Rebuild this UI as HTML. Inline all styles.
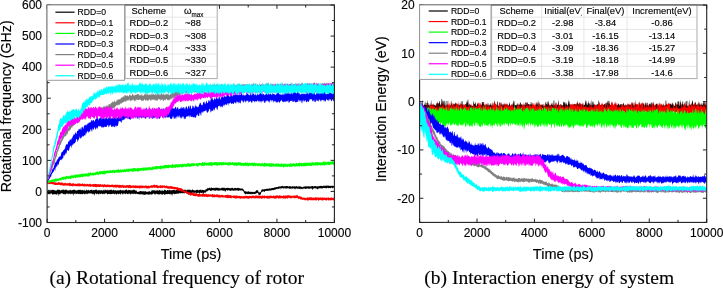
<!DOCTYPE html>
<html><head><meta charset="utf-8"><style>
html,body{margin:0;padding:0;background:#fff;width:723px;height:288px;overflow:hidden}
svg{display:block;will-change:transform}
text{stroke:#000;stroke-width:0.22px;stroke-opacity:0.6}

</style></head><body>
<svg width="723" height="288" viewBox="0 0 723 288" font-family='"Liberation Sans", sans-serif' fill="#000">
<rect width="723" height="288" fill="#fff"/>
<clipPath id="cl"><rect x="47.1" y="5" width="287.3" height="217.5"/></clipPath>
<clipPath id="cr"><rect x="419.6" y="5" width="287.1" height="217.4"/></clipPath>
<g clip-path="url(#cl)">
<path d="M47.1 190.29 47.6 190.7 48.1 190.52 48.6 189.68 49.1 189.8 49.6 190.67 50.1 189.35 50.6 190.59 51.1 190.55 51.6 190.05 52.1 189.8 52.6 189.76 53.1 189.73 53.6 190.02 54.1 190.11 54.6 190.18 55.1 190.85 55.6 190.54 56.1 190.29 56.6 190.84 57.1 189.67 57.6 189.58 58.1 190.27 58.6 189.41 59.1 189.39 59.6 190.12 60.1 190.05 60.6 190.73 61.1 190.3 61.6 190.12 62.1 190.1 62.6 189.72 63.1 189.36 63.6 189.63 64.1 190.39 64.6 189.64 65.1 189.9 65.6 189.35 66.1 190.6 66.6 189.57 67.1 189.75 67.6 190.68 68.1 190.11 68.6 190.63 69.1 190.31 69.6 190.47 70.1 189.48 70.6 190.16 71.1 190.11 71.6 190.66 72.1 189.89 72.6 190.25 73.1 189.43 73.6 189.93 74.1 189.83 74.6 189.57 75.1 190.58 75.6 189.92 76.1 190.83 76.6 190.24 77.1 190.26 77.6 190.31 78.1 190.37 78.6 189.57 79.1 190.01 79.6 189.7 80.1 189.95 80.6 189.49 81.1 190.81 81.6 189.67 82.1 190.36 82.6 189.8 83.1 190.67 83.6 190.35 84.1 189.54 84.6 190.62 85.1 190.78 85.6 190.71 86.1 190.21 86.6 189.56 87.1 189.63 87.6 190.75 88.1 190.18 88.6 189.61 89.1 190.68 89.6 190.32 90.1 190.21 90.6 189.91 91.1 189.96 91.6 189.7 92.1 189.4 92.6 190.67 93.1 190.05 93.6 190.17 94.1 189.83 94.6 190.48 95.1 189.38 95.6 189.91 96.1 189.39 96.6 189.53 97.1 190.81 97.6 190.34 98.1 189.99 98.6 190.14 99.1 190.67 99.6 189.86 100.1 190.24 100.6 190.38 101.1 189.88 101.6 190.13 102.1 190.5 102.6 190.72 103.1 189.57 103.6 190.76 104.1 189.35 104.6 190.48 105.1 190.57 105.6 189.55 106.1 189.98 106.6 190.58 107.1 189.36 107.6 190.3 108.1 190.55 108.6 190.12 109.1 190.44 109.6 189.68 110.1 189.64 110.6 189.89 111.1 189.61 111.6 189.87 112.1 190.78 112.6 190.21 113.1 189.86 113.6 189.75 114.1 190.79 114.6 190.02 115.1 190.83 115.6 190.12 116.1 190.13 116.6 190.7 117.1 190.47 117.6 190.22 118.1 189.99 118.6 190.67 119.1 189.97 119.6 190.74 120.1 189.44 120.6 189.99 121.1 190.13 121.6 190.79 122.1 189.72 122.6 190.57 123.1 190.37 123.6 190.43 124.1 190.3 124.6 190.82 125.1 189.85 125.6 189.95 126.1 189.65 126.6 189.42 127.1 189.66 127.6 190.73 128.1 190.62 128.6 189.51 129.1 190.26 129.6 190.07 130.1 190.24 130.6 190.34 131.1 189.81 131.6 190.8 132.1 190.05 132.6 190.29 133.1 190.31 133.6 189.62 134.1 189.43 134.6 189.97 135.1 190.5 135.6 190.58 136.1 190.58 136.6 190.43 137.1 192 137.6 191.86 138.1 191.95 138.6 191.53 139.1 192 139.6 190.96 140.1 190.94 140.6 190.92 141.1 191.2 141.6 191.2 142.1 191.13 142.6 191.58 143.1 190.95 143.6 191.61 144.1 191.1 144.6 191.71 145.1 190.93 145.6 191.27 146.1 192.03 146.6 191.55 147.1 191.87 147.6 191.69 148.1 191.63 148.6 191.13 149.1 191.59 149.6 190.95 150.1 191.83 150.6 191.84 151.1 191.53 151.6 190.24 152.1 190.43 152.6 190.19 153.1 189.71 153.6 190.49 154.1 190.75 154.6 190.02 155.1 190.85 155.6 190.75 156.1 189.74 156.6 190.71 157.1 190.88 157.6 189.84 158.1 190.41 158.6 190.51 159.1 190.47 159.6 189.69 160.1 190.55 160.6 190.5 161.1 190.79 161.6 190.76 162.1 190.04 162.6 190.64 163.1 190.86 163.6 190.9 164.1 189.79 164.6 189.58 165.1 190.53 165.6 189.87 166.1 190.4 166.6 190.98 167.1 190.12 167.6 189.92 168.1 190.23 168.6 190.54 169.1 189.69 169.6 190.12 170.1 189.74 170.6 190.55 171.1 190.8 171.6 190.11 172.1 190.11 172.6 190.36 173.1 189.87 173.6 189.92 174.1 190.04 174.6 190.24 175.1 189.66 175.6 190.63 176.1 190.33 176.6 189.88 177.1 189.51 177.6 190.48 178.1 189.52 178.6 189.48 179.1 189.44 179.6 189.34 180.1 190.48 180.6 189.53 181.1 189.55 181.6 190.25 182.1 189.92 182.6 189.32 183.1 189.67 183.6 190.3 184.1 189.6 184.6 190.07 185.1 189.23 185.6 190.1 186.1 190.17 186.6 190.24 187.1 190.04 187.6 189.64 188.1 189.23 188.6 189.85 189.1 190.17 189.6 189.42 190.1 189.53 190.6 189.89 191.1 190.18 191.6 190.38 192.1 189.37 192.6 189.45 193.1 190.26 193.6 190.06 194.1 190.17 194.6 190.53 195.1 190.46 195.6 190.34 196.1 190.26 196.6 189.78 197.1 190.09 197.6 189.52 198.1 190.25 198.6 190.25 199.1 190.21 199.6 189.87 200.1 189.8 200.6 189.85 201.1 189.38 201.6 190.39 202.1 190.02 202.6 189.84 203.1 190.04 203.6 190.25 204.1 189.85 204.6 190.39 205.1 190.43 205.6 189.45 206.1 188.82 206.6 189.17 207.1 189.07 207.6 187.81 208.1 188.12 208.6 188.24 209.1 188.34 209.6 187.52 210.1 187.49 210.6 188.42 211.1 187.53 211.6 187.59 212.1 188.01 212.6 187.88 213.1 188.19 213.6 187.62 214.1 188.37 214.6 187.66 215.1 188.23 215.6 187.52 216.1 187.93 216.6 187.49 217.1 187.78 217.6 187.78 218.1 188.2 218.6 187.93 219.1 187.54 219.6 188.48 220.1 188.38 220.6 188.41 221.1 187.74 221.6 187.89 222.1 187.73 222.6 187.63 223.1 187.55 223.6 188.02 224.1 187.65 224.6 187.7 225.1 188.38 225.6 188.01 226.1 187.72 226.6 188.21 227.1 187.81 227.6 188.07 228.1 187.84 228.6 188.07 229.1 188.18 229.6 188.1 230.1 187.96 230.6 188.35 231.1 188.43 231.6 187.76 232.1 187.73 232.6 187.71 233.1 188.55 233.6 188.52 234.1 187.83 234.6 188.55 235.1 187.82 235.6 188.12 236.1 188.12 236.6 188.54 237.1 187.71 237.6 187.99 238.1 188.27 238.6 187.77 239.1 187.95 239.6 188.18 240.1 188.59 240.6 188.49 241.1 188.57 241.6 188.52 242.1 188.48 242.6 188.63 243.1 188.68 243.6 189.77 244.1 190.38 244.6 191.08 245.1 191.67 245.6 191.12 246.1 191.86 246.6 191.57 247.1 191.34 247.6 191.94 248.1 191.21 248.6 191.57 249.1 191.18 249.6 192.04 250.1 191.69 250.6 191.92 251.1 191.44 251.6 191.96 252.1 191.88 252.6 191.85 253.1 192.16 253.6 191.68 254.1 191.68 254.6 191.97 255.1 192.02 255.6 191.04 256.1 190.86 256.6 190 257.1 190.21 257.6 190.3 258.1 190.57 258.6 192.52 259.1 191.83 259.6 192.74 260.1 192.27 260.6 191.94 261.1 190.89 261.6 189.61 262.1 189.74 262.6 189.05 263.1 189.43 263.6 189.36 264.1 189.64 264.6 188.73 265.1 189.05 265.6 189.14 266.1 189 266.6 188.49 267.1 188.89 267.6 188.49 268.1 188.39 268.6 188.94 269.1 188.26 269.6 188.42 270.1 188.6 270.6 188.46 271.1 188.22 271.6 188.34 272.1 187.93 272.6 187.96 273.1 188.03 273.6 187.8 274.1 187.67 274.6 187.36 275.1 187.38 275.6 187.14 276.1 187.34 276.6 186.91 277.1 186.89 277.6 187.04 278.1 186.71 278.6 186.46 279.1 186.78 279.6 186.29 280.1 186.59 280.6 186.43 281.1 186.06 281.6 186.3 282.1 185.71 282.6 186.03 283.1 186.45 283.6 186.21 284.1 186.2 284.6 186.3 285.1 186.32 285.6 186.25 286.1 186.11 286.6 185.91 287.1 186.01 287.6 186.02 288.1 186.15 288.6 186.66 289.1 186.1 289.6 186.19 290.1 186.13 290.6 186.32 291.1 186.65 291.6 186.61 292.1 186.17 292.6 186.08 293.1 186.63 293.6 186.29 294.1 186.47 294.6 185.94 295.1 186.65 295.6 186.17 296.1 186.33 296.6 186.08 297.1 186.28 297.6 186.65 298.1 186.66 298.6 186.35 299.1 186.62 299.6 186.36 300.1 186.33 300.6 186.68 301.1 186.58 301.6 186.88 302.1 187.35 302.6 187.23 303.1 186.42 303.6 186.84 304.1 186.78 304.6 186.44 305.1 186.09 305.6 186.62 306.1 186.22 306.6 186.56 307.1 186.31 307.6 186.53 308.1 186.18 308.6 186.36 309.1 186.39 309.6 186.47 310.1 186.08 310.6 186.73 311.1 186.13 311.6 186.13 312.1 186.07 312.6 185.89 313.1 186.19 313.6 186.49 314.1 186.42 314.6 185.95 315.1 185.89 315.6 186.04 316.1 186.42 316.6 186.16 317.1 186.53 317.6 186.28 318.1 186.24 318.6 186.35 319.1 186.32 319.6 185.95 320.1 185.86 320.6 186.01 321.1 186.04 321.6 185.72 322.1 185.97 322.6 186.13 323.1 185.68 323.6 185.67 324.1 185.68 324.6 185.77 325.1 186.35 325.6 185.51 326.1 185.64 326.6 185.61 327.1 185.87 327.6 185.45 328.1 185.83 328.6 185.56 329.1 185.64 329.6 186.08 330.1 185.54 330.6 185.9 331.1 185.7 331.6 185.7 332.1 186.04 332.6 185.45 333.1 186.11 333.6 186.07 334.1 185.86 L334.1 187.86 333.6 187.53 333.1 188.02 332.6 188.28 332.1 187.93 331.6 187.61 331.1 187.8 330.6 188.14 330.1 188.24 329.6 188.04 329.1 188.08 328.6 188.33 328.1 187.94 327.6 187.81 327.1 187.66 326.6 188.48 326.1 188.23 325.6 188.21 325.1 187.99 324.6 187.95 324.1 187.9 323.6 188.37 323.1 187.81 322.6 188.54 322.1 188.48 321.6 188.58 321.1 188.32 320.6 188.59 320.1 187.92 319.6 188.53 319.1 188.27 318.6 188.74 318.1 188.41 317.6 189.64 317.1 188.67 316.6 188.58 316.1 188.42 315.6 188.22 315.1 188.42 314.6 188.11 314.1 188.39 313.6 188.67 313.1 188.13 312.6 190.19 312.1 188.83 311.6 188.31 311.1 188.76 310.6 188.34 310.1 188.67 309.6 188.88 309.1 188.23 308.6 188.98 308.1 188.48 307.6 188.17 307.1 188.68 306.6 188.48 306.1 189.03 305.6 188.94 305.1 188.76 304.6 188.51 304.1 188.58 303.6 188.56 303.1 189.06 302.6 188.79 302.1 189.36 301.6 188.86 301.1 189.13 300.6 189.28 300.1 188.23 299.6 188.99 299.1 188.97 298.6 188.5 298.1 188.74 297.6 188.4 297.1 188.92 296.6 188.36 296.1 188.51 295.6 188.5 295.1 189.84 294.6 188.53 294.1 188.7 293.6 188.62 293.1 188.21 292.6 188.73 292.1 188.4 291.6 188.4 291.1 188.65 290.6 188.88 290.1 188.23 289.6 188.64 289.1 188.66 288.6 188.48 288.1 188.07 287.6 188.41 287.1 188.3 286.6 188.71 286.1 188.32 285.6 188.49 285.1 188.4 284.6 188.04 284.1 188.4 283.6 188.61 283.1 188.61 282.6 187.98 282.1 188.16 281.6 188.39 281.1 188.28 280.6 188.02 280.1 189.71 279.6 188.29 279.1 188.27 278.6 189.21 278.1 188.73 277.6 188.6 277.1 189.55 276.6 188.9 276.1 188.97 275.6 189.58 275.1 189.87 274.6 189.64 274.1 189.65 273.6 190.19 273.1 189.78 272.6 190.25 272.1 189.94 271.6 190.62 271.1 190.34 270.6 190.39 270.1 190.39 269.6 190.81 269.1 190.49 268.6 190.77 268.1 190.84 267.6 191.07 267.1 190.8 266.6 190.83 266.1 191.03 265.6 190.88 265.1 191.08 264.6 191.88 264.1 191.85 263.6 191.3 263.1 191.38 262.6 191.62 262.1 191.92 261.6 191.7 261.1 193.1 260.6 194.55 260.1 195.06 259.6 195.05 259.1 194.41 258.6 195.15 258.1 193.08 257.6 192.74 257.1 192.94 256.6 193.14 256.1 193.54 255.6 193.76 255.1 193.71 254.6 194.3 254.1 193.93 253.6 193.73 253.1 193.98 252.6 193.99 252.1 194.13 251.6 194.37 251.1 193.62 250.6 194.44 250.1 194.11 249.6 193.83 249.1 194.19 248.6 193.75 248.1 194.23 247.6 193.72 247.1 194.24 246.6 193.85 246.1 193.85 245.6 194.28 245.1 194.21 244.6 193.49 244.1 193.12 243.6 191.74 243.1 190.91 242.6 190.58 242.1 190.72 241.6 190.2 241.1 190.42 240.6 190.21 240.1 190.78 239.6 190.55 239.1 190.18 238.6 190.63 238.1 191.03 237.6 190.54 237.1 190.26 236.6 190.73 236.1 190.06 235.6 190.82 235.1 190.22 234.6 190.57 234.1 190.72 233.6 190.62 233.1 190.82 232.6 190.41 232.1 190.16 231.6 190.14 231.1 190.94 230.6 190.94 230.1 190.44 229.6 190.5 229.1 190.51 228.6 190.06 228.1 190.58 227.6 190.98 227.1 190.05 226.6 190.1 226.1 190.5 225.6 190.93 225.1 192.13 224.6 190.32 224.1 190.89 223.6 190.87 223.1 190.5 222.6 190.71 222.1 190.2 221.6 190.44 221.1 190.01 220.6 190.51 220.1 190.31 219.6 190.4 219.1 190.87 218.6 190.24 218.1 190.98 217.6 190.86 217.1 190.03 216.6 190.17 216.1 190.45 215.6 190.79 215.1 190.82 214.6 190.7 214.1 190.12 213.6 190.06 213.1 190.9 212.6 190 212.1 190.52 211.6 190.64 211.1 190.83 210.6 190.97 210.1 190.59 209.6 190.25 209.1 190.09 208.6 190.62 208.1 190.55 207.6 191.02 207.1 191.57 206.6 191.21 206.1 191.89 205.6 192.31 205.1 193.4 204.6 192.59 204.1 192.53 203.6 193.18 203.1 194.93 202.6 192.45 202.1 192.69 201.6 193.24 201.1 192.82 200.6 192.54 200.1 193.22 199.6 193.55 199.1 193.64 198.6 192.75 198.1 192.46 197.6 193.34 197.1 192.71 196.6 193.01 196.1 193.64 195.6 192.5 195.1 192.56 194.6 192.9 194.1 192.73 193.6 192.57 193.1 194.24 192.6 192.53 192.1 192.49 191.6 192.92 191.1 192.93 190.6 193.42 190.1 193.3 189.6 193.2 189.1 192.56 188.6 193.78 188.1 193.84 187.6 193.33 187.1 192.91 186.6 193.87 186.1 192.8 185.6 192.87 185.1 192.81 184.6 193.87 184.1 192.65 183.6 193.52 183.1 192.76 182.6 193.37 182.1 193.4 181.6 193.09 181.1 193.01 180.6 193.53 180.1 193.34 179.6 192.87 179.1 193.8 178.6 193.37 178.1 194.1 177.6 194.08 177.1 193.26 176.6 193.44 176.1 194.17 175.6 193.76 175.1 193.9 174.6 194.5 174.1 193.8 173.6 193.76 173.1 193.7 172.6 193.69 172.1 196.13 171.6 194.36 171.1 194.2 170.6 194.49 170.1 193.43 169.6 194.44 169.1 194 168.6 193.93 168.1 194.02 167.6 194.06 167.1 194.49 166.6 193.91 166.1 193.96 165.6 194.77 165.1 193.91 164.6 194.78 164.1 194.77 163.6 194.03 163.1 193.74 162.6 194.85 162.1 194.7 161.6 194.53 161.1 193.96 160.6 194.58 160.1 193.58 159.6 194.86 159.1 194.37 158.6 194.46 158.1 194.2 157.6 194.04 157.1 194.2 156.6 193.44 156.1 194.27 155.6 194.74 155.1 193.39 154.6 194.77 154.1 193.84 153.6 193.48 153.1 193.5 152.6 194.75 152.1 193.69 151.6 194.56 151.1 194.98 150.6 193.95 150.1 194.46 149.6 194.75 149.1 194.08 148.6 195.02 148.1 194.62 147.6 194.43 147.1 194.07 146.6 194.2 146.1 194.78 145.6 194.27 145.1 195 144.6 194.96 144.1 194.39 143.6 194.81 143.1 194.39 142.6 194.21 142.1 194.81 141.6 194.3 141.1 193.94 140.6 194.24 140.1 194.6 139.6 194.33 139.1 194.46 138.6 194.06 138.1 194.16 137.6 193.96 137.1 194.24 136.6 193.78 136.1 193.46 135.6 193.91 135.1 194.15 134.6 193.83 134.1 193.39 133.6 194.46 133.1 193.16 132.6 194.33 132.1 193.61 131.6 194.37 131.1 193.32 130.6 194.28 130.1 194.63 129.6 193.68 129.1 193.35 128.6 193.81 128.1 194.27 127.6 193.94 127.1 193.88 126.6 193.4 126.1 193.25 125.6 194.54 125.1 193.85 124.6 193.43 124.1 193.65 123.6 193.21 123.1 194.52 122.6 194.43 122.1 193.4 121.6 193.52 121.1 193.29 120.6 194.54 120.1 194.38 119.6 193.3 119.1 193.99 118.6 194.18 118.1 193.96 117.6 193.71 117.1 193.55 116.6 194.96 116.1 194.26 115.6 193.97 115.1 193.35 114.6 194.38 114.1 194.08 113.6 193.39 113.1 193.89 112.6 194.03 112.1 193.44 111.6 193.98 111.1 194.36 110.6 194.04 110.1 194.28 109.6 194.01 109.1 193.63 108.6 194.12 108.1 194.02 107.6 194.59 107.1 194 106.6 193.26 106.1 193.37 105.6 193.74 105.1 193.2 104.6 193.63 104.1 194.61 103.6 193.83 103.1 193.85 102.6 194.38 102.1 193.54 101.6 193.25 101.1 194.3 100.6 193.7 100.1 193.93 99.6 193.15 99.1 194.46 98.6 194.46 98.1 194.04 97.6 193.24 97.1 194.36 96.6 193.86 96.1 194.48 95.6 193.33 95.1 193.25 94.6 196.1 94.1 194.01 93.6 193.55 93.1 194.54 92.6 194.26 92.1 193.47 91.6 193.85 91.1 193.24 90.6 193.4 90.1 193.55 89.6 193.47 89.1 193.26 88.6 193.6 88.1 193.58 87.6 193.82 87.1 194.45 86.6 193.85 86.1 193.56 85.6 194.25 85.1 193.45 84.6 194.22 84.1 194.6 83.6 193.18 83.1 193.73 82.6 194.2 82.1 194.24 81.6 193.71 81.1 194.27 80.6 194.11 80.1 194.29 79.6 193.59 79.1 194.45 78.6 193.83 78.1 194.1 77.6 193.62 77.1 194.06 76.6 194.3 76.1 193.56 75.6 193.27 75.1 194.43 74.6 193.98 74.1 193.19 73.6 195.91 73.1 193.32 72.6 194.38 72.1 193.34 71.6 194.21 71.1 193.55 70.6 194.57 70.1 193.55 69.6 193.46 69.1 194.18 68.6 194.36 68.1 193.36 67.6 193.51 67.1 194.34 66.6 193.14 66.1 193.75 65.6 194.44 65.1 194.17 64.6 194.51 64.1 193.56 63.6 194.55 63.1 193.82 62.6 193.6 62.1 193.42 61.6 193.34 61.1 193.26 60.6 193.65 60.1 194.29 59.6 194.43 59.1 193.78 58.6 194.19 58.1 196.13 57.6 193.17 57.1 193.92 56.6 195.29 56.1 194.06 55.6 194.59 55.1 194.01 54.6 194.17 54.1 194.15 53.6 194.07 53.1 194.64 52.6 194.53 52.1 194.4 51.6 193.19 51.1 193.62 50.6 193.31 50.1 194.49 49.6 194.59 49.1 193.47 48.6 194.31 48.1 194.05 47.6 194.15 47.1 193.22Z" fill="#000000"/>
<path d="M47.1 181.09 47.6 181.91 48.1 181.93 48.6 181.95 49.1 181.9 49.6 181.66 50.1 181.48 50.6 181.87 51.1 181.42 51.6 181.92 52.1 181.43 52.6 181.42 53.1 182.16 53.6 181.84 54.1 182.23 54.6 182.36 55.1 182.46 55.6 182.29 56.1 182.56 56.6 182.42 57.1 182.74 57.6 182.75 58.1 181.94 58.6 182.21 59.1 182.38 59.6 182.29 60.1 182.25 60.6 183.01 61.1 182.19 61.6 182.39 62.1 183.03 62.6 182.53 63.1 182.61 63.6 183.38 64.1 183.22 64.6 182.94 65.1 182.66 65.6 182.84 66.1 183.61 66.6 183.43 67.1 182.7 67.6 183.38 68.1 183.06 68.6 183.44 69.1 183.01 69.6 182.86 70.1 182.77 70.6 183.07 71.1 183.68 71.6 183.73 72.1 183.53 72.6 183.62 73.1 183.06 73.6 183.25 74.1 183.83 74.6 183.94 75.1 183.4 75.6 183.76 76.1 183.95 76.6 184.03 77.1 183.32 77.6 183.71 78.1 183.46 78.6 183.55 79.1 183.57 79.6 183.4 80.1 183.15 80.6 183.94 81.1 183.89 81.6 184.06 82.1 183.36 82.6 183.47 83.1 183.86 83.6 184.24 84.1 183.77 84.6 183.51 85.1 183.94 85.6 184.33 86.1 184.26 86.6 184.31 87.1 183.82 87.6 183.68 88.1 184.33 88.6 184.25 89.1 184.33 89.6 183.87 90.1 183.78 90.6 183.74 91.1 184.41 91.6 184.48 92.1 183.92 92.6 184.46 93.1 183.96 93.6 184.04 94.1 184.18 94.6 183.84 95.1 183.9 95.6 183.91 96.1 183.92 96.6 184.2 97.1 183.78 97.6 184.51 98.1 183.89 98.6 184.18 99.1 184.41 99.6 183.9 100.1 184.19 100.6 184.37 101.1 184.37 101.6 184.74 102.1 184.64 102.6 183.96 103.1 184.72 103.6 184.44 104.1 184.59 104.6 184.06 105.1 184.4 105.6 184.65 106.1 184.77 106.6 184.79 107.1 184.19 107.6 184.85 108.1 184.59 108.6 184.72 109.1 184.93 109.6 184.48 110.1 185.04 110.6 185.02 111.1 184.96 111.6 184.53 112.1 184.71 112.6 184.36 113.1 184.99 113.6 185.14 114.1 184.4 114.6 185.03 115.1 184.99 115.6 184.33 116.1 185.26 116.6 184.83 117.1 184.63 117.6 184.4 118.1 185.2 118.6 184.76 119.1 184.96 119.6 184.65 120.1 185.1 120.6 184.9 121.1 185.34 121.6 185.22 122.1 185.29 122.6 184.82 123.1 184.65 123.6 185.51 124.1 185.59 124.6 185.31 125.1 185.62 125.6 185.41 126.1 185.33 126.6 185.15 127.1 185.1 127.6 185.26 128.1 185 128.6 185.23 129.1 185.32 129.6 184.84 130.1 185.22 130.6 185.12 131.1 185.49 131.6 185.69 132.1 185.49 132.6 185.55 133.1 185.51 133.6 185.15 134.1 185.28 134.6 185.78 135.1 185.9 135.6 185.11 136.1 184.94 136.6 185.94 137.1 185.84 137.6 185.59 138.1 185.82 138.6 185.6 139.1 185.93 139.6 185.25 140.1 185.47 140.6 185.72 141.1 185.25 141.6 185.78 142.1 185.32 142.6 185.79 143.1 185.9 143.6 185.52 144.1 186.12 144.6 185.75 145.1 185.89 145.6 185.14 146.1 185.24 146.6 185.87 147.1 186.12 147.6 185.81 148.1 186.11 148.6 185.23 149.1 186.09 149.6 186 150.1 185.67 150.6 185.39 151.1 185.6 151.6 185.04 152.1 185.41 152.6 185.36 153.1 185.15 153.6 184.87 154.1 184.62 154.6 184.84 155.1 185.52 155.6 184.9 156.1 184.77 156.6 184.97 157.1 185.27 157.6 185.36 158.1 185.68 158.6 185.67 159.1 185.81 159.6 185.74 160.1 185.31 160.6 185 161.1 185.87 161.6 185.13 162.1 185.56 162.6 185.2 163.1 185.8 163.6 185.17 164.1 185.43 164.6 185.27 165.1 185.99 165.6 185.79 166.1 185.86 166.6 185.58 167.1 185.49 167.6 186.25 168.1 186.21 168.6 186.23 169.1 186.56 169.6 186.16 170.1 185.81 170.6 186.31 171.1 186.03 171.6 186.32 172.1 186.32 172.6 186.48 173.1 186.9 173.6 186.84 174.1 186.48 174.6 186.96 175.1 187.05 175.6 187.08 176.1 187.02 176.6 187.54 177.1 187.28 177.6 187.05 178.1 187.38 178.6 187.95 179.1 187.82 179.6 188.03 180.1 188.17 180.6 188.12 181.1 188.18 181.6 188.3 182.1 189.13 182.6 189.02 183.1 189.41 183.6 190.15 184.1 190.08 184.6 190.52 185.1 190.72 185.6 191.17 186.1 190.5 186.6 191.08 187.1 191.92 187.6 191.66 188.1 192.42 188.6 191.87 189.1 191.83 189.6 192.79 190.1 192.38 190.6 192.57 191.1 193.11 191.6 192.45 192.1 193.32 192.6 192.82 193.1 192.76 193.6 192.83 194.1 193.22 194.6 193.26 195.1 193.78 195.6 193.01 196.1 193.09 196.6 193.29 197.1 193.86 197.6 194.1 198.1 193.81 198.6 193.97 199.1 194.02 199.6 193.39 200.1 193.65 200.6 194.45 201.1 193.78 201.6 194.44 202.1 193.99 202.6 193.73 203.1 193.52 203.6 193.77 204.1 193.9 204.6 194.04 205.1 194.07 205.6 194.2 206.1 194.14 206.6 193.7 207.1 193.97 207.6 194.71 208.1 193.76 208.6 194.51 209.1 194.27 209.6 194.53 210.1 194.16 210.6 194.22 211.1 194.39 211.6 194.82 212.1 194.24 212.6 194.01 213.1 193.98 213.6 194.88 214.1 194.31 214.6 194.13 215.1 194.65 215.6 194.93 216.1 194.69 216.6 194.25 217.1 194.54 217.6 194.42 218.1 194.19 218.6 195.21 219.1 194.71 219.6 194.4 220.1 195.2 220.6 195.34 221.1 195.19 221.6 194.63 222.1 194.59 222.6 194.97 223.1 195.06 223.6 195.39 224.1 195.51 224.6 195.48 225.1 194.91 225.6 195.2 226.1 194.74 226.6 195.18 227.1 194.74 227.6 194.81 228.1 194.85 228.6 195.07 229.1 195.1 229.6 195.54 230.1 194.91 230.6 194.98 231.1 195.57 231.6 195.62 232.1 195.68 232.6 195.72 233.1 195.69 233.6 195.6 234.1 195.83 234.6 195.17 235.1 195.33 235.6 195.91 236.1 195.37 236.6 195.74 237.1 195.49 237.6 195.7 238.1 196.14 238.6 195.99 239.1 195.79 239.6 195.64 240.1 196.22 240.6 196.06 241.1 195.83 241.6 196.27 242.1 196.09 242.6 196.38 243.1 196.05 243.6 196.29 244.1 195.92 244.6 196.09 245.1 196.22 245.6 195.44 246.1 195.83 246.6 195.96 247.1 195.39 247.6 196.15 248.1 196.07 248.6 196.29 249.1 195.7 249.6 195.8 250.1 196.26 250.6 195.73 251.1 196.17 251.6 195.74 252.1 195.65 252.6 195.58 253.1 195.51 253.6 195.73 254.1 195.45 254.6 196.14 255.1 196.29 255.6 195.37 256.1 195.33 256.6 195.27 257.1 196.23 257.6 195.33 258.1 195.96 258.6 195.57 259.1 195.45 259.6 195.5 260.1 195.96 260.6 195.26 261.1 196.13 261.6 195.82 262.1 195.47 262.6 195.44 263.1 195.9 263.6 195.87 264.1 195.54 264.6 195.56 265.1 195.69 265.6 196.15 266.1 195.76 266.6 196.07 267.1 195.86 267.6 195.77 268.1 195.69 268.6 195.89 269.1 195.69 269.6 195.93 270.1 195.36 270.6 195.5 271.1 196.07 271.6 195.57 272.1 196.03 272.6 196.13 273.1 195.75 273.6 195.25 274.1 195.93 274.6 195.83 275.1 195.44 275.6 196.03 276.1 195.63 276.6 195.18 277.1 195.19 277.6 195.36 278.1 195.75 278.6 195.96 279.1 195.21 279.6 195.13 280.1 195.75 280.6 195.52 281.1 195.55 281.6 195.94 282.1 196.04 282.6 196.09 283.1 195.89 283.6 195.08 284.1 195.23 284.6 195.68 285.1 196.06 285.6 195.15 286.1 195.59 286.6 195.47 287.1 195.48 287.6 195.33 288.1 195.33 288.6 195.29 289.1 195.15 289.6 195.61 290.1 195.5 290.6 195.77 291.1 195.69 291.6 196.01 292.1 195.37 292.6 195.93 293.1 195.41 293.6 195.69 294.1 195.84 294.6 195.41 295.1 195.46 295.6 195.65 296.1 195.1 296.6 195.54 297.1 195.08 297.6 195.25 298.1 195.85 298.6 196.39 299.1 196.6 299.6 196.01 300.1 196.08 300.6 196.65 301.1 196.75 301.6 196.87 302.1 197.45 302.6 197.57 303.1 197.56 303.6 197.63 304.1 197.59 304.6 197.69 305.1 197.96 305.6 197.98 306.1 198.02 306.6 197.9 307.1 197.12 307.6 197.48 308.1 197.83 308.6 197.32 309.1 197.65 309.6 197.08 310.1 197.24 310.6 197.44 311.1 197.1 311.6 197.48 312.1 197.28 312.6 197.94 313.1 197.38 313.6 197.44 314.1 197.88 314.6 197.64 315.1 197.11 315.6 197.29 316.1 197.7 316.6 197.27 317.1 197.33 317.6 197.72 318.1 197.59 318.6 197.36 319.1 197.66 319.6 197.74 320.1 197.13 320.6 197.38 321.1 197.42 321.6 198.01 322.1 197.16 322.6 197.47 323.1 197.31 323.6 197.83 324.1 197.96 324.6 197.18 325.1 198.02 325.6 197.85 326.1 197.35 326.6 198.08 327.1 197.44 327.6 197.96 328.1 197.22 328.6 197.62 329.1 197.67 329.6 198.08 330.1 198.02 330.6 197.72 331.1 197.21 331.6 197.61 332.1 197.56 332.6 198.2 333.1 197.88 333.6 197.6 334.1 197.56 L334.1 200.64 333.6 200.4 333.1 199.91 332.6 199.99 332.1 200.57 331.6 200.02 331.1 200.38 330.6 200.34 330.1 200.62 329.6 200.12 329.1 200.38 328.6 200.32 328.1 200.77 327.6 199.8 327.1 199.74 326.6 200.53 326.1 200.66 325.6 200.23 325.1 200.08 324.6 199.9 324.1 200.11 323.6 200.43 323.1 199.85 322.6 200.65 322.1 200.54 321.6 200.07 321.1 200.43 320.6 200.1 320.1 199.71 319.6 200.34 319.1 199.97 318.6 200.66 318.1 200.64 317.6 199.72 317.1 199.84 316.6 200.41 316.1 200.54 315.6 200.61 315.1 199.93 314.6 200.07 314.1 200.45 313.6 200.18 313.1 200.29 312.6 200.36 312.1 200.35 311.6 200.36 311.1 200.14 310.6 200.07 310.1 200.57 309.6 199.88 309.1 200.02 308.6 200.42 308.1 200.58 307.6 200.52 307.1 200.58 306.6 199.61 306.1 200.44 305.6 200.37 305.1 200.15 304.6 200.26 304.1 199.68 303.6 199.65 303.1 199.85 302.6 200.28 302.1 199.38 301.6 199.28 301.1 199.8 300.6 199.41 300.1 199.19 299.6 198.35 299.1 199.17 298.6 198.98 298.1 198.78 297.6 197.77 297.1 198.32 296.6 198.15 296.1 197.87 295.6 198.48 295.1 197.79 294.6 198.5 294.1 198.13 293.6 198.15 293.1 197.61 292.6 197.71 292.1 198.15 291.6 198.16 291.1 198.01 290.6 198.55 290.1 198.45 289.6 198.12 289.1 197.68 288.6 197.67 288.1 198.3 287.6 198.66 287.1 198.41 286.6 198.05 286.1 198.18 285.6 198.69 285.1 198.69 284.6 198.54 284.1 198.5 283.6 198.51 283.1 198.62 282.6 198.07 282.1 198.57 281.6 198.07 281.1 198.29 280.6 198.46 280.1 198.36 279.6 198.24 279.1 198.48 278.6 198.65 278.1 198.46 277.6 197.82 277.1 197.91 276.6 198.44 276.1 198.18 275.6 198.64 275.1 198.68 274.6 198.45 274.1 198.42 273.6 198.09 273.1 198.52 272.6 198 272.1 198.58 271.6 197.95 271.1 198.36 270.6 197.8 270.1 198.76 269.6 198.56 269.1 198.4 268.6 198.73 268.1 198.61 267.6 198.79 267.1 198.17 266.6 198.45 266.1 198.16 265.6 197.92 265.1 198.02 264.6 198.66 264.1 198.59 263.6 198 263.1 198.15 262.6 198.49 262.1 198.42 261.6 198.81 261.1 198.62 260.6 197.98 260.1 198.64 259.6 198.6 259.1 198.19 258.6 198.62 258.1 197.95 257.6 198.74 257.1 198.03 256.6 198.24 256.1 198.04 255.6 198.19 255.1 198.63 254.6 198.38 254.1 197.98 253.6 198.32 253.1 197.98 252.6 198.12 252.1 198.47 251.6 198.82 251.1 198.09 250.6 198.32 250.1 198.01 249.6 198.77 249.1 198.36 248.6 198.94 248.1 198.39 247.6 198.26 247.1 198.91 246.6 198.44 246.1 198.37 245.6 198.08 245.1 198.58 244.6 198.79 244.1 198.27 243.6 198.57 243.1 198.81 242.6 198.27 242.1 198.53 241.6 198.23 241.1 198.38 240.6 198.74 240.1 198.78 239.6 197.96 239.1 198.68 238.6 198.32 238.1 198.08 237.6 198.53 237.1 198.12 236.6 198.15 236.1 198.72 235.6 198.68 235.1 198.2 234.6 198.18 234.1 198.09 233.6 197.94 233.1 198.1 232.6 197.58 232.1 197.58 231.6 198.46 231.1 197.7 230.6 198.33 230.1 198.28 229.6 197.89 229.1 197.98 228.6 198.16 228.1 197.72 227.6 198.19 227.1 198.28 226.6 197.43 226.1 198.14 225.6 197.45 225.1 197.65 224.6 197.32 224.1 197.44 223.6 197.53 223.1 197.49 222.6 197.69 222.1 197.01 221.6 197.04 221.1 197.43 220.6 197.79 220.1 197.54 219.6 197.84 219.1 197.13 218.6 197.59 218.1 197.38 217.6 197.28 217.1 196.91 216.6 196.86 216.1 197.57 215.6 196.65 215.1 197.31 214.6 197.3 214.1 197.38 213.6 197.23 213.1 197.02 212.6 197.52 212.1 197.2 211.6 196.72 211.1 196.64 210.6 196.81 210.1 196.55 209.6 196.41 209.1 196.96 208.6 196.93 208.1 196.55 207.6 197.06 207.1 197.21 206.6 196.91 206.1 196.68 205.6 196.81 205.1 196.25 204.6 197.04 204.1 196.96 203.6 196.31 203.1 197.03 202.6 197.1 202.1 196.12 201.6 196.74 201.1 196.21 200.6 196.81 200.1 196.45 199.6 196.81 199.1 196.81 198.6 196.87 198.1 196.74 197.6 196.84 197.1 196.06 196.6 195.99 196.1 195.92 195.6 196.27 195.1 196.14 194.6 196.27 194.1 195.79 193.6 196.02 193.1 195.94 192.6 195.32 192.1 195.34 191.6 195.22 191.1 195.41 190.6 195.47 190.1 195.56 189.6 195.15 189.1 194.52 188.6 194.67 188.1 195 187.6 193.97 187.1 193.81 186.6 193.4 186.1 193.23 185.6 192.84 185.1 193.18 184.6 192.8 184.1 192.47 183.6 191.92 183.1 191.78 182.6 191.49 182.1 191.26 181.6 191.71 181.1 191.47 180.6 190.75 180.1 190.59 179.6 191.07 179.1 190.88 178.6 190.9 178.1 190.03 177.6 190.45 177.1 189.71 176.6 189.49 176.1 189.96 175.6 189.13 175.1 188.97 174.6 189.65 174.1 189.03 173.6 188.94 173.1 189.32 172.6 188.89 172.1 188.65 171.6 189.3 171.1 188.6 170.6 188.53 170.1 188.93 169.6 188.62 169.1 188.77 168.6 188.7 168.1 188.93 167.6 188.35 167.1 188.82 166.6 187.95 166.1 188.26 165.6 188.42 165.1 187.78 164.6 187.66 164.1 188.01 163.6 187.6 163.1 187.59 162.6 188.16 162.1 188.27 161.6 188.09 161.1 187.65 160.6 187.99 160.1 188.39 159.6 187.65 159.1 187.44 158.6 188.34 158.1 187.89 157.6 188.18 157.1 188.35 156.6 187.6 156.1 187.93 155.6 187.64 155.1 187.32 154.6 187.8 154.1 187.88 153.6 187.31 153.1 187.56 152.6 188.15 152.1 187.6 151.6 187.67 151.1 188.08 150.6 187.54 150.1 187.93 149.6 188.25 149.1 188.24 148.6 188.53 148.1 188.21 147.6 188.49 147.1 188.46 146.6 188.13 146.1 188.65 145.6 187.82 145.1 187.76 144.6 187.7 144.1 188.66 143.6 187.87 143.1 187.69 142.6 187.98 142.1 188.59 141.6 188.29 141.1 187.86 140.6 188.12 140.1 188.47 139.6 188.38 139.1 188.38 138.6 187.82 138.1 188.32 137.6 187.93 137.1 188.57 136.6 187.98 136.1 188.11 135.6 188.46 135.1 187.97 134.6 188.01 134.1 187.66 133.6 188.35 133.1 187.58 132.6 187.79 132.1 188.11 131.6 187.94 131.1 187.7 130.6 188.25 130.1 188.36 129.6 187.55 129.1 188.41 128.6 188.1 128.1 188.11 127.6 187.47 127.1 187.69 126.6 187.89 126.1 187.53 125.6 187.69 125.1 188.29 124.6 187.53 124.1 187.85 123.6 188.19 123.1 187.8 122.6 187.44 122.1 187.15 121.6 187.57 121.1 187.98 120.6 187.65 120.1 187.77 119.6 188.08 119.1 187.73 118.6 187.55 118.1 187.78 117.6 187.37 117.1 186.99 116.6 187.68 116.1 187.78 115.6 187.24 115.1 187.68 114.6 187.27 114.1 186.95 113.6 187.63 113.1 187.31 112.6 187.24 112.1 186.85 111.6 187.19 111.1 186.89 110.6 186.99 110.1 187.41 109.6 187.1 109.1 187.13 108.6 187.08 108.1 187.14 107.6 186.99 107.1 187.01 106.6 187.55 106.1 186.66 105.6 187.44 105.1 186.83 104.6 186.68 104.1 187.24 103.6 187.13 103.1 187.47 102.6 186.83 102.1 186.83 101.6 186.66 101.1 187.02 100.6 186.45 100.1 186.97 99.6 186.97 99.1 187.33 98.6 187.03 98.1 186.73 97.6 187.25 97.1 186.53 96.6 187.23 96.1 187.19 95.6 186.98 95.1 187.07 94.6 186.42 94.1 187.19 93.6 186.64 93.1 186.82 92.6 186.7 92.1 186.15 91.6 186.44 91.1 186.62 90.6 186.83 90.1 186.83 89.6 186.66 89.1 186.17 88.6 186.42 88.1 186.63 87.6 186.35 87.1 186.26 86.6 186.02 86.1 186.91 85.6 186.16 85.1 186.25 84.6 186.58 84.1 186.58 83.6 186.05 83.1 186.76 82.6 185.92 82.1 186.35 81.6 185.91 81.1 186.26 80.6 185.76 80.1 186.66 79.6 186.61 79.1 185.74 78.6 186.52 78.1 186.17 77.6 186.38 77.1 185.68 76.6 186.14 76.1 186.51 75.6 185.93 75.1 185.92 74.6 185.73 74.1 185.99 73.6 186.51 73.1 185.58 72.6 186.47 72.1 186.19 71.6 186.12 71.1 185.94 70.6 186.13 70.1 185.45 69.6 186.03 69.1 186.33 68.6 185.33 68.1 185.83 67.6 185.67 67.1 185.54 66.6 185.75 66.1 185.21 65.6 185.17 65.1 185.97 64.6 185.49 64.1 185.59 63.6 185.63 63.1 185.87 62.6 184.9 62.1 185.65 61.6 184.93 61.1 185.28 60.6 185.45 60.1 184.99 59.6 184.63 59.1 184.75 58.6 184.83 58.1 184.88 57.6 184.97 57.1 184.9 56.6 184.85 56.1 184.89 55.6 185.06 55.1 184.94 54.6 185.04 54.1 184.51 53.6 184.17 53.1 184.73 52.6 184.3 52.1 183.9 51.6 183.82 51.1 184.13 50.6 183.81 50.1 184.01 49.6 184.26 49.1 183.94 48.6 184.12 48.1 184.21 47.6 183.46 47.1 184.06Z" fill="#ff0000"/>
<path d="M47.1 180.7 47.6 180.58 48.1 180.31 48.6 180.64 49.1 180.7 49.6 179.91 50.1 180.21 50.6 180.1 51.1 179.52 51.6 179.85 52.1 179.45 52.6 179.25 53.1 179.99 53.6 178.88 54.1 179.04 54.6 179.23 55.1 178.87 55.6 178.3 56.1 179.16 56.6 178.31 57.1 178.39 57.6 178.86 58.1 178.82 58.6 178.64 59.1 177.9 59.6 178.19 60.1 178.2 60.6 177.27 61.1 178.12 61.6 176.9 62.1 177.49 62.6 176.83 63.1 176.68 63.6 176.46 64.1 177.39 64.6 176.2 65.1 177.12 65.6 176 66.1 176.12 66.6 175.89 67.1 176.87 67.6 175.58 68.1 176.55 68.6 175.72 69.1 176.52 69.6 176.17 70.1 175.44 70.6 175.7 71.1 175.16 71.6 175.41 72.1 174.83 72.6 175.64 73.1 175.44 73.6 174.94 74.1 174.51 74.6 175.69 75.1 174.51 75.6 174.71 76.1 174.23 76.6 174.64 77.1 174.59 77.6 174.69 78.1 174.34 78.6 174.16 79.1 174.81 79.6 174.05 80.1 174.05 80.6 174.19 81.1 173.83 81.6 174.36 82.1 173.42 82.6 173.67 83.1 173.73 83.6 173.43 84.1 174.14 84.6 173.41 85.1 173.43 85.6 173.42 86.1 173.83 86.6 172.94 87.1 173.69 87.6 173.78 88.1 172.8 88.6 172.6 89.1 173.37 89.6 172.66 90.1 172.47 90.6 172.21 91.1 172.86 91.6 173.23 92.1 173.09 92.6 172.63 93.1 172.36 93.6 173.01 94.1 172.52 94.6 172.85 95.1 172.42 95.6 172.37 96.1 172.31 96.6 171.46 97.1 171.57 97.6 171.25 98.1 172.35 98.6 172.37 99.1 171.77 99.6 171.1 100.1 170.99 100.6 171.36 101.1 171.21 101.6 170.88 102.1 170.67 102.6 171.36 103.1 171.49 103.6 170.44 104.1 170.7 104.6 170.62 105.1 170.88 105.6 170.9 106.1 170.57 106.6 171.12 107.1 170.41 107.6 170.23 108.1 170.81 108.6 170.87 109.1 170.88 109.6 169.88 110.1 169.88 110.6 170.2 111.1 170.84 111.6 170.33 112.1 170.29 112.6 169.85 113.1 170.7 113.6 169.57 114.1 170.04 114.6 170.16 115.1 170.3 115.6 170.26 116.1 169.64 116.6 169.45 117.1 170.36 117.6 169.75 118.1 169.34 118.6 169.1 119.1 169.96 119.6 169.98 120.1 169.56 120.6 169.27 121.1 169.6 121.6 170 122.1 169.41 122.6 169.65 123.1 169.74 123.6 169.53 124.1 169.13 124.6 168.67 125.1 169.33 125.6 169.47 126.1 169.6 126.6 168.47 127.1 168.38 127.6 169.04 128.1 169.26 128.6 168.21 129.1 168.91 129.6 168.41 130.1 169.37 130.6 168.48 131.1 168.07 131.6 168.98 132.1 168.3 132.6 168.43 133.1 168.01 133.6 168.25 134.1 167.96 134.6 168.1 135.1 168.5 135.6 168.09 136.1 168.56 136.6 168.84 137.1 168.38 137.6 167.61 138.1 168.83 138.6 167.78 139.1 167.95 139.6 168.16 140.1 168.25 140.6 167.82 141.1 167.9 141.6 168.1 142.1 167.82 142.6 167.53 143.1 167.65 143.6 167.56 144.1 167.38 144.6 167.75 145.1 167.57 145.6 167.38 146.1 167.73 146.6 167.82 147.1 167.54 147.6 167.07 148.1 167.83 148.6 166.65 149.1 167.54 149.6 166.97 150.1 166.88 150.6 167.43 151.1 167.13 151.6 167.5 152.1 167.32 152.6 166.24 153.1 166.71 153.6 167.01 154.1 166.03 154.6 166.6 155.1 167.15 155.6 166.08 156.1 165.87 156.6 166.05 157.1 166.07 157.6 165.93 158.1 166.08 158.6 166.57 159.1 166.09 159.6 166.13 160.1 165.43 160.6 165.32 161.1 166.46 161.6 165.59 162.1 166.35 162.6 165.47 163.1 165.82 163.6 165.8 164.1 164.98 164.6 164.9 165.1 165.34 165.6 164.87 166.1 165.04 166.6 164.85 167.1 164.96 167.6 165.1 168.1 164.85 168.6 164.83 169.1 164.98 169.6 165.19 170.1 164.27 170.6 165.53 171.1 164.73 171.6 165.36 172.1 164.09 172.6 164.12 173.1 164.14 173.6 165.21 174.1 164.49 174.6 165.05 175.1 164.81 175.6 163.95 176.1 164.29 176.6 164.21 177.1 164.34 177.6 164.71 178.1 163.77 178.6 164.87 179.1 164.23 179.6 164.05 180.1 164.46 180.6 163.86 181.1 164.41 181.6 163.97 182.1 164.02 182.6 163.6 183.1 163.58 183.6 164.44 184.1 164.02 184.6 163.77 185.1 164.21 185.6 164.36 186.1 163.31 186.6 164.41 187.1 163.05 187.6 163.82 188.1 163.31 188.6 163.26 189.1 163.56 189.6 163.67 190.1 163.41 190.6 163.75 191.1 164.03 191.6 162.94 192.1 163 192.6 163.47 193.1 163.16 193.6 163 194.1 163.22 194.6 163.44 195.1 163.69 195.6 163.7 196.1 163.5 196.6 162.83 197.1 163.52 197.6 163.25 198.1 162.49 198.6 163.51 199.1 162.52 199.6 163.07 200.1 163.06 200.6 163.34 201.1 163 201.6 163.41 202.1 162.15 202.6 162.11 203.1 162.31 203.6 162.81 204.1 162.59 204.6 162.12 205.1 162.27 205.6 162.76 206.1 162.51 206.6 162.99 207.1 162.57 207.6 163.11 208.1 162.94 208.6 162.57 209.1 162.37 209.6 162.17 210.1 162.26 210.6 162.33 211.1 162.33 211.6 162.07 212.1 162.45 212.6 161.95 213.1 162.96 213.6 162.52 214.1 161.89 214.6 162.19 215.1 162.08 215.6 161.93 216.1 162.36 216.6 161.94 217.1 161.89 217.6 162.62 218.1 162.24 218.6 162.55 219.1 162.27 219.6 162.3 220.1 162.03 220.6 162.17 221.1 162.23 221.6 162.03 222.1 162.67 222.6 161.88 223.1 161.83 223.6 162 224.1 162.61 224.6 162.71 225.1 162.34 225.6 162.08 226.1 162.48 226.6 162.74 227.1 161.97 227.6 162.55 228.1 162.63 228.6 162.21 229.1 161.89 229.6 162.53 230.1 162.01 230.6 162.24 231.1 162.49 231.6 163.07 232.1 161.99 232.6 161.9 233.1 162.55 233.6 163.11 234.1 161.91 234.6 162.73 235.1 161.92 235.6 162.64 236.1 162.07 236.6 162.81 237.1 162.43 237.6 162.84 238.1 162.32 238.6 162.08 239.1 162.24 239.6 162.38 240.1 162.25 240.6 162.31 241.1 162.79 241.6 162.66 242.1 163.2 242.6 162.77 243.1 162.84 243.6 163.08 244.1 163.29 244.6 162.94 245.1 162.22 245.6 162.8 246.1 162.24 246.6 163.02 247.1 162.31 247.6 162.96 248.1 162.45 248.6 163.42 249.1 162.4 249.6 163.18 250.1 163.25 250.6 162.69 251.1 163.13 251.6 162.79 252.1 162.71 252.6 162.72 253.1 162.41 253.6 163.31 254.1 162.51 254.6 162.69 255.1 162.56 255.6 163.54 256.1 163.18 256.6 163.11 257.1 163.28 257.6 163.6 258.1 163.37 258.6 163.23 259.1 162.97 259.6 163.26 260.1 163.91 260.6 163.36 261.1 163.25 261.6 163.82 262.1 162.71 262.6 162.73 263.1 163.73 263.6 163.95 264.1 162.76 264.6 162.73 265.1 162.73 265.6 163.51 266.1 162.93 266.6 163.51 267.1 163.67 267.6 162.81 268.1 163.97 268.6 163.15 269.1 163.57 269.6 163.32 270.1 163.32 270.6 163.41 271.1 162.89 271.6 163.47 272.1 163.27 272.6 163.4 273.1 163.16 273.6 163.4 274.1 163.91 274.6 164.31 275.1 163.26 275.6 164.17 276.1 163.85 276.6 163.17 277.1 163.07 277.6 164.25 278.1 163.39 278.6 163.23 279.1 163.99 279.6 164.07 280.1 164.34 280.6 163.82 281.1 163.58 281.6 163.6 282.1 163.46 282.6 164.06 283.1 164.48 283.6 163.34 284.1 163.72 284.6 163.65 285.1 163.26 285.6 163.93 286.1 164.43 286.6 163.46 287.1 164.04 287.6 164.25 288.1 163.38 288.6 164.23 289.1 163.98 289.6 163.81 290.1 163.18 290.6 163.27 291.1 163.01 291.6 164.06 292.1 163.92 292.6 162.92 293.1 163.49 293.6 163.04 294.1 163.76 294.6 163.48 295.1 163.96 295.6 163.64 296.1 162.77 296.6 163.11 297.1 163.37 297.6 163.79 298.1 163.04 298.6 162.77 299.1 162.88 299.6 162.8 300.1 162.65 300.6 162.89 301.1 162.73 301.6 163.06 302.1 163.56 302.6 163.62 303.1 162.52 303.6 163.05 304.1 163.17 304.6 162.44 305.1 162.93 305.6 162.46 306.1 162.65 306.6 162.58 307.1 163.21 307.6 162.41 308.1 162.8 308.6 162.83 309.1 162.47 309.6 163.25 310.1 162.42 310.6 162.39 311.1 162.86 311.6 162.56 312.1 162.86 312.6 162.06 313.1 162.03 313.6 162.8 314.1 162.31 314.6 162.92 315.1 162.05 315.6 162.04 316.1 162.85 316.6 162.15 317.1 161.79 317.6 161.92 318.1 162.63 318.6 161.93 319.1 162.3 319.6 162.65 320.1 162.32 320.6 162.49 321.1 162.77 321.6 161.83 322.1 162.59 322.6 162.13 323.1 161.63 323.6 161.51 324.1 161.75 324.6 161.47 325.1 162.31 325.6 161.99 326.1 161.28 326.6 162.38 327.1 161.97 327.6 161.74 328.1 161.31 328.6 161.73 329.1 162.31 329.6 161.84 330.1 161.65 330.6 161.83 331.1 161.72 331.6 161.8 332.1 161.2 332.6 161.11 333.1 160.9 333.6 161.99 334.1 160.84 L334.1 164.97 333.6 164.46 333.1 164.93 332.6 164.23 332.1 164.25 331.6 163.99 331.1 165.08 330.6 164.16 330.1 164.42 329.6 165.21 329.1 165.08 328.6 165.06 328.1 164.94 327.6 164.27 327.1 165.02 326.6 164.52 326.1 165.54 325.6 165.49 325.1 164.38 324.6 165.49 324.1 165.39 323.6 165.48 323.1 164.85 322.6 165.66 322.1 165.33 321.6 164.85 321.1 165.64 320.6 165.78 320.1 165.15 319.6 164.99 319.1 165.27 318.6 165.22 318.1 165.09 317.6 165.78 317.1 165.86 316.6 165.52 316.1 165.02 315.6 165.72 315.1 165.27 314.6 165.94 314.1 165.23 313.6 165.66 313.1 164.85 312.6 164.88 312.1 166.04 311.6 165.96 311.1 166.16 310.6 165.72 310.1 166.09 309.6 166 309.1 165.74 308.6 166 308.1 165.61 307.6 165.96 307.1 165.63 306.6 165.68 306.1 166.44 305.6 165.97 305.1 166.4 304.6 166.2 304.1 166 303.6 166.43 303.1 165.8 302.6 166.36 302.1 166.66 301.6 165.98 301.1 166.54 300.6 165.51 300.1 165.92 299.6 166.72 299.1 166.63 298.6 166.18 298.1 166.05 297.6 166.51 297.1 166.38 296.6 166.09 296.1 166.56 295.6 166.38 295.1 166.81 294.6 166.22 294.1 166.66 293.6 165.89 293.1 165.79 292.6 166.19 292.1 167.1 291.6 166.38 291.1 167.13 290.6 166.73 290.1 166.53 289.6 167.2 289.1 166.42 288.6 166.41 288.1 166.25 287.6 167 287.1 167.19 286.6 166.39 286.1 167.02 285.6 166.69 285.1 166.87 284.6 166.57 284.1 167.39 283.6 167.39 283.1 167.15 282.6 166.62 282.1 166.51 281.6 167.35 281.1 166.61 280.6 167.14 280.1 166.48 279.6 166.34 279.1 167.42 278.6 166.2 278.1 166.95 277.6 166.81 277.1 166.14 276.6 166.76 276.1 166.37 275.6 167.25 275.1 166.1 274.6 166.45 274.1 166.39 273.6 166.14 273.1 166.32 272.6 166.5 272.1 166.87 271.6 167.09 271.1 166.45 270.6 166.71 270.1 166.62 269.6 166.69 269.1 167.15 268.6 165.86 268.1 166.42 267.6 165.88 267.1 165.78 266.6 166.04 266.1 167.02 265.6 166.07 265.1 166.76 264.6 166.15 264.1 167 263.6 166.82 263.1 165.71 262.6 166.41 262.1 165.95 261.6 165.71 261.1 166.75 260.6 166.21 260.1 166.31 259.6 165.82 259.1 166.37 258.6 166.36 258.1 165.79 257.6 165.9 257.1 166.19 256.6 165.58 256.1 165.54 255.6 166.74 255.1 165.7 254.6 165.49 254.1 166.52 253.6 166 253.1 166.54 252.6 165.77 252.1 165.72 251.6 165.59 251.1 165.77 250.6 165.73 250.1 165.49 249.6 165.67 249.1 165.69 248.6 166.56 248.1 166.18 247.6 166.42 247.1 165.33 246.6 165.74 246.1 165.93 245.6 165.69 245.1 166.03 244.6 165.45 244.1 165.91 243.6 165.91 243.1 166.37 242.6 165.52 242.1 165.55 241.6 166.32 241.1 165.63 240.6 165.31 240.1 165.9 239.6 165.13 239.1 165.39 238.6 165.4 238.1 165.6 237.6 165.71 237.1 165.1 236.6 166.21 236.1 165.84 235.6 165.26 235.1 165.96 234.6 166.06 234.1 164.95 233.6 165.71 233.1 164.99 232.6 164.85 232.1 164.9 231.6 164.81 231.1 165.21 230.6 165.06 230.1 165.38 229.6 164.78 229.1 165.97 228.6 165.94 228.1 165.03 227.6 165.21 227.1 165.24 226.6 164.87 226.1 164.94 225.6 165.33 225.1 165.05 224.6 164.65 224.1 164.73 223.6 165.34 223.1 165.25 222.6 165.3 222.1 165.48 221.6 165.38 221.1 164.63 220.6 164.62 220.1 165.65 219.6 165.01 219.1 165.72 218.6 164.71 218.1 165.18 217.6 165.99 217.1 165.72 216.6 165.76 216.1 164.97 215.6 164.79 215.1 165.79 214.6 164.91 214.1 165.11 213.6 164.94 213.1 165.16 212.6 165.2 212.1 165.95 211.6 165.94 211.1 165.95 210.6 165.72 210.1 165.3 209.6 165.76 209.1 165.1 208.6 166.11 208.1 165.4 207.6 165.51 207.1 165.05 206.6 166.08 206.1 165.52 205.6 165.16 205.1 165.17 204.6 165.44 204.1 166.13 203.6 166.18 203.1 165.39 202.6 166.09 202.1 166.3 201.6 166.32 201.1 165.18 200.6 165.35 200.1 165.55 199.6 165.31 199.1 165.19 198.6 166.28 198.1 166.59 197.6 166.5 197.1 166.66 196.6 165.37 196.1 166.45 195.6 165.53 195.1 165.58 194.6 166 194.1 166.11 193.6 165.92 193.1 166.39 192.6 166.22 192.1 165.79 191.6 166.47 191.1 166.05 190.6 166.96 190.1 166.97 189.6 167.03 189.1 166.32 188.6 166.03 188.1 167.3 187.6 166.98 187.1 166.35 186.6 166.95 186.1 166.73 185.6 167.13 185.1 166.33 184.6 166.59 184.1 166.39 183.6 167.37 183.1 166.84 182.6 167.48 182.1 166.92 181.6 167.49 181.1 167.14 180.6 166.6 180.1 166.83 179.6 167.79 179.1 166.87 178.6 167.82 178.1 167.2 177.6 167.07 177.1 167.9 176.6 166.94 176.1 167.48 175.6 167.75 175.1 168 174.6 167.81 174.1 167.59 173.6 167.43 173.1 167.96 172.6 168.2 172.1 167.95 171.6 167.73 171.1 167.81 170.6 167.38 170.1 167.47 169.6 167.9 169.1 167.54 168.6 168.5 168.1 168.14 167.6 167.71 167.1 168.44 166.6 168.2 166.1 167.95 165.6 168.64 165.1 167.78 164.6 168.75 164.1 168.36 163.6 169.11 163.1 168.13 162.6 168.56 162.1 168.48 161.6 169.21 161.1 168.51 160.6 169.44 160.1 169.2 159.6 168.84 159.1 168.92 158.6 168.61 158.1 168.86 157.6 168.87 157.1 169.95 156.6 168.88 156.1 169.7 155.6 169.24 155.1 169.13 154.6 169.27 154.1 169.6 153.6 169.69 153.1 169.4 152.6 169.75 152.1 170.33 151.6 170 151.1 169.9 150.6 170.43 150.1 169.43 149.6 169.78 149.1 169.74 148.6 169.68 148.1 170.75 147.6 170.12 147.1 170.26 146.6 170.36 146.1 171.08 145.6 170.11 145.1 170.54 144.6 171.21 144.1 170.07 143.6 171.25 143.1 170.73 142.6 170.15 142.1 170.75 141.6 170.74 141.1 170.4 140.6 170.95 140.1 170.74 139.6 171.12 139.1 170.54 138.6 171.69 138.1 171.76 137.6 171.23 137.1 171.59 136.6 170.63 136.1 171.78 135.6 170.83 135.1 171.93 134.6 171.59 134.1 170.8 133.6 171.33 133.1 172.1 132.6 172 132.1 172.06 131.6 171.31 131.1 171.24 130.6 171.09 130.1 171.06 129.6 172.33 129.1 171.1 128.6 172.38 128.1 171.63 127.6 171.71 127.1 171.63 126.6 171.86 126.1 171.61 125.6 172.34 125.1 172.32 124.6 172.16 124.1 171.66 123.6 172.3 123.1 172.19 122.6 172.08 122.1 171.67 121.6 172.74 121.1 172.45 120.6 172.41 120.1 172.06 119.6 172.97 119.1 172.43 118.6 172.84 118.1 172.42 117.6 173.14 117.1 172.07 116.6 172.18 116.1 172.71 115.6 172.87 115.1 172.61 114.6 173.42 114.1 172.94 113.6 172.56 113.1 173.12 112.6 172.71 112.1 173.38 111.6 172.76 111.1 173.1 110.6 172.63 110.1 172.95 109.6 173.56 109.1 173 108.6 173.06 108.1 172.93 107.6 173.09 107.1 173.15 106.6 173.3 106.1 173.78 105.6 173.53 105.1 174.24 104.6 174.42 104.1 174.26 103.6 174.28 103.1 174.56 102.6 173.89 102.1 174.33 101.6 173.68 101.1 174.07 100.6 174.55 100.1 174.2 99.6 173.97 99.1 174.46 98.6 174.67 98.1 175.24 97.6 174.4 97.1 175 96.6 174.73 96.1 174.38 95.6 175.67 95.1 174.84 94.6 175.19 94.1 175.15 93.6 175.52 93.1 175.69 92.6 175.75 92.1 175.06 91.6 175.33 91.1 175.13 90.6 175.3 90.1 175.53 89.6 176.13 89.1 176.65 88.6 176.26 88.1 176.65 87.6 176.45 87.1 176.41 86.6 176.37 86.1 176.26 85.6 176.38 85.1 176.6 84.6 176 84.1 177.08 83.6 176.82 83.1 176.22 82.6 177.28 82.1 176.98 81.6 177.11 81.1 177.17 80.6 176.77 80.1 177.89 79.6 177.08 79.1 177.77 78.6 177.23 78.1 177.07 77.6 178.05 77.1 177.27 76.6 177.52 76.1 177.89 75.6 177.89 75.1 178.32 74.6 177.6 74.1 177.53 73.6 178.79 73.1 177.71 72.6 178.06 72.1 178.12 71.6 178.54 71.1 178.5 70.6 179 70.1 178.96 69.6 178.18 69.1 179.42 68.6 178.7 68.1 178.89 67.6 178.48 67.1 178.62 66.6 179.18 66.1 178.83 65.6 179.76 65.1 179.65 64.6 179.04 64.1 179.43 63.6 179.97 63.1 179.68 62.6 179.57 62.1 179.87 61.6 179.87 61.1 180.81 60.6 180.08 60.1 180.78 59.6 180.07 59.1 180.66 58.6 181.21 58.1 180.93 57.6 180.96 57.1 180.88 56.6 180.91 56.1 181.88 55.6 181.5 55.1 182.01 54.6 182.08 54.1 181.77 53.6 181.28 53.1 182.1 52.6 181.82 52.1 182.31 51.6 182.16 51.1 182.09 50.6 182.41 50.1 182.15 49.6 182.2 49.1 182.41 48.6 183.21 48.1 182.9 47.6 183.09 47.1 182.86Z" fill="#00ff00"/>
<path d="M47.1 181.15 47.6 180.21 48.1 179.06 48.6 178.07 49.1 176.25 49.6 175.21 50.1 174.48 50.6 173.44 51.1 172.76 51.6 171.84 52.1 170.05 52.6 168.73 53.1 168.84 53.6 167.77 54.1 166 54.6 164.55 55.1 162.07 55.6 162.94 56.1 161.99 56.6 160.99 57.1 159.78 57.6 159.21 58.1 158.79 58.6 157.32 59.1 156.75 59.6 156.48 60.1 156.68 60.6 155.91 61.1 153.88 61.6 152.3 62.1 151.83 62.6 152.08 63.1 150.52 63.6 150.13 64.1 149.76 64.6 148.71 65.1 148.46 65.6 145.38 66.1 145.24 66.6 143.78 67.1 144.55 67.6 144.16 68.1 142.37 68.6 141.07 69.1 141.66 69.6 140.04 70.1 139.44 70.6 139.35 71.1 140.51 71.6 137.92 72.1 138.4 72.6 136.59 73.1 136.03 73.6 134.43 74.1 133.89 74.6 135.34 75.1 132.59 75.6 132.2 76.1 134.34 76.6 133.48 77.1 130.68 77.6 130.88 78.1 130.94 78.6 128.96 79.1 129.51 79.6 128.51 80.1 130.23 80.6 127.23 81.1 130.41 81.6 127.26 82.1 127.37 82.6 126.13 83.1 128.97 83.6 128.21 84.1 124.86 84.6 126.19 85.1 124.42 85.6 125.61 86.1 124.15 86.6 126.08 87.1 122.93 87.6 124.93 88.1 122.52 88.6 123.68 89.1 122.53 89.6 122.61 90.1 122.35 90.6 122.52 91.1 120.16 91.6 119.9 92.1 121.67 92.6 120.19 93.1 120.36 93.6 119.69 94.1 121.01 94.6 122.08 95.1 119.65 95.6 119.2 96.1 119.17 96.6 117.82 97.1 117.92 97.6 117.64 98.1 118.53 98.6 120.82 99.1 117.58 99.6 118.93 100.1 117.55 100.6 116.82 101.1 119.65 101.6 117.04 102.1 117.02 102.6 119.42 103.1 117.3 103.6 117.09 104.1 119.72 104.6 116.97 105.1 119.21 105.6 117.27 106.1 118.15 106.6 117.18 107.1 117.23 107.6 119.31 108.1 119.17 108.6 116.48 109.1 118.4 109.6 116.24 110.1 116.79 110.6 116 111.1 118.12 111.6 118.45 112.1 118.56 112.6 117.84 113.1 117.38 113.6 116.64 114.1 116.06 114.6 116.96 115.1 118.82 115.6 117.78 116.1 117.14 116.6 118.9 117.1 118.21 117.6 117.26 118.1 116.23 118.6 114.43 119.1 115.81 119.6 114.18 120.1 114.78 120.6 112.6 121.1 114.75 121.6 111.52 122.1 113.33 122.6 113.26 123.1 110.23 123.6 112.69 124.1 111.78 124.6 111.53 125.1 110.16 125.6 110.33 126.1 109.88 126.6 110.52 127.1 111.15 127.6 111.34 128.1 111.15 128.6 109.75 129.1 109.6 129.6 109.92 130.1 111.7 130.6 108.98 131.1 109.66 131.6 109.15 132.1 111.66 132.6 108.19 133.1 110.63 133.6 110.87 134.1 109.29 134.6 110.53 135.1 109.4 135.6 110.35 136.1 109.58 136.6 111.33 137.1 109.67 137.6 110.93 138.1 110.07 138.6 109.33 139.1 111.45 139.6 108.66 140.1 111.22 140.6 111.47 141.1 110.98 141.6 110.11 142.1 110.14 142.6 111.23 143.1 109.43 143.6 110.83 144.1 110.64 144.6 110.93 145.1 109.41 145.6 110.16 146.1 108.13 146.6 108.04 147.1 108.16 147.6 110.41 148.1 109.03 148.6 111.01 149.1 108.01 149.6 108.33 150.1 110.71 150.6 109.17 151.1 108.43 151.6 110.43 152.1 108.42 152.6 111.09 153.1 108.51 153.6 110.62 154.1 109.2 154.6 110.86 155.1 108.47 155.6 110.77 156.1 108.43 156.6 108.95 157.1 109.61 157.6 109.29 158.1 109.7 158.6 109.77 159.1 108.12 159.6 107.11 160.1 109.8 160.6 109.3 161.1 109.14 161.6 108.85 162.1 110.49 162.6 108.03 163.1 110.38 163.6 107.47 164.1 109.49 164.6 110.42 165.1 107.32 165.6 109.71 166.1 107.73 166.6 106.86 167.1 108.3 167.6 109.33 168.1 107.65 168.6 110.28 169.1 106.47 169.6 107.5 170.1 107.77 170.6 107.86 171.1 107.54 171.6 106.39 172.1 107.12 172.6 107.31 173.1 108.96 173.6 107.75 174.1 109.14 174.6 107.98 175.1 107.54 175.6 106.78 176.1 107.04 176.6 109.79 177.1 107.94 177.6 107.34 178.1 106.93 178.6 109.63 179.1 108.9 179.6 108.85 180.1 109.29 180.6 106.93 181.1 108.95 181.6 106.18 182.1 108.64 182.6 107.19 183.1 108.6 183.6 106.75 184.1 107.27 184.6 108.59 185.1 109.71 185.6 107.16 186.1 106.41 186.6 106.2 187.1 108.51 187.6 109.45 188.1 105.66 188.6 106.95 189.1 105.11 189.6 109.36 190.1 105.7 190.6 105.31 191.1 108.24 191.6 109.15 192.1 108.06 192.6 105.05 193.1 106.23 193.6 106.61 194.1 108.19 194.6 107.44 195.1 104.23 195.6 105.88 196.1 107.21 196.6 105.95 197.1 106.31 197.6 107.47 198.1 107.32 198.6 106.48 199.1 105.08 199.6 103.67 200.1 102.79 200.6 102.63 201.1 104.59 201.6 104.99 202.1 105.19 202.6 105.24 203.1 102.16 203.6 102.17 204.1 101.33 204.6 102.73 205.1 104.4 205.6 103.32 206.1 101.63 206.6 100.14 207.1 103.12 207.6 103.17 208.1 102.37 208.6 99.94 209.1 100.2 209.6 100.91 210.1 102.28 210.6 98.9 211.1 99.54 211.6 96.97 212.1 97.32 212.6 98.31 213.1 100.8 213.6 100.04 214.1 98.99 214.6 98.54 215.1 97.75 215.6 99.88 216.1 98.48 216.6 96.48 217.1 98.83 217.6 98.98 218.1 96.1 218.6 100.03 219.1 95.96 219.6 96.74 220.1 99.49 220.6 99.32 221.1 95.81 221.6 97.95 222.1 96.53 222.6 96.31 223.1 97.79 223.6 97.02 224.1 95.19 224.6 96.15 225.1 96.91 225.6 96.41 226.1 95.96 226.6 96.7 227.1 94.23 227.6 93.82 228.1 93.74 228.6 96.02 229.1 95.24 229.6 96.75 230.1 97.22 230.6 93.85 231.1 94.83 231.6 94.94 232.1 94.27 232.6 96.69 233.1 95.47 233.6 94.32 234.1 95.6 234.6 94.32 235.1 95.1 235.6 93.39 236.1 95.03 236.6 94.67 237.1 95.22 237.6 94.88 238.1 94.85 238.6 95.38 239.1 93.22 239.6 95.32 240.1 94.82 240.6 94.99 241.1 93.96 241.6 92.85 242.1 94.26 242.6 95.34 243.1 95.84 243.6 94.09 244.1 95.52 244.6 95.47 245.1 94.38 245.6 95.56 246.1 95.26 246.6 92.85 247.1 92.95 247.6 93.87 248.1 94.29 248.6 94.69 249.1 94.39 249.6 95.43 250.1 95.17 250.6 92.81 251.1 93.6 251.6 95.45 252.1 95 252.6 92.5 253.1 94.55 253.6 92.86 254.1 94.13 254.6 95.78 255.1 92.67 255.6 95.19 256.1 94.04 256.6 95.7 257.1 95.3 257.6 92.61 258.1 94.55 258.6 95.28 259.1 93.31 259.6 94.75 260.1 93.22 260.6 93.05 261.1 93.47 261.6 93.33 262.1 95.58 262.6 93.12 263.1 93.75 263.6 93.95 264.1 94.64 264.6 95.57 265.1 93.66 265.6 95.19 266.1 92.72 266.6 94.5 267.1 92.85 267.6 95.2 268.1 94.26 268.6 92.7 269.1 95.11 269.6 94 270.1 93.86 270.6 92.49 271.1 95.27 271.6 93.94 272.1 95.11 272.6 92.44 273.1 94.48 273.6 93.44 274.1 93.98 274.6 94.27 275.1 94.94 275.6 95.26 276.1 92.7 276.6 95.03 277.1 92.52 277.6 92.16 278.1 93.13 278.6 91.62 279.1 94.7 279.6 93.98 280.1 93.4 280.6 94.75 281.1 95.23 281.6 94.23 282.1 94.26 282.6 94.96 283.1 93.03 283.6 95.4 284.1 92.62 284.6 92.18 285.1 94.79 285.6 92.6 286.1 93.13 286.6 93.73 287.1 92.36 287.6 93.41 288.1 93.17 288.6 92.26 289.1 94 289.6 93.47 290.1 92.48 290.6 94.59 291.1 93.3 291.6 92 292.1 94.87 292.6 93.27 293.1 92.19 293.6 92.85 294.1 92.72 294.6 92 295.1 92 295.6 92.4 296.1 92.54 296.6 94.09 297.1 92.34 297.6 91.86 298.1 92.38 298.6 92.77 299.1 92.32 299.6 93.77 300.1 94.71 300.6 94.54 301.1 93.31 301.6 94.36 302.1 94.37 302.6 93.84 303.1 94.39 303.6 92.95 304.1 94.19 304.6 93.42 305.1 94.14 305.6 94.13 306.1 91.85 306.6 94.43 307.1 91.73 307.6 93.04 308.1 93.58 308.6 94.35 309.1 91.76 309.6 93.82 310.1 91.59 310.6 91.67 311.1 91.91 311.6 93.68 312.1 90.61 312.6 94.36 313.1 91.63 313.6 91.07 314.1 92.58 314.6 91.67 315.1 94.57 315.6 94.7 316.1 94.48 316.6 92.09 317.1 94.22 317.6 92.54 318.1 92.36 318.6 93.7 319.1 91.65 319.6 91.37 320.1 94.49 320.6 92.53 321.1 94.01 321.6 92.75 322.1 91.62 322.6 92.9 323.1 91.86 323.6 91.55 324.1 91.33 324.6 92.61 325.1 92.12 325.6 92.37 326.1 94.47 326.6 94.02 327.1 93.59 327.6 92.02 328.1 93.72 328.6 93.53 329.1 92.95 329.6 91.96 330.1 91.85 330.6 92.55 331.1 92.06 331.6 94.1 332.1 92.68 332.6 93.39 333.1 94.12 333.6 93.17 334.1 91.61 L334.1 100.64 333.6 101.59 333.1 99.63 332.6 98.88 332.1 100.83 331.6 100.64 331.1 101.5 330.6 99.3 330.1 99.56 329.6 98.74 329.1 101.1 328.6 99.23 328.1 101.64 327.6 99.49 327.1 100.48 326.6 98.74 326.1 99.68 325.6 101.74 325.1 101.28 324.6 99.91 324.1 101.75 323.6 100.58 323.1 99.77 322.6 100.26 322.1 99.52 321.6 101.44 321.1 99.51 320.6 102.01 320.1 100.01 319.6 98.98 319.1 100.68 318.6 101.98 318.1 99.52 317.6 100.7 317.1 101.03 316.6 100.91 316.1 99 315.6 102.23 315.1 102.04 314.6 102.02 314.1 99.51 313.6 100.35 313.1 101.89 312.6 101.08 312.1 100.3 311.6 99.11 311.1 99.4 310.6 99.04 310.1 99.57 309.6 99.35 309.1 101.29 308.6 102.22 308.1 101.36 307.6 100.85 307.1 102.17 306.6 101.94 306.1 102.23 305.6 100.62 305.1 99.65 304.6 102.08 304.1 100.77 303.6 101.66 303.1 99.31 302.6 101.28 302.1 103.58 301.6 102.7 301.1 99.76 300.6 102.2 300.1 99.86 299.6 102.05 299.1 99.69 298.6 99.47 298.1 101.91 297.6 101.63 297.1 101.75 296.6 102.56 296.1 101.58 295.6 102.62 295.1 102.24 294.6 100.34 294.1 102.24 293.6 101.06 293.1 102.35 292.6 102.09 292.1 100.15 291.6 100.96 291.1 100.78 290.6 100.95 290.1 101.02 289.6 102.25 289.1 102.7 288.6 102.77 288.1 99.72 287.6 102.06 287.1 100.68 286.6 101.15 286.1 101.75 285.6 101.19 285.1 102.24 284.6 101.43 284.1 101.79 283.6 102.43 283.1 101.19 282.6 102.17 282.1 101.09 281.6 99.59 281.1 100.93 280.6 100.81 280.1 102.01 279.6 102.83 279.1 102.47 278.6 101.13 278.1 101.82 277.6 102.99 277.1 101.43 276.6 101.99 276.1 103 275.6 101.51 275.1 100.93 274.6 101.88 274.1 100.17 273.6 101.18 273.1 102.98 272.6 100.35 272.1 99.89 271.6 100.14 271.1 102.24 270.6 100.09 270.1 99.78 269.6 102.07 269.1 102.91 268.6 101.21 268.1 101.14 267.6 101.2 267.1 99.85 266.6 102.2 266.1 99.83 265.6 102.89 265.1 100.65 264.6 102.97 264.1 102.9 263.6 100.79 263.1 100.2 262.6 101.23 262.1 101.46 261.6 101.12 261.1 102.91 260.6 101.66 260.1 100.72 259.6 100.7 259.1 102.76 258.6 100.26 258.1 102.37 257.6 99.92 257.1 101.09 256.6 101.8 256.1 101.6 255.6 101.17 255.1 101.17 254.6 102.69 254.1 100.97 253.6 101.29 253.1 100.75 252.6 100.78 252.1 103.01 251.6 102.47 251.1 102.14 250.6 101.23 250.1 100.66 249.6 102.06 249.1 101.52 248.6 103.33 248.1 100.33 247.6 100.99 247.1 100.64 246.6 101.99 246.1 100.02 245.6 102.12 245.1 102.55 244.6 100.39 244.1 100.56 243.6 102.21 243.1 103.11 242.6 101.13 242.1 100.34 241.6 100.59 241.1 100.54 240.6 103.54 240.1 103.26 239.6 103.14 239.1 101.25 238.6 103.63 238.1 101.42 237.6 101.99 237.1 102.78 236.6 100.97 236.1 104.02 235.6 102.6 235.1 103.48 234.6 102.16 234.1 102.35 233.6 104.23 233.1 104.07 232.6 103.02 232.1 103.74 231.6 104.02 231.1 103.45 230.6 102.86 230.1 102.52 229.6 103.75 229.1 103.34 228.6 103.14 228.1 106.21 227.6 103.12 227.1 103.87 226.6 105.35 226.1 104.74 225.6 104.09 225.1 104.96 224.6 104.46 224.1 106.66 223.6 104.21 223.1 106.28 222.6 108.12 222.1 105.49 221.6 107.49 221.1 105.85 220.6 107.83 220.1 105.48 219.6 105.75 219.1 106.45 218.6 105.92 218.1 106.31 217.6 109.25 217.1 110.24 216.6 108.55 216.1 107.05 215.6 107.76 215.1 107.9 214.6 109.77 214.1 110.67 213.6 108.28 213.1 111.15 212.6 110.99 212.1 110.57 211.6 110.55 211.1 111.89 210.6 112.71 210.1 109.3 209.6 108.84 209.1 109.69 208.6 111.19 208.1 112.01 207.6 112.46 207.1 113.05 206.6 111.47 206.1 110.06 205.6 110.81 205.1 110.38 204.6 111.45 204.1 111.14 203.6 111.12 203.1 112.63 202.6 112.75 202.1 111.59 201.6 111.97 201.1 115.93 200.6 114.97 200.1 112.79 199.6 112.78 199.1 116.3 198.6 115.7 198.1 116.24 197.6 113.5 197.1 115.53 196.6 115.01 196.1 116.89 195.6 117.7 195.1 117.82 194.6 116.6 194.1 118.07 193.6 116.69 193.1 117.68 192.6 116.44 192.1 116.96 191.6 117.34 191.1 116.19 190.6 117.16 190.1 114.81 189.6 118.08 189.1 115.09 188.6 115.88 188.1 116.45 187.6 116.46 187.1 116.37 186.6 117.26 186.1 116.03 185.6 118.65 185.1 119.12 184.6 119.13 184.1 117.66 183.6 115.81 183.1 119.1 182.6 115.93 182.1 117.15 181.6 119.23 181.1 116.46 180.6 118.8 180.1 116.87 179.6 115.31 179.1 117.97 178.6 115.46 178.1 117.96 177.6 115.24 177.1 117.9 176.6 115.9 176.1 119.17 175.6 118.48 175.1 116.84 174.6 118.48 174.1 118.92 173.6 115.44 173.1 119.26 172.6 115.84 172.1 118.81 171.6 118.97 171.1 118.71 170.6 118.78 170.1 118.47 169.6 116.99 169.1 116.41 168.6 117.56 168.1 117.43 167.6 116.74 167.1 118.13 166.6 116.13 166.1 117.8 165.6 118.51 165.1 115.79 164.6 118.06 164.1 116.63 163.6 117.18 163.1 116.01 162.6 118.38 162.1 116.75 161.6 115.81 161.1 116.07 160.6 115.93 160.1 118.35 159.6 119.1 159.1 118.57 158.6 116.09 158.1 118.94 157.6 117.65 157.1 117.93 156.6 116.11 156.1 116.35 155.6 116.77 155.1 118.75 154.6 117.02 154.1 118.21 153.6 117.35 153.1 119.09 152.6 119.28 152.1 116.89 151.6 115.91 151.1 118.68 150.6 116.04 150.1 118.87 149.6 119.13 149.1 116.21 148.6 116.28 148.1 117.6 147.6 116.64 147.1 117.33 146.6 115.82 146.1 118.21 145.6 118.57 145.1 118.74 144.6 117.73 144.1 116.1 143.6 118.07 143.1 117.19 142.6 116.39 142.1 116.76 141.6 118.87 141.1 117.88 140.6 116.7 140.1 117.4 139.6 116.45 139.1 119.95 138.6 118.06 138.1 116.23 137.6 118.1 137.1 119.52 136.6 117.03 136.1 116.07 135.6 117.54 135.1 118.03 134.6 116.32 134.1 118.04 133.6 116.93 133.1 117.32 132.6 116.98 132.1 117.73 131.6 118.24 131.1 117.1 130.6 119.85 130.1 119.66 129.6 119.26 129.1 119.04 128.6 118.39 128.1 118.39 127.6 118.22 127.1 117.9 126.6 117.84 126.1 118.23 125.6 118.83 125.1 117.27 124.6 120.14 124.1 118.79 123.6 120.6 123.1 119.51 122.6 121.05 122.1 118.97 121.6 122.51 121.1 122.81 120.6 121.12 120.1 121.81 119.6 121 119.1 121.12 118.6 121.85 118.1 125.1 117.6 125.93 117.1 125.99 116.6 125.42 116.1 127.5 115.6 125.99 115.1 125.37 114.6 127.13 114.1 127.23 113.6 126.7 113.1 125.81 112.6 126.19 112.1 127.34 111.6 126.25 111.1 127.3 110.6 124.23 110.1 125.15 109.6 125.33 109.1 127.05 108.6 127.17 108.1 124.79 107.6 125.26 107.1 125.23 106.6 127.2 106.1 126.84 105.6 126.95 105.1 126.71 104.6 126.55 104.1 127.29 103.6 127.8 103.1 126.85 102.6 127.94 102.1 126.31 101.6 127.32 101.1 127.78 100.6 125.72 100.1 126.14 99.6 126.49 99.1 125.84 98.6 126.36 98.1 126.62 97.6 128.2 97.1 129.06 96.6 126.88 96.1 129.01 95.6 129.98 95.1 128.2 94.6 127.06 94.1 128.29 93.6 130 93.1 129.49 92.6 128.01 92.1 131.71 91.6 131.28 91.1 129.29 90.6 129.08 90.1 131.33 89.6 132.17 89.1 130.68 88.6 131.95 88.1 133.27 87.6 131.18 87.1 130.99 86.6 134.44 86.1 132.01 85.6 134.2 85.1 135.69 84.6 135.45 84.1 134.9 83.6 136.43 83.1 136.59 82.6 136.71 82.1 135.5 81.6 138.08 81.1 137.47 80.6 137.9 80.1 139.18 79.6 136.12 79.1 138.67 78.6 139.54 78.1 140.75 77.6 142.27 77.1 139.54 76.6 138.95 76.1 139.35 75.6 142.46 75.1 142.32 74.6 143.67 74.1 142.91 73.6 145.06 73.1 143.08 72.6 145.66 72.1 144.46 71.6 148.74 71.1 144.91 70.6 146.34 70.1 146.14 69.6 147.68 69.1 150.26 68.6 150.79 68.1 150.72 67.6 149.65 67.1 150.5 66.6 152.43 66.1 154.23 65.6 152.87 65.1 155.12 64.6 155.93 64.1 154.56 63.6 155.27 63.1 158.43 62.6 157.97 62.1 159.43 61.6 159.21 61.1 160.56 60.6 159.53 60.1 160.25 59.6 160.95 59.1 162.44 58.6 164.53 58.1 164.91 57.6 164.08 57.1 167.09 56.6 165.74 56.1 167.68 55.6 167.6 55.1 171.45 54.6 168.99 54.1 170.06 53.6 172.16 53.1 171.65 52.6 173.47 52.1 173.33 51.6 174.68 51.1 176.71 50.6 176.85 50.1 177.77 49.6 178.71 49.1 179.35 48.6 180.78 48.1 180.62 47.6 182.46 47.1 182.84Z" fill="#0000ff"/>
<path d="M47.1 180.59 47.6 178.69 48.1 177.59 48.6 175.55 49.1 173.37 49.6 172.12 50.1 169.21 50.6 167.49 51.1 167.67 51.6 166.01 52.1 162.65 52.6 163.25 53.1 160.88 53.6 160.02 54.1 159.25 54.6 157.79 55.1 155.75 55.6 153.51 56.1 151.91 56.6 150.73 57.1 149.78 57.6 148.3 58.1 146.6 58.6 145.34 59.1 143.48 59.6 142.37 60.1 141.12 60.6 140.2 61.1 139.27 61.6 138.74 62.1 135.87 62.6 135.83 63.1 133.59 63.6 132.95 64.1 133.91 64.6 132.08 65.1 131.79 65.6 130.34 66.1 130.36 66.6 128.61 67.1 129.21 67.6 129.38 68.1 128.06 68.6 127.3 69.1 126.34 69.6 125.1 70.1 125.4 70.6 123.92 71.1 123.26 71.6 123.19 72.1 123.6 72.6 122.52 73.1 121.84 73.6 120.06 74.1 121.05 74.6 119.64 75.1 119.55 75.6 118.86 76.1 118.08 76.6 116.8 77.1 116.55 77.6 116.56 78.1 115.98 78.6 116.65 79.1 114.98 79.6 114.52 80.1 115.1 80.6 113.65 81.1 114.89 81.6 113.44 82.1 113.02 82.6 113.49 83.1 114.16 83.6 112.41 84.1 112.1 84.6 112.23 85.1 112.97 85.6 112.28 86.1 111.18 86.6 110.72 87.1 111.15 87.6 111 88.1 111.77 88.6 111.43 89.1 111.39 89.6 110.41 90.1 110.31 90.6 111.36 91.1 109.19 91.6 108.99 92.1 108.84 92.6 110.6 93.1 109.77 93.6 110.07 94.1 109.85 94.6 110.12 95.1 109.3 95.6 108.67 96.1 108 96.6 108.62 97.1 107.94 97.6 109.71 98.1 109.16 98.6 107.78 99.1 108.26 99.6 108.02 100.1 108.25 100.6 108.98 101.1 107 101.6 107.72 102.1 107.24 102.6 108.25 103.1 106.13 103.6 107.07 104.1 105.44 104.6 106.43 105.1 107.32 105.6 106.52 106.1 104.58 106.6 106.82 107.1 105.51 107.6 105.42 108.1 106.15 108.6 104.24 109.1 103.96 109.6 104.22 110.1 104.76 110.6 103.63 111.1 102.81 111.6 103.11 112.1 102.14 112.6 101.15 113.1 101.68 113.6 102.39 114.1 101.67 114.6 99.78 115.1 102.2 115.6 101.63 116.1 101.85 116.6 99.91 117.1 100.73 117.6 99.53 118.1 99.79 118.6 99.36 119.1 99.38 119.6 99.04 120.1 99.58 120.6 98.54 121.1 97.55 121.6 98.33 122.1 96.45 122.6 97.66 123.1 96.95 123.6 96.01 124.1 97.08 124.6 95.35 125.1 95 125.6 95.43 126.1 95.86 126.6 96.02 127.1 95.08 127.6 95.58 128.1 96.43 128.6 96.32 129.1 95.48 129.6 94.29 130.1 94.69 130.6 95.51 131.1 95.71 131.6 95.87 132.1 94.47 132.6 93.6 133.1 94.34 133.6 95.46 134.1 95.88 134.6 94.91 135.1 94.61 135.6 95.16 136.1 94.56 136.6 94.92 137.1 93.98 137.6 93.76 138.1 94.52 138.6 94.18 139.1 93.89 139.6 95.9 140.1 95.24 140.6 94.47 141.1 95.97 141.6 93.78 142.1 94.38 142.6 95.7 143.1 95.91 143.6 95.47 144.1 93.97 144.6 94.91 145.1 93.69 145.6 92.78 146.1 95.65 146.6 93.52 147.1 93.75 147.6 93.77 148.1 95.27 148.6 95.07 149.1 94.05 149.6 94.53 150.1 95.87 150.6 94.03 151.1 93.68 151.6 95.11 152.1 93.78 152.6 94.89 153.1 94.14 153.6 93.59 154.1 95.14 154.6 94.43 155.1 94.28 155.6 93.87 156.1 95.87 156.6 94.03 157.1 94.01 157.6 94.28 158.1 92.45 158.6 93.93 159.1 95.58 159.6 93.47 160.1 95.31 160.6 94.54 161.1 93.27 161.6 93.53 162.1 94.76 162.6 94.49 163.1 93.68 163.6 93.77 164.1 95.32 164.6 94.82 165.1 93.82 165.6 95.23 166.1 93.49 166.6 93.71 167.1 94.94 167.6 93.93 168.1 92.74 168.6 94.79 169.1 95.23 169.6 94.93 170.1 94.58 170.6 93.55 171.1 93.97 171.6 92.55 172.1 91.6 172.6 92.05 173.1 93 173.6 93.44 174.1 92.74 174.6 91.3 175.1 92.05 175.6 91.06 176.1 92 176.6 90.9 177.1 90.04 177.6 88.59 178.1 89.09 178.6 89.53 179.1 89.2 179.6 89.24 180.1 89.49 180.6 89.93 181.1 89.38 181.6 88.49 182.1 87.67 182.6 86.9 183.1 87.74 183.6 86.08 184.1 85.78 184.6 87.09 185.1 85.59 185.6 86.56 186.1 86.92 186.6 86.51 187.1 87.61 187.6 85.42 188.1 85.88 188.6 86.4 189.1 87.62 189.6 85.21 190.1 86.61 190.6 87.45 191.1 85.34 191.6 86.83 192.1 86.78 192.6 85.4 193.1 86.33 193.6 87.39 194.1 86.11 194.6 86.06 195.1 86.34 195.6 84.88 196.1 86.97 196.6 84.9 197.1 87.39 197.6 87.35 198.1 86.92 198.6 87.11 199.1 86.34 199.6 85.49 200.1 86.28 200.6 86.46 201.1 85 201.6 86.69 202.1 85.4 202.6 85.95 203.1 85.27 203.6 85.29 204.1 86.88 204.6 86.58 205.1 84.65 205.6 86.55 206.1 86.94 206.6 86.33 207.1 85.28 207.6 85.11 208.1 86.27 208.6 84.58 209.1 86.84 209.6 86.23 210.1 85.18 210.6 86.68 211.1 85.64 211.6 84.81 212.1 84.83 212.6 84.27 213.1 86.29 213.6 84.43 214.1 84.92 214.6 86.15 215.1 84.97 215.6 84.9 216.1 84.29 216.6 84.23 217.1 85.62 217.6 84.44 218.1 86.65 218.6 84.1 219.1 84.87 219.6 84.49 220.1 86.41 220.6 85.99 221.1 84.25 221.6 84.08 222.1 84.14 222.6 85.89 223.1 85.14 223.6 85.57 224.1 85.17 224.6 85.08 225.1 85.42 225.6 84.09 226.1 85.93 226.6 85.86 227.1 85.13 227.6 84.37 228.1 84.29 228.6 86.34 229.1 86.24 229.6 85.68 230.1 85.77 230.6 83.66 231.1 86 231.6 85.49 232.1 84.8 232.6 85.45 233.1 83.82 233.6 84.66 234.1 85.87 234.6 84.88 235.1 85.08 235.6 85.08 236.1 86.11 236.6 84.1 237.1 85.39 237.6 84.75 238.1 84.17 238.6 83.66 239.1 85.17 239.6 84.01 240.1 85.08 240.6 84.66 241.1 84.59 241.6 85.88 242.1 83.72 242.6 84.98 243.1 84.58 243.6 83.86 244.1 84.51 244.6 85.78 245.1 83.97 245.6 85.26 246.1 84.14 246.6 84.81 247.1 84.89 247.6 83.59 248.1 85.57 248.6 84.4 249.1 83.94 249.6 83.93 250.1 86.02 250.6 85.9 251.1 84.61 251.6 84.07 252.1 85.24 252.6 83.47 253.1 85.64 253.6 82.3 254.1 83.44 254.6 84.2 255.1 84.52 255.6 83.3 256.1 84.05 256.6 85.92 257.1 85.35 257.6 83.41 258.1 85.61 258.6 84.5 259.1 85.9 259.6 82.97 260.1 84.05 260.6 85.04 261.1 84.52 261.6 83.94 262.1 84.61 262.6 84.9 263.1 84.02 263.6 85.39 264.1 85.18 264.6 85.19 265.1 84.93 265.6 83.76 266.1 85.04 266.6 83.6 267.1 82.45 267.6 84.47 268.1 83.57 268.6 82.59 269.1 84.69 269.6 85.71 270.1 83.22 270.6 84.27 271.1 83.3 271.6 84.51 272.1 84.6 272.6 84.36 273.1 83.14 273.6 84.92 274.1 84.39 274.6 84.56 275.1 84.81 275.6 85.44 276.1 84.16 276.6 85.45 277.1 83.45 277.6 84.19 278.1 83.44 278.6 83.96 279.1 85.38 279.6 85.57 280.1 84.21 280.6 83.67 281.1 83.79 281.6 85.34 282.1 84.09 282.6 82.5 283.1 85.14 283.6 84.26 284.1 84.03 284.6 85.3 285.1 84.87 285.6 82.89 286.1 85.45 286.6 84.06 287.1 83.32 287.6 85.28 288.1 83.95 288.6 84.66 289.1 84.83 289.6 83.32 290.1 85.44 290.6 84.3 291.1 82.93 291.6 84.21 292.1 82.81 292.6 85.39 293.1 84.54 293.6 83.76 294.1 84.89 294.6 83.92 295.1 84.61 295.6 83.34 296.1 82.95 296.6 85 297.1 85.08 297.6 83.61 298.1 83.72 298.6 83.75 299.1 83.4 299.6 85.18 300.1 84.08 300.6 84.55 301.1 84.26 301.6 82.86 302.1 82.81 302.6 83.01 303.1 83.94 303.6 84.29 304.1 85.27 304.6 85.01 305.1 84.57 305.6 83.6 306.1 83.49 306.6 84.43 307.1 83.48 307.6 83.19 308.1 84.49 308.6 82.84 309.1 84.68 309.6 82.76 310.1 83.36 310.6 85.12 311.1 84.24 311.6 84.79 312.1 84.97 312.6 83.18 313.1 84.6 313.6 82.64 314.1 82.62 314.6 82.72 315.1 82.77 315.6 84.12 316.1 84.15 316.6 84.08 317.1 83.2 317.6 84.45 318.1 83.1 318.6 83.22 319.1 84.14 319.6 83.42 320.1 85.05 320.6 83.2 321.1 82.98 321.6 84.17 322.1 84.68 322.6 82.76 323.1 83.22 323.6 83.68 324.1 82.48 324.6 83.29 325.1 83.56 325.6 84.35 326.1 82.67 326.6 83.08 327.1 82.98 327.6 84.1 328.1 82.6 328.6 84.9 329.1 82.54 329.6 83.65 330.1 84.11 330.6 84.76 331.1 83.86 331.6 84.5 332.1 83.62 332.6 82.77 333.1 83.31 333.6 83.8 334.1 83.59 L334.1 89.15 333.6 89.12 333.1 88.86 332.6 88.97 332.1 89.47 331.6 90.39 331.1 88.53 330.6 90.77 330.1 89.05 329.6 90.05 329.1 88.61 328.6 88.45 328.1 89.2 327.6 90.21 327.1 90.2 326.6 90.4 326.1 88.62 325.6 90.87 325.1 89.92 324.6 90.21 324.1 90.98 323.6 90.64 323.1 90.18 322.6 88.6 322.1 90.33 321.6 89.9 321.1 90.8 320.6 89.57 320.1 88.88 319.6 88.82 319.1 88.83 318.6 88.45 318.1 89.31 317.6 90.08 317.1 88.78 316.6 88.83 316.1 89.46 315.6 89.48 315.1 90.74 314.6 90.14 314.1 90.75 313.6 88.57 313.1 90.88 312.6 88.99 312.1 91.05 311.6 88.49 311.1 92.03 310.6 90.12 310.1 90.94 309.6 89.68 309.1 89.69 308.6 89.5 308.1 90.83 307.6 89.44 307.1 90.3 306.6 89.57 306.1 89.47 305.6 89.77 305.1 89.41 304.6 88.6 304.1 89.53 303.6 90.02 303.1 90.46 302.6 89.69 302.1 90.13 301.6 88.67 301.1 90.95 300.6 90.56 300.1 90.24 299.6 91.08 299.1 89.57 298.6 89.4 298.1 88.77 297.6 92.13 297.1 89.62 296.6 90.48 296.1 90.64 295.6 88.92 295.1 91.35 294.6 89.21 294.1 90.09 293.6 89.86 293.1 91.59 292.6 89.69 292.1 90.25 291.6 90.06 291.1 90.11 290.6 90.67 290.1 90.74 289.6 89.92 289.1 91.42 288.6 91.14 288.1 89.28 287.6 89.34 287.1 89.95 286.6 90.28 286.1 91.25 285.6 89.42 285.1 90.92 284.6 90.65 284.1 91.34 283.6 89.24 283.1 91.52 282.6 89.08 282.1 90.41 281.6 89.84 281.1 89.78 280.6 91.09 280.1 90.11 279.6 91.15 279.1 89.21 278.6 89.71 278.1 90.87 277.6 89.43 277.1 89.64 276.6 89.23 276.1 90.56 275.6 89.51 275.1 89.84 274.6 89.83 274.1 89.8 273.6 90.17 273.1 90.27 272.6 89.95 272.1 89.8 271.6 90.39 271.1 89.94 270.6 90.81 270.1 91.32 269.6 91.53 269.1 91.08 268.6 91.1 268.1 90.75 267.6 91.33 267.1 89.86 266.6 91.6 266.1 90.03 265.6 90.43 265.1 91.78 264.6 90.37 264.1 91.18 263.6 90.01 263.1 91.25 262.6 92.22 262.1 90.86 261.6 90.83 261.1 90.59 260.6 90.96 260.1 89.59 259.6 89.87 259.1 91.88 258.6 91.89 258.1 89.8 257.6 91.07 257.1 90.72 256.6 89.44 256.1 91.74 255.6 89.38 255.1 90.07 254.6 89.6 254.1 91.55 253.6 90.67 253.1 91.44 252.6 90.45 252.1 90.01 251.6 90.02 251.1 90.5 250.6 90.27 250.1 91.49 249.6 91.12 249.1 91.83 248.6 89.88 248.1 91.12 247.6 90.11 247.1 90.26 246.6 91.56 246.1 89.69 245.6 90.81 245.1 91.09 244.6 91.04 244.1 89.88 243.6 90.36 243.1 90.49 242.6 91.64 242.1 89.97 241.6 91.68 241.1 91.71 240.6 89.98 240.1 91.8 239.6 92.11 239.1 89.77 238.6 90.12 238.1 91.42 237.6 91.13 237.1 91.18 236.6 89.8 236.1 91.35 235.6 90.93 235.1 92 234.6 92.16 234.1 89.65 233.6 90.23 233.1 91.96 232.6 91.49 232.1 91.42 231.6 91.04 231.1 91.53 230.6 90.13 230.1 91.91 229.6 90.66 229.1 90.66 228.6 91.98 228.1 91.87 227.6 91.85 227.1 91.78 226.6 90.79 226.1 90.96 225.6 90.51 225.1 90.65 224.6 91.09 224.1 91.74 223.6 90.97 223.1 91.14 222.6 92.08 222.1 91.53 221.6 92.12 221.1 92 220.6 92.43 220.1 92.3 219.6 90.12 219.1 91.96 218.6 90.83 218.1 90.07 217.6 91.99 217.1 92.47 216.6 90.94 216.1 92.8 215.6 91.4 215.1 91.42 214.6 92.73 214.1 92.12 213.6 90.75 213.1 92 212.6 90.24 212.1 91.12 211.6 90.54 211.1 90.36 210.6 92.62 210.1 90.7 209.6 92.17 209.1 90.45 208.6 93.01 208.1 92.88 207.6 91.88 207.1 90.59 206.6 91.69 206.1 90.77 205.6 91.03 205.1 90.69 204.6 92.61 204.1 92.89 203.6 92.79 203.1 92.54 202.6 92.57 202.1 93.15 201.6 92.77 201.1 91.5 200.6 92.85 200.1 93.2 199.6 91.16 199.1 93.06 198.6 93.01 198.1 93.22 197.6 92.59 197.1 92.03 196.6 91.78 196.1 93.38 195.6 91.91 195.1 92.23 194.6 92.27 194.1 92.89 193.6 90.93 193.1 91.19 192.6 91.25 192.1 91.67 191.6 93.18 191.1 91.28 190.6 91.92 190.1 92.02 189.6 91.06 189.1 92.29 188.6 92 188.1 94.09 187.6 93.47 187.1 93.5 186.6 92.38 186.1 93.76 185.6 92.85 185.1 92.29 184.6 91.87 184.1 92.16 183.6 94.42 183.1 92.19 182.6 94.79 182.1 92.93 181.6 94.32 181.1 93.51 180.6 93.29 180.1 95.61 179.6 95.24 179.1 95.24 178.6 95.27 178.1 96.52 177.6 96.93 177.1 97.3 176.6 95.67 176.1 95.52 175.6 96.01 175.1 96.41 174.6 98.08 174.1 98.74 173.6 97.35 173.1 98.02 172.6 97.27 172.1 99.5 171.6 98.38 171.1 98.98 170.6 99.82 170.1 98.25 169.6 100.42 169.1 99.65 168.6 100.71 168.1 99.46 167.6 100.38 167.1 99.53 166.6 98.55 166.1 99.38 165.6 100.21 165.1 99.65 164.6 98.95 164.1 100.91 163.6 100.38 163.1 101.55 162.6 99.02 162.1 100.08 161.6 99.43 161.1 100.28 160.6 101.11 160.1 99.02 159.6 99.7 159.1 98.97 158.6 98.86 158.1 99.74 157.6 100 157.1 101.06 156.6 100.92 156.1 99.28 155.6 100.28 155.1 100.89 154.6 100.01 154.1 99.24 153.6 99.86 153.1 99.71 152.6 100.06 152.1 99.09 151.6 100.95 151.1 99.24 150.6 101.39 150.1 99.21 149.6 99.05 149.1 99.99 148.6 101.01 148.1 99.78 147.6 100.51 147.1 101.35 146.6 100.28 146.1 99.42 145.6 100.4 145.1 100.81 144.6 99.11 144.1 99.79 143.6 100.39 143.1 101.23 142.6 100.59 142.1 100.87 141.6 100.73 141.1 100.62 140.6 99.73 140.1 99.68 139.6 99.04 139.1 99.99 138.6 99.96 138.1 99.96 137.6 99.66 137.1 100.11 136.6 99.12 136.1 100.94 135.6 101.14 135.1 99.22 134.6 101.39 134.1 100.98 133.6 99.1 133.1 101.23 132.6 99.48 132.1 99.91 131.6 100.98 131.1 100.01 130.6 101.04 130.1 101.42 129.6 99.75 129.1 99.62 128.6 99.82 128.1 101.26 127.6 100.09 127.1 101.06 126.6 100.29 126.1 101.86 125.6 102.15 125.1 100.45 124.6 101.6 124.1 101.75 123.6 102 123.1 102.33 122.6 103.16 122.1 101.82 121.6 103.98 121.1 103.21 120.6 103.37 120.1 104.32 119.6 105.45 119.1 104.05 118.6 105.79 118.1 104.26 117.6 105.03 117.1 105.88 116.6 105.11 116.1 105.86 115.6 106.83 115.1 105.96 114.6 108.81 114.1 106.89 113.6 108.48 113.1 108.21 112.6 107.89 112.1 108.79 111.6 107.85 111.1 109.23 110.6 108.85 110.1 110.14 109.6 111.97 109.1 111.34 108.6 111.22 108.1 111.57 107.6 111.23 107.1 111.25 106.6 110.42 106.1 111.25 105.6 111.34 105.1 112.18 104.6 110.87 104.1 112.53 103.6 112.71 103.1 111.93 102.6 114.12 102.1 113.38 101.6 114.33 101.1 113.01 100.6 113.13 100.1 114.26 99.6 114.31 99.1 114.37 98.6 115.53 98.1 113.1 97.6 115.21 97.1 115.16 96.6 115.41 96.1 115.84 95.6 115.17 95.1 115.2 94.6 113.7 94.1 114.75 93.6 115.48 93.1 115.07 92.6 115.59 92.1 116.15 91.6 115.29 91.1 114.85 90.6 114.64 90.1 114.43 89.6 115.27 89.1 115.31 88.6 115.57 88.1 116.43 87.6 116.61 87.1 116.78 86.6 116.55 86.1 117.01 85.6 117.69 85.1 117.43 84.6 118.54 84.1 117.8 83.6 117.39 83.1 117.69 82.6 117.94 82.1 119.4 81.6 118.42 81.1 119.6 80.6 118.8 80.1 120.65 79.6 120.14 79.1 120.07 78.6 121.35 78.1 122.65 77.6 122.69 77.1 123.53 76.6 123.04 76.1 122.39 75.6 124.04 75.1 123.45 74.6 125.16 74.1 124.85 73.6 125.71 73.1 125.95 72.6 126.19 72.1 127.9 71.6 127.23 71.1 128.02 70.6 130.2 70.1 129.13 69.6 130.39 69.1 130.92 68.6 130.94 68.1 132.01 67.6 134.95 67.1 133.48 66.6 134.49 66.1 135.88 65.6 136.09 65.1 137.05 64.6 136.51 64.1 136.87 63.6 138.56 63.1 139.57 62.6 140.28 62.1 141.33 61.6 142.08 61.1 143.82 60.6 145.26 60.1 144.8 59.6 147.23 59.1 148.87 58.6 149.42 58.1 151.78 57.6 151.72 57.1 155.46 56.6 156.18 56.1 158.3 55.6 158.87 55.1 161.68 54.6 163.69 54.1 164.62 53.6 164.64 53.1 166.14 52.6 167.65 52.1 169.85 51.6 169.94 51.1 171.71 50.6 172.67 50.1 173.44 49.6 174.42 49.1 176.82 48.6 178.37 48.1 179.76 47.6 181.49 47.1 183.25Z" fill="#808080"/>
<path d="M47.1 181.11 47.6 179.02 48.1 177.74 48.6 175.1 49.1 172.34 49.6 171.97 50.1 170.18 50.6 166.84 51.1 166.39 51.6 163.32 52.1 162.26 52.6 160.23 53.1 159.17 53.6 156.09 54.1 152.97 54.6 151.93 55.1 150.46 55.6 148.75 56.1 147 56.6 145.11 57.1 142.48 57.6 140.44 58.1 140.5 58.6 137.74 59.1 135.37 59.6 135.89 60.1 132.71 60.6 131.97 61.1 131.73 61.6 131.51 62.1 127.88 62.6 129.07 63.1 126.4 63.6 127.31 64.1 126.57 64.6 125.62 65.1 124.65 65.6 124.41 66.1 125.29 66.6 122.58 67.1 122.43 67.6 120.79 68.1 121.04 68.6 119.41 69.1 121.61 69.6 119.39 70.1 120.81 70.6 117.83 71.1 119.04 71.6 118.41 72.1 118.47 72.6 118.83 73.1 116.67 73.6 118.56 74.1 116.55 74.6 117.29 75.1 118.69 75.6 117.94 76.1 118.78 76.6 118.55 77.1 117.45 77.6 117.08 78.1 116.87 78.6 116.47 79.1 117.29 79.6 116.81 80.1 114.23 80.6 113.63 81.1 114.81 81.6 113.57 82.1 112.09 82.6 113.09 83.1 110.68 83.6 109.87 84.1 110.17 84.6 109.19 85.1 108.96 85.6 107.53 86.1 107.13 86.6 109.15 87.1 108.93 87.6 109.34 88.1 107.21 88.6 106.27 89.1 109.08 89.6 107.59 90.1 108.53 90.6 107.1 91.1 107.39 91.6 106.99 92.1 107.94 92.6 108.56 93.1 106.76 93.6 107.07 94.1 107.66 94.6 108.62 95.1 107.19 95.6 105.9 96.1 107.86 96.6 107.6 97.1 109.93 97.6 108.16 98.1 105.9 98.6 108.46 99.1 106.09 99.6 107.34 100.1 105.91 100.6 108.34 101.1 106.53 101.6 109.82 102.1 106.65 102.6 109.95 103.1 109.73 103.6 108.07 104.1 107.85 104.6 107.55 105.1 108.63 105.6 106.72 106.1 107.44 106.6 106.21 107.1 107.78 107.6 106.8 108.1 109.88 108.6 107.9 109.1 106.95 109.6 107.17 110.1 106.77 110.6 106.41 111.1 106.26 111.6 109.06 112.1 106.49 112.6 109.59 113.1 110.12 113.6 109.9 114.1 106.82 114.6 109.4 115.1 108.59 115.6 110.05 116.1 107.33 116.6 108.64 117.1 108.69 117.6 106.92 118.1 108.64 118.6 109.16 119.1 109.5 119.6 109.71 120.1 106.28 120.6 109.32 121.1 107.53 121.6 109.36 122.1 106.83 122.6 107.76 123.1 107.89 123.6 109.09 124.1 108.76 124.6 109.58 125.1 106.27 125.6 107.42 126.1 109.28 126.6 107.25 127.1 109.73 127.6 107.55 128.1 109.02 128.6 106.52 129.1 110.04 129.6 106.77 130.1 107.99 130.6 107.27 131.1 107.57 131.6 108.52 132.1 108.48 132.6 109.58 133.1 110.3 133.6 109.61 134.1 109.3 134.6 107.19 135.1 107.25 135.6 106.45 136.1 106.78 136.6 109.57 137.1 106.65 137.6 107.51 138.1 107.98 138.6 107.08 139.1 106.45 139.6 107.47 140.1 108.11 140.6 107.19 141.1 106.59 141.6 110.12 142.1 109.46 142.6 109.57 143.1 107.53 143.6 109.33 144.1 109.84 144.6 108.16 145.1 107.69 145.6 109.69 146.1 106.64 146.6 108.83 147.1 109.17 147.6 110.18 148.1 110.23 148.6 108.28 149.1 105.22 149.6 107.98 150.1 107.68 150.6 108.9 151.1 109.48 151.6 110.48 152.1 107.9 152.6 108.07 153.1 107 153.6 109.92 154.1 108.62 154.6 107.59 155.1 108.65 155.6 108.58 156.1 109.88 156.6 107.6 157.1 108.69 157.6 108.45 158.1 107.12 158.6 107.28 159.1 107.68 159.6 108.44 160.1 108.91 160.6 109.65 161.1 110.29 161.6 107.14 162.1 110.54 162.6 108.39 163.1 109.81 163.6 108.09 164.1 109.62 164.6 109.46 165.1 106.86 165.6 109.84 166.1 106.46 166.6 107.31 167.1 106.6 167.6 107.71 168.1 105.96 168.6 106.9 169.1 106.65 169.6 105.21 170.1 105.22 170.6 102.38 171.1 103 171.6 101.45 172.1 102.15 172.6 98.7 173.1 100.45 173.6 97.26 174.1 99.36 174.6 96.47 175.1 97.83 175.6 94.11 176.1 97.03 176.6 94.86 177.1 93.9 177.6 95.83 178.1 94.95 178.6 95.73 179.1 95.55 179.6 93.49 180.1 93.48 180.6 95.27 181.1 95.64 181.6 93.67 182.1 95.72 182.6 93.19 183.1 95.34 183.6 94.91 184.1 94.19 184.6 94.16 185.1 93.93 185.6 93.09 186.1 94.45 186.6 93.46 187.1 93 187.6 94.48 188.1 93.48 188.6 93.19 189.1 93.63 189.6 93.29 190.1 95.38 190.6 93.69 191.1 94.71 191.6 92.83 192.1 94.71 192.6 95.48 193.1 94.82 193.6 94.76 194.1 93.69 194.6 93.78 195.1 94.9 195.6 92.94 196.1 93.62 196.6 94.17 197.1 93 197.6 93.3 198.1 92.02 198.6 93.72 199.1 92.23 199.6 92.41 200.1 92.24 200.6 93.51 201.1 92.58 201.6 94.12 202.1 93.53 202.6 93.8 203.1 93.09 203.6 91.79 204.1 91.98 204.6 92.02 205.1 91.52 205.6 92.16 206.1 92.97 206.6 92.18 207.1 91.15 207.6 92.62 208.1 93.18 208.6 91.78 209.1 90.82 209.6 92.34 210.1 91.76 210.6 92.42 211.1 91.81 211.6 92.46 212.1 90.08 212.6 91.73 213.1 91.53 213.6 91.94 214.1 90.36 214.6 91.28 215.1 90.36 215.6 91.6 216.1 89.69 216.6 89.83 217.1 91.9 217.6 91.26 218.1 89.85 218.6 89.94 219.1 90.2 219.6 89.57 220.1 89.24 220.6 91.47 221.1 88.27 221.6 90.7 222.1 90.55 222.6 90.52 223.1 89.23 223.6 88.92 224.1 89.97 224.6 90.97 225.1 89.17 225.6 88.61 226.1 89.36 226.6 88.37 227.1 88.74 227.6 89.79 228.1 88.29 228.6 88.81 229.1 89.3 229.6 87.82 230.1 87.69 230.6 89.98 231.1 89.59 231.6 89.54 232.1 88.51 232.6 88.2 233.1 86.92 233.6 87.2 234.1 86.7 234.6 87.85 235.1 87.45 235.6 86.55 236.1 86.22 236.6 87.54 237.1 86.12 237.6 85.62 238.1 86.16 238.6 87.81 239.1 87.26 239.6 86.72 240.1 85.72 240.6 86.35 241.1 84.83 241.6 85.7 242.1 86.06 242.6 84.75 243.1 86.16 243.6 85.62 244.1 84.3 244.6 84.48 245.1 85.46 245.6 86.74 246.1 84.09 246.6 85.67 247.1 84.79 247.6 85.1 248.1 86.78 248.6 85.85 249.1 84.75 249.6 85.27 250.1 86.93 250.6 86.56 251.1 85.16 251.6 85.48 252.1 85.25 252.6 84.27 253.1 86.84 253.6 84.5 254.1 84.46 254.6 84.11 255.1 86.72 255.6 86.63 256.1 85.75 256.6 85.4 257.1 85.55 257.6 84.88 258.1 86.51 258.6 85.45 259.1 86.38 259.6 85.87 260.1 85.81 260.6 85.78 261.1 85.37 261.6 86.21 262.1 85.79 262.6 84.64 263.1 84.45 263.6 84.23 264.1 86.3 264.6 85.13 265.1 83.59 265.6 85.47 266.1 86.29 266.6 86.46 267.1 86.51 267.6 86.28 268.1 84.09 268.6 85.15 269.1 85.75 269.6 85.54 270.1 84.63 270.6 83.61 271.1 86.3 271.6 85.93 272.1 86.2 272.6 84.68 273.1 84.23 273.6 86.1 274.1 85.5 274.6 85.53 275.1 83.53 275.6 83.75 276.1 85.83 276.6 86.18 277.1 84.5 277.6 86.13 278.1 83.93 278.6 85.19 279.1 84.45 279.6 85.03 280.1 83.96 280.6 84.53 281.1 84.77 281.6 85.14 282.1 83.95 282.6 85.2 283.1 83.95 283.6 86.35 284.1 84.03 284.6 83.61 285.1 84.11 285.6 85.03 286.1 84.64 286.6 85.3 287.1 83.56 287.6 84.51 288.1 83.69 288.6 86.26 289.1 85.98 289.6 84.98 290.1 84.11 290.6 83.52 291.1 85.14 291.6 84.92 292.1 84.63 292.6 85.4 293.1 84.58 293.6 84.95 294.1 84.01 294.6 84.12 295.1 85.96 295.6 84.9 296.1 86.08 296.6 83.25 297.1 85.96 297.6 83.22 298.1 85.39 298.6 84.85 299.1 83.4 299.6 83.96 300.1 84.51 300.6 84.75 301.1 84.52 301.6 83.06 302.1 86.1 302.6 84.07 303.1 85.23 303.6 85.87 304.1 86 304.6 83.5 305.1 84.83 305.6 84.52 306.1 84.96 306.6 83.67 307.1 83.34 307.6 84.7 308.1 85.71 308.6 84.18 309.1 85.85 309.6 85.06 310.1 82.89 310.6 85.77 311.1 83.17 311.6 83.51 312.1 84.57 312.6 85.75 313.1 83.21 313.6 83.71 314.1 82.91 314.6 83.03 315.1 84.11 315.6 84.55 316.1 84.34 316.6 82.87 317.1 83.44 317.6 84.11 318.1 85.64 318.6 83.72 319.1 84.68 319.6 84.21 320.1 85.12 320.6 84.56 321.1 85.77 321.6 84.65 322.1 83.71 322.6 83.95 323.1 84.43 323.6 83.77 324.1 85.52 324.6 83.98 325.1 85.55 325.6 83.05 326.1 85.03 326.6 83.96 327.1 83.26 327.6 84.4 328.1 82.72 328.6 83.15 329.1 85.18 329.6 84.16 330.1 83.56 330.6 82.94 331.1 82.99 331.6 83.2 332.1 83.91 332.6 82.52 333.1 83.09 333.6 83.79 334.1 85.21 L334.1 91.79 333.6 90.44 333.1 90.22 332.6 92.44 332.1 91.72 331.6 91.55 331.1 89.49 330.6 90.77 330.1 92.58 329.6 90.81 329.1 90.76 328.6 89.78 328.1 90.8 327.6 89.9 327.1 89.82 326.6 89.93 326.1 91.01 325.6 90.89 325.1 91.05 324.6 91.95 324.1 92.09 323.6 91.21 323.1 92.63 322.6 91.33 322.1 91.48 321.6 90.76 321.1 89.92 320.6 91.13 320.1 92.51 319.6 91.04 319.1 90.72 318.6 90.75 318.1 91.8 317.6 90.96 317.1 90.21 316.6 92.55 316.1 90.44 315.6 92.45 315.1 92.83 314.6 92.35 314.1 91.02 313.6 89.9 313.1 90.21 312.6 91.6 312.1 92.38 311.6 90.37 311.1 92.14 310.6 91.41 310.1 91.5 309.6 90.09 309.1 92.29 308.6 91.16 308.1 93 307.6 91.81 307.1 91.85 306.6 92.9 306.1 92.9 305.6 92.75 305.1 90.97 304.6 93.04 304.1 91.92 303.6 91.78 303.1 91.19 302.6 91.55 302.1 93.17 301.6 93.08 301.1 92.55 300.6 92.66 300.1 90.38 299.6 90.43 299.1 90.88 298.6 91.57 298.1 90.07 297.6 91.46 297.1 90.56 296.6 90.68 296.1 91.33 295.6 92.03 295.1 90.49 294.6 90.74 294.1 90.75 293.6 92.83 293.1 90.44 292.6 91.6 292.1 92.37 291.6 91.7 291.1 92.56 290.6 92.11 290.1 91.23 289.6 92.22 289.1 92.94 288.6 92.21 288.1 93.1 287.6 92.53 287.1 90.33 286.6 90.38 286.1 93.27 285.6 90.6 285.1 92.54 284.6 93.35 284.1 92.75 283.6 91.47 283.1 90.62 282.6 92.9 282.1 90.42 281.6 91.67 281.1 92.53 280.6 92.66 280.1 92.21 279.6 91.52 279.1 92.03 278.6 91.51 278.1 92.25 277.6 91.02 277.1 92.76 276.6 91.33 276.1 92.86 275.6 91.22 275.1 90.57 274.6 91.61 274.1 93.44 273.6 92.57 273.1 91.64 272.6 92.25 272.1 92.45 271.6 92.99 271.1 90.96 270.6 91.01 270.1 92.41 269.6 91.22 269.1 93.72 268.6 91.57 268.1 92.46 267.6 91.58 267.1 90.7 266.6 93.53 266.1 93.27 265.6 92.93 265.1 91.34 264.6 91.18 264.1 93.22 263.6 91.4 263.1 91.23 262.6 93.42 262.1 91.65 261.6 90.87 261.1 91.03 260.6 91.48 260.1 92.99 259.6 93.39 259.1 90.94 258.6 90.9 258.1 93.43 257.6 92.56 257.1 93.58 256.6 92.34 256.1 92.95 255.6 93.31 255.1 92.15 254.6 92.01 254.1 91.29 253.6 91.93 253.1 92.99 252.6 93.75 252.1 91.75 251.6 92.3 251.1 93.65 250.6 93.48 250.1 92.24 249.6 92.95 249.1 93.02 248.6 92.37 248.1 93.9 247.6 91.74 247.1 93.67 246.6 93.37 246.1 91.65 245.6 91.06 245.1 91.36 244.6 93.54 244.1 92.16 243.6 91.5 243.1 92.05 242.6 93.14 242.1 92.44 241.6 93.57 241.1 94.5 240.6 93.81 240.1 94.57 239.6 95.48 239.1 92.9 238.6 92.95 238.1 95.05 237.6 94.61 237.1 94.46 236.6 94.75 236.1 94.95 235.6 95.2 235.1 93.67 234.6 93.94 234.1 94.41 233.6 94.48 233.1 95.5 232.6 94.16 232.1 93.69 231.6 96.32 231.1 95.75 230.6 96.59 230.1 95.72 229.6 93.89 229.1 94.94 228.6 96.4 228.1 95.34 227.6 95.79 227.1 94.39 226.6 96.08 226.1 96.98 225.6 94.54 225.1 94.76 224.6 95.87 224.1 95.7 223.6 96.04 223.1 97.22 222.6 96.97 222.1 95.98 221.6 97.59 221.1 95.82 220.6 97.43 220.1 96.89 219.6 97.77 219.1 95.87 218.6 95.69 218.1 97.77 217.6 97.41 217.1 97.11 216.6 97.78 216.1 98.07 215.6 96.31 215.1 97.32 214.6 97.22 214.1 97.82 213.6 96.82 213.1 97.03 212.6 97.72 212.1 96.63 211.6 98.57 211.1 98.47 210.6 98.35 210.1 99 209.6 97.45 209.1 96.51 208.6 96.91 208.1 96.79 207.6 98.32 207.1 97.9 206.6 97.33 206.1 97.05 205.6 97.41 205.1 99.25 204.6 97.23 204.1 98.01 203.6 98.14 203.1 97.69 202.6 97.47 202.1 97.86 201.6 98.12 201.1 99.18 200.6 99.5 200.1 99.43 199.6 98.21 199.1 99.01 198.6 99.97 198.1 98.08 197.6 100.11 197.1 101.02 196.6 98.66 196.1 100.56 195.6 99.8 195.1 98.91 194.6 99.01 194.1 101.48 193.6 101.28 193.1 100.86 192.6 99.27 192.1 101.48 191.6 101.49 191.1 100.47 190.6 101.5 190.1 99.67 189.6 100.42 189.1 99.64 188.6 101.52 188.1 100.71 187.6 101.37 187.1 100.67 186.6 99.97 186.1 101.34 185.6 100.98 185.1 101.71 184.6 99.86 184.1 101.7 183.6 99.96 183.1 101.93 182.6 100.56 182.1 101.27 181.6 101.67 181.1 101.68 180.6 102.06 180.1 102.03 179.6 99.86 179.1 101.56 178.6 100.73 178.1 102.27 177.6 101.74 177.1 101.86 176.6 102.82 176.1 102.17 175.6 103.8 175.1 103.77 174.6 103.17 174.1 105.59 173.6 106.07 173.1 107.33 172.6 108.51 172.1 109.1 171.6 108.16 171.1 111.31 170.6 109.12 170.1 112.71 169.6 112.21 169.1 113.51 168.6 115.33 168.1 114.39 167.6 114.01 167.1 117.38 166.6 116.83 166.1 116 165.6 115.72 165.1 116.44 164.6 117.41 164.1 115.94 163.6 118.38 163.1 118.56 162.6 117.27 162.1 115.87 161.6 115.65 161.1 116.96 160.6 116.48 160.1 118.23 159.6 116.39 159.1 118.19 158.6 118.51 158.1 117.37 157.6 118.75 157.1 119.13 156.6 119.21 156.1 117.32 155.6 117.9 155.1 115.48 154.6 117.34 154.1 118.56 153.6 115.4 153.1 115.76 152.6 119.09 152.1 115.61 151.6 118.72 151.1 117.92 150.6 116 150.1 118.29 149.6 116.56 149.1 118.35 148.6 115.47 148.1 118.94 147.6 116.85 147.1 115.89 146.6 117.67 146.1 118.45 145.6 116.92 145.1 117.08 144.6 118.65 144.1 116.82 143.6 115.84 143.1 116.72 142.6 118.38 142.1 117.52 141.6 117.78 141.1 116.36 140.6 115.56 140.1 118.86 139.6 117.15 139.1 115.75 138.6 117.21 138.1 117.33 137.6 115.41 137.1 118.77 136.6 117.07 136.1 117.17 135.6 116.56 135.1 119.35 134.6 115.95 134.1 116.04 133.6 119.02 133.1 118.8 132.6 117.65 132.1 119.01 131.6 118.71 131.1 118.54 130.6 118.33 130.1 116.98 129.6 116.01 129.1 117.5 128.6 118.26 128.1 118.76 127.6 119.46 127.1 117.1 126.6 115.7 126.1 118.72 125.6 116.58 125.1 116.93 124.6 117.67 124.1 115.56 123.6 115.97 123.1 115.65 122.6 116.57 122.1 117.24 121.6 119.42 121.1 116.21 120.6 118.23 120.1 118.88 119.6 119.21 119.1 117.66 118.6 116 118.1 118.72 117.6 116.34 117.1 116.84 116.6 119.33 116.1 118.22 115.6 117.89 115.1 118.25 114.6 116.85 114.1 119.36 113.6 118.67 113.1 118.83 112.6 116.22 112.1 118.31 111.6 116.5 111.1 115.86 110.6 119.17 110.1 119.29 109.6 117.48 109.1 118.53 108.6 115.85 108.1 117.65 107.6 118.15 107.1 116.94 106.6 117.91 106.1 118.45 105.6 116.99 105.1 117.33 104.6 117.95 104.1 117.55 103.6 118.75 103.1 119.06 102.6 118.2 102.1 118.96 101.6 117.91 101.1 117.42 100.6 118.13 100.1 115.69 99.6 116.59 99.1 116.78 98.6 115.48 98.1 116.61 97.6 119.02 97.1 118.5 96.6 118.28 96.1 118 95.6 115.85 95.1 115.96 94.6 118.69 94.1 118.76 93.6 118.27 93.1 117.51 92.6 116.96 92.1 116.97 91.6 116.14 91.1 117.45 90.6 118.9 90.1 119.61 89.6 117.76 89.1 118.69 88.6 117.63 88.1 119.37 87.6 115.76 87.1 115.97 86.6 116.34 86.1 119.74 85.6 118.27 85.1 120.14 84.6 117.96 84.1 119.72 83.6 118.13 83.1 118.42 82.6 120.47 82.1 118.77 81.6 120.06 81.1 118.58 80.6 119.7 80.1 120.59 79.6 121.65 79.1 122.81 78.6 122.16 78.1 123.08 77.6 123.14 77.1 123.24 76.6 121.93 76.1 123.05 75.6 123.82 75.1 124.8 74.6 124.53 74.1 124.21 73.6 123.88 73.1 125.61 72.6 125.85 72.1 124.08 71.6 125.58 71.1 125.15 70.6 124.82 70.1 127.38 69.6 125.55 69.1 126.12 68.6 126.49 68.1 127.36 67.6 130.09 67.1 130.37 66.6 131.02 66.1 132.44 65.6 130.93 65.1 132.92 64.6 132.98 64.1 134.37 63.6 135.64 63.1 136.24 62.6 134.55 62.1 138.11 61.6 138.3 61.1 138.66 60.6 140.06 60.1 139.63 59.6 143.09 59.1 143.94 58.6 145.28 58.1 144.18 57.6 147.22 57.1 149.96 56.6 149.69 56.1 151.31 55.6 153.39 55.1 154.86 54.6 156.79 54.1 158.64 53.6 161.48 53.1 162.51 52.6 164.93 52.1 167.59 51.6 169.06 51.1 170.99 50.6 171.78 50.1 173.19 49.6 175.57 49.1 177.32 48.6 177.83 48.1 179.56 47.6 181.91 47.1 184.19Z" fill="#ff00ff"/>
<path d="M47.1 180.94 47.6 178.42 48.1 175.56 48.6 171.8 49.1 170.39 49.6 168.05 50.1 164.33 50.6 163.52 51.1 159.79 51.6 156.9 52.1 154.76 52.6 152.34 53.1 147.91 53.6 145.38 54.1 145.32 54.6 142.02 55.1 140.22 55.6 137.75 56.1 136.85 56.6 133.59 57.1 131.84 57.6 129.85 58.1 124.98 58.6 125.09 59.1 123.31 59.6 119.97 60.1 119.07 60.6 117.65 61.1 118.52 61.6 119.39 62.1 116.82 62.6 118.63 63.1 115.14 63.6 115.61 64.1 114.63 64.6 116.88 65.1 113.24 65.6 115.48 66.1 113.58 66.6 111.97 67.1 112.07 67.6 110.29 68.1 112.1 68.6 112.02 69.1 110.76 69.6 111.85 70.1 111.41 70.6 110.88 71.1 111.12 71.6 109.84 72.1 108.75 72.6 110.11 73.1 109.8 73.6 108.56 74.1 110.57 74.6 109.57 75.1 110.38 75.6 108.52 76.1 108.72 76.6 108.34 77.1 111.28 77.6 110.59 78.1 109.41 78.6 108.71 79.1 109.71 79.6 111.1 80.1 111.28 80.6 108.02 81.1 109.34 81.6 105.84 82.1 104.11 82.6 103.4 83.1 101.91 83.6 101.71 84.1 102.79 84.6 101.06 85.1 101.84 85.6 98.69 86.1 100.77 86.6 98.1 87.1 98.38 87.6 100.11 88.1 98.97 88.6 98.54 89.1 97.86 89.6 96.59 90.1 97.04 90.6 96.04 91.1 96.78 91.6 96.03 92.1 96.3 92.6 95.75 93.1 95.37 93.6 92.86 94.1 92.3 94.6 93.02 95.1 94.33 95.6 93 96.1 92.58 96.6 92.96 97.1 92.06 97.6 90.2 98.1 90.92 98.6 91.73 99.1 91.21 99.6 88.82 100.1 91.37 100.6 89.79 101.1 88.92 101.6 89.15 102.1 90.46 102.6 90.14 103.1 88.37 103.6 89.01 104.1 87.17 104.6 89.09 105.1 86.8 105.6 88.49 106.1 87.14 106.6 86.47 107.1 86.26 107.6 88.51 108.1 86.22 108.6 86.85 109.1 85.82 109.6 86.72 110.1 87.62 110.6 85.8 111.1 87.12 111.6 85.93 112.1 85.12 112.6 87.15 113.1 85.6 113.6 86.42 114.1 87.32 114.6 86.5 115.1 85.16 115.6 85.98 116.1 86.31 116.6 84.5 117.1 86.8 117.6 84.33 118.1 83.62 118.6 85.21 119.1 84.98 119.6 83.86 120.1 84.93 120.6 84.16 121.1 85.98 121.6 84.83 122.1 84.91 122.6 83.52 123.1 86.33 123.6 83.82 124.1 84.96 124.6 85.63 125.1 84.66 125.6 83.88 126.1 85.04 126.6 85.28 127.1 83.06 127.6 83.45 128.1 83.14 128.6 82.52 129.1 84.81 129.6 86.26 130.1 83.48 130.6 86.02 131.1 83.91 131.6 85.93 132.1 82.8 132.6 83.65 133.1 85.68 133.6 84.9 134.1 85.51 134.6 85.05 135.1 83.62 135.6 86.2 136.1 84.63 136.6 85.57 137.1 83.96 137.6 86.02 138.1 84.82 138.6 85.16 139.1 82.98 139.6 84.02 140.1 81.67 140.6 83.79 141.1 84.61 141.6 83.55 142.1 82.46 142.6 84.09 143.1 85.34 143.6 83.89 144.1 85.41 144.6 83.92 145.1 84.54 145.6 83.59 146.1 82.77 146.6 84.43 147.1 84.4 147.6 85.48 148.1 85.44 148.6 85.42 149.1 83.89 149.6 83.56 150.1 83.3 150.6 84.23 151.1 84.75 151.6 85.73 152.1 86.25 152.6 84.26 153.1 84.61 153.6 83.54 154.1 84.67 154.6 83.52 155.1 85.77 155.6 82.72 156.1 84 156.6 83.3 157.1 83.27 157.6 85.36 158.1 83.21 158.6 83.67 159.1 82.6 159.6 85.92 160.1 85.87 160.6 83.88 161.1 85.96 161.6 83.31 162.1 83.4 162.6 84.56 163.1 83.27 163.6 85.9 164.1 86.15 164.6 82.91 165.1 84.15 165.6 84.06 166.1 86.22 166.6 86.21 167.1 82.67 167.6 86.09 168.1 84.91 168.6 84.24 169.1 84.11 169.6 85.71 170.1 82.93 170.6 83.96 171.1 82.82 171.6 83.96 172.1 85.5 172.6 85.16 173.1 82.98 173.6 83.39 174.1 85.12 174.6 83.1 175.1 82.63 175.6 85.76 176.1 82.53 176.6 85.85 177.1 84.73 177.6 83.95 178.1 83.59 178.6 82.79 179.1 85.87 179.6 83.94 180.1 82.99 180.6 84.59 181.1 83.63 181.6 85.89 182.1 83.05 182.6 84.33 183.1 82.53 183.6 83.45 184.1 85.15 184.6 84.79 185.1 85.95 185.6 83.03 186.1 84.22 186.6 82.83 187.1 85.1 187.6 82.84 188.1 85.97 188.6 84.3 189.1 84.5 189.6 83.85 190.1 83.96 190.6 85.78 191.1 85.34 191.6 83.92 192.1 85.56 192.6 83.89 193.1 82.75 193.6 83.31 194.1 84.06 194.6 84.13 195.1 83.11 195.6 85.13 196.1 83.35 196.6 84.92 197.1 84.45 197.6 84.92 198.1 85.85 198.6 85.16 199.1 83.67 199.6 85.05 200.1 84.41 200.6 86.24 201.1 85.56 201.6 83.04 202.1 83.03 202.6 84.11 203.1 85.96 203.6 82.98 204.1 83.35 204.6 86.26 205.1 85.3 205.6 84.52 206.1 83.07 206.6 82.56 207.1 83.7 207.6 83.16 208.1 85.82 208.6 84.42 209.1 84.37 209.6 84.78 210.1 84.33 210.6 83.35 211.1 85.24 211.6 85.26 212.1 85.91 212.6 84.31 213.1 82.94 213.6 86.12 214.1 82.49 214.6 83.04 215.1 85.14 215.6 85.74 216.1 86.04 216.6 84.71 217.1 83.49 217.6 82.56 218.1 85.25 218.6 84.89 219.1 82.88 219.6 85.29 220.1 86.07 220.6 83.15 221.1 84.74 221.6 84.04 222.1 84.79 222.6 82.89 223.1 85.87 223.6 83.56 224.1 84.89 224.6 83.33 225.1 82.2 225.6 84.96 226.1 83.42 226.6 86.09 227.1 85.73 227.6 84.57 228.1 84.59 228.6 82.55 229.1 85.38 229.6 85.05 230.1 84.3 230.6 85.55 231.1 84.24 231.6 83.9 232.1 85.27 232.6 84.33 233.1 84.76 233.6 83.02 234.1 83.21 234.6 83.14 235.1 85.51 235.6 86.24 236.1 86.16 236.6 84.55 237.1 85.44 237.6 82.9 238.1 83.7 238.6 86.03 239.1 83.57 239.6 83.04 240.1 84.1 240.6 85.38 241.1 86.21 241.6 82.56 242.1 84.87 242.6 85.65 243.1 85.56 243.6 84.92 244.1 84.91 244.6 85.68 245.1 83.98 245.6 84.7 246.1 84.54 246.6 84.13 247.1 84.15 247.6 85.14 248.1 83.02 248.6 85.63 249.1 85.15 249.6 83.21 250.1 83.77 250.6 85.66 251.1 83.08 251.6 85.68 252.1 83.96 252.6 86.24 253.1 83.1 253.6 86.2 254.1 83.91 254.6 84.05 255.1 82.61 255.6 85.44 256.1 82.74 256.6 85.43 257.1 84.34 257.6 85.73 258.1 84.81 258.6 86.06 259.1 84.41 259.6 83.3 260.1 85.97 260.6 85.86 261.1 85.65 261.6 84.73 262.1 83.44 262.6 82.5 263.1 85.54 263.6 84.96 264.1 84.12 264.6 84.4 265.1 85.45 265.6 83.32 266.1 82.52 266.6 82.8 267.1 86.22 267.6 82.71 268.1 86.18 268.6 82.54 269.1 85.01 269.6 84.45 270.1 84.33 270.6 82.44 271.1 84.61 271.6 84.8 272.1 85.63 272.6 85.61 273.1 85.54 273.6 82.66 274.1 85.79 274.6 84.44 275.1 85.76 275.6 85.91 276.1 82.75 276.6 84.01 277.1 84.37 277.6 84.74 278.1 86.03 278.6 82.57 279.1 84.74 279.6 84.32 280.1 82.95 280.6 85.06 281.1 85.22 281.6 81.74 282.1 82.84 282.6 84.3 283.1 86.1 283.6 85.62 284.1 84.98 284.6 83.95 285.1 86.08 285.6 84.25 286.1 82.97 286.6 84.73 287.1 82.79 287.6 85.75 288.1 84.36 288.6 85.26 289.1 85.69 289.6 84.77 290.1 85.46 290.6 85.44 291.1 83.91 291.6 82.55 292.1 82.42 292.6 84.93 293.1 83.65 293.6 86.21 294.1 83.64 294.6 85.15 295.1 82.91 295.6 84.18 296.1 85.51 296.6 85.92 297.1 82.71 297.6 85.52 298.1 86.13 298.6 82.53 299.1 85.55 299.6 82.6 300.1 85.03 300.6 86.22 301.1 82.76 301.6 85.29 302.1 82.86 302.6 84.67 303.1 83.76 303.6 84.57 304.1 84.16 304.6 82.63 305.1 83.58 305.6 82.88 306.1 84 306.6 82.75 307.1 82.55 307.6 85.24 308.1 85.13 308.6 82.55 309.1 84.94 309.6 85.02 310.1 83.75 310.6 83.56 311.1 83.32 311.6 84.74 312.1 82.95 312.6 84.53 313.1 83.99 313.6 84.4 314.1 85.34 314.6 83.3 315.1 83.63 315.6 84.28 316.1 83.68 316.6 85.05 317.1 82.98 317.6 85.94 318.1 86.04 318.6 82.92 319.1 84.3 319.6 83.76 320.1 83.75 320.6 83.2 321.1 84.5 321.6 85.51 322.1 83.34 322.6 85.02 323.1 85.3 323.6 84.85 324.1 85.83 324.6 84.74 325.1 85.5 325.6 86.09 326.1 85.7 326.6 84.64 327.1 83.55 327.6 84.75 328.1 85.2 328.6 85.19 329.1 83.96 329.6 85.3 330.1 83.71 330.6 82.93 331.1 86.1 331.6 85.95 332.1 84.06 332.6 84.15 333.1 82.5 333.6 86.08 334.1 83.79 L334.1 93.31 333.6 94.01 333.1 91.42 332.6 94.44 332.1 94.36 331.6 91.62 331.1 92.55 330.6 93.68 330.1 92.45 329.6 93.1 329.1 93.53 328.6 93.71 328.1 93.76 327.6 94.33 327.1 93.97 326.6 91.83 326.1 93.64 325.6 94.58 325.1 93.2 324.6 92.07 324.1 92.52 323.6 94.09 323.1 93.87 322.6 94.16 322.1 92.87 321.6 92.29 321.1 93.51 320.6 92.42 320.1 93.75 319.6 93.42 319.1 94.68 318.6 91.92 318.1 94.52 317.6 92.13 317.1 93.84 316.6 92.99 316.1 91.71 315.6 91.35 315.1 92.72 314.6 94.57 314.1 92.45 313.6 93.96 313.1 94.63 312.6 92.99 312.1 94.38 311.6 91.04 311.1 93.98 310.6 93.32 310.1 92.82 309.6 92.38 309.1 91.02 308.6 94.28 308.1 94.18 307.6 93.41 307.1 91.13 306.6 92.99 306.1 93.65 305.6 93.5 305.1 93.3 304.6 92.19 304.1 91.66 303.6 92.36 303.1 93.1 302.6 94.05 302.1 93.68 301.6 93.37 301.1 93.75 300.6 92.29 300.1 91.32 299.6 92.62 299.1 91.06 298.6 93.9 298.1 92.98 297.6 92.18 297.1 92.54 296.6 91.6 296.1 93.07 295.6 92 295.1 93.61 294.6 92.8 294.1 91.9 293.6 92.57 293.1 92.67 292.6 93.87 292.1 93.54 291.6 93.52 291.1 92.57 290.6 93.18 290.1 91.91 289.6 92.36 289.1 91.88 288.6 94.46 288.1 92.34 287.6 94.56 287.1 91.36 286.6 94.16 286.1 92.23 285.6 94.08 285.1 92 284.6 94.54 284.1 95.06 283.6 92.39 283.1 92.4 282.6 94.11 282.1 94.53 281.6 91.65 281.1 92.59 280.6 93.51 280.1 94.1 279.6 92.68 279.1 93.73 278.6 91.86 278.1 93.43 277.6 92.7 277.1 93.95 276.6 93.58 276.1 91.04 275.6 93.77 275.1 93.06 274.6 92.41 274.1 92.92 273.6 93.25 273.1 93.2 272.6 91.42 272.1 92.14 271.6 92.96 271.1 91.76 270.6 94.14 270.1 93.92 269.6 92.6 269.1 93.64 268.6 93.16 268.1 93.45 267.6 94.74 267.1 94.54 266.6 93.29 266.1 92.91 265.6 91.36 265.1 94.56 264.6 92.47 264.1 91.14 263.6 91.37 263.1 91.24 262.6 92.09 262.1 92.95 261.6 93.67 261.1 94.17 260.6 92.9 260.1 92.5 259.6 94.01 259.1 91.3 258.6 91.02 258.1 93.69 257.6 94.71 257.1 94.02 256.6 92.15 256.1 93.49 255.6 92.35 255.1 92.4 254.6 91.36 254.1 94.82 253.6 91.37 253.1 93.95 252.6 91.62 252.1 94.56 251.6 92.85 251.1 92.46 250.6 92.04 250.1 93.73 249.6 94.16 249.1 93.33 248.6 92.95 248.1 91.16 247.6 94.04 247.1 91.85 246.6 92.87 246.1 91.89 245.6 93.55 245.1 91.33 244.6 92.23 244.1 93.08 243.6 94.47 243.1 92.39 242.6 93.78 242.1 94.22 241.6 92.34 241.1 91.46 240.6 92.21 240.1 93.72 239.6 91.3 239.1 93.34 238.6 94.81 238.1 92.62 237.6 93.33 237.1 93.88 236.6 94.68 236.1 94.42 235.6 91.88 235.1 94.21 234.6 91.25 234.1 91.06 233.6 94.24 233.1 94.67 232.6 93.31 232.1 94.63 231.6 91.2 231.1 93.6 230.6 93.18 230.1 92.12 229.6 93.4 229.1 93.87 228.6 93.22 228.1 93.55 227.6 92.99 227.1 91.86 226.6 94.02 226.1 91.52 225.6 91.93 225.1 93.01 224.6 93 224.1 94.6 223.6 93.51 223.1 91.99 222.6 91.3 222.1 93.63 221.6 94.66 221.1 92.96 220.6 92.15 220.1 92.71 219.6 94.43 219.1 92.04 218.6 93.81 218.1 93.32 217.6 93.12 217.1 93.6 216.6 92.01 216.1 93.43 215.6 93.96 215.1 93.76 214.6 94.08 214.1 91.04 213.6 92.79 213.1 92.72 212.6 91.3 212.1 93.38 211.6 91.43 211.1 91.02 210.6 93.82 210.1 91.9 209.6 94.15 209.1 93.41 208.6 91.23 208.1 91.73 207.6 92.63 207.1 94.61 206.6 91.91 206.1 91.24 205.6 92.02 205.1 92.71 204.6 92.82 204.1 91.72 203.6 94.66 203.1 94.49 202.6 91.1 202.1 91.18 201.6 93.63 201.1 93.83 200.6 93.91 200.1 91.84 199.6 92.06 199.1 94.07 198.6 93.39 198.1 92.94 197.6 91.93 197.1 93.52 196.6 94.02 196.1 91.04 195.6 92.26 195.1 91.23 194.6 92.54 194.1 91.73 193.6 91.23 193.1 94.2 192.6 92.03 192.1 94.3 191.6 94.16 191.1 93.2 190.6 92.98 190.1 92.35 189.6 93.41 189.1 94.55 188.6 94.67 188.1 92.46 187.6 93.3 187.1 94.28 186.6 91.32 186.1 91.04 185.6 91.29 185.1 94.42 184.6 93.94 184.1 92.22 183.6 94.03 183.1 93.5 182.6 93.89 182.1 92.7 181.6 93.31 181.1 93.35 180.6 95.31 180.1 92.02 179.6 93.04 179.1 94.71 178.6 93.36 178.1 91.08 177.6 92.34 177.1 94.23 176.6 91.83 176.1 92.51 175.6 91.96 175.1 92.06 174.6 93.53 174.1 93.06 173.6 92.92 173.1 93.61 172.6 92.17 172.1 94.49 171.6 94.51 171.1 94.41 170.6 93.2 170.1 91.74 169.6 91.67 169.1 93.16 168.6 93.95 168.1 94.44 167.6 91.48 167.1 92.48 166.6 91.37 166.1 91.93 165.6 91.32 165.1 94.08 164.6 93.6 164.1 92.63 163.6 94.08 163.1 91.82 162.6 94.57 162.1 92.17 161.6 93.29 161.1 93.78 160.6 94.62 160.1 91.36 159.6 93.19 159.1 94.23 158.6 94.54 158.1 91.72 157.6 94.67 157.1 94.35 156.6 93.32 156.1 94.38 155.6 94.1 155.1 91.12 154.6 93.86 154.1 93.66 153.6 92.05 153.1 91.74 152.6 94.33 152.1 95.26 151.6 91.81 151.1 93.97 150.6 91.26 150.1 92.37 149.6 92.78 149.1 93.55 148.6 94.14 148.1 91.74 147.6 94.7 147.1 92.88 146.6 93.54 146.1 92.9 145.6 94.29 145.1 92.95 144.6 93.67 144.1 91.29 143.6 94 143.1 91.16 142.6 92.26 142.1 94.7 141.6 92.5 141.1 91.04 140.6 94.2 140.1 93.06 139.6 93.24 139.1 91.18 138.6 92.15 138.1 91.39 137.6 92.07 137.1 93.27 136.6 91.63 136.1 93.59 135.6 92.44 135.1 94.41 134.6 91.74 134.1 92.67 133.6 91.86 133.1 93.49 132.6 91.68 132.1 92.72 131.6 93.69 131.1 93.06 130.6 94.76 130.1 91.08 129.6 90.98 129.1 93.94 128.6 92.49 128.1 91.52 127.6 92.27 127.1 94.31 126.6 92.91 126.1 92.93 125.6 92.2 125.1 92.88 124.6 92.6 124.1 93.6 123.6 93.32 123.1 92.19 122.6 93.96 122.1 91.47 121.6 93.01 121.1 91.82 120.6 93.06 120.1 91.49 119.6 93.67 119.1 91.58 118.6 92.23 118.1 93.24 117.6 92.16 117.1 92.38 116.6 91.89 116.1 93.39 115.6 93.7 115.1 91.92 114.6 91.64 114.1 93.1 113.6 92.13 113.1 92.99 112.6 94.29 112.1 94.25 111.6 92.81 111.1 92.52 110.6 94.2 110.1 94.93 109.6 92.12 109.1 92.83 108.6 94.39 108.1 92.55 107.6 95.1 107.1 92.43 106.6 94.6 106.1 93.94 105.6 93.54 105.1 94.23 104.6 94 104.1 94.92 103.6 94.7 103.1 95.04 102.6 94.84 102.1 95.37 101.6 95.27 101.1 94.59 100.6 96.36 100.1 94.97 99.6 97.78 99.1 97.44 98.6 96.78 98.1 97.12 97.6 96.68 97.1 99.12 96.6 98.69 96.1 98.36 95.6 100.23 95.1 99.18 94.6 98.63 94.1 99.16 93.6 100.15 93.1 100.28 92.6 101.26 92.1 102.53 91.6 102.91 91.1 103.57 90.6 102.85 90.1 105 89.6 104.75 89.1 106.19 88.6 104.39 88.1 104.99 87.6 107.76 87.1 107.7 86.6 106.47 86.1 106.97 85.6 108.71 85.1 108.79 84.6 109.4 84.1 111.78 83.6 109.52 83.1 113.55 82.6 111.19 82.1 114.62 81.6 113 81.1 114.76 80.6 115.46 80.1 116.91 79.6 116.03 79.1 117.28 78.6 118.51 78.1 117.58 77.6 115.79 77.1 117.14 76.6 117.41 76.1 118.66 75.6 118.47 75.1 116.32 74.6 116.27 74.1 119.56 73.6 119.36 73.1 119.44 72.6 118.45 72.1 119.38 71.6 119.72 71.1 119.64 70.6 120.42 70.1 120.69 69.6 120.9 69.1 121.99 68.6 120.81 68.1 119.44 67.6 123.08 67.1 121.38 66.6 123.21 66.1 121.9 65.6 123.73 65.1 123.72 64.6 122.02 64.1 124.7 63.6 123.87 63.1 126.29 62.6 127.16 62.1 126.97 61.6 126.58 61.1 126.92 60.6 130.16 60.1 128.89 59.6 131.75 59.1 129.9 58.6 131.58 58.1 133.33 57.6 138.11 57.1 137.39 56.6 140.58 56.1 143.18 55.6 144.62 55.1 146.94 54.6 147.58 54.1 149.9 53.6 152.19 53.1 153.63 52.6 157.41 52.1 159.36 51.6 162.55 51.1 165.14 50.6 167.75 50.1 169.95 49.6 172.51 49.1 174.27 48.6 176.03 48.1 177.77 47.6 180.22 47.1 183.1Z" fill="#00ffff"/>
</g>
<g clip-path="url(#cr)">
<path d="M419.6 100.78 420.1 102.39 420.6 102.48 421.1 104.08 421.6 103.48 422.1 105.38 422.6 99.1 423.1 106.06 423.6 105.96 424.1 104.49 424.6 105.08 425.1 100.87 425.6 105.29 426.1 105.43 426.6 104.91 427.1 104.84 427.6 99.63 428.1 105.69 428.6 104.28 429.1 105.8 429.6 105.52 430.1 104.75 430.6 106.14 431.1 99.61 431.6 105.02 432.1 105.07 432.6 104.62 433.1 105.07 433.6 104.02 434.1 105.25 434.6 104.62 435.1 105.39 435.6 105.25 436.1 106.18 436.6 105.57 437.1 103.82 437.6 101.24 438.1 104.99 438.6 105.1 439.1 104.94 439.6 105.56 440.1 106.04 440.6 103.95 441.1 105.3 441.6 99.03 442.1 99.12 442.6 104.28 443.1 103.96 443.6 104.29 444.1 105.01 444.6 105.59 445.1 100.57 445.6 106.13 446.1 106.03 446.6 105.67 447.1 104.88 447.6 104.48 448.1 105.87 448.6 105.59 449.1 105.5 449.6 105.65 450.1 106 450.6 105.11 451.1 99.94 451.6 103.83 452.1 104.38 452.6 105.38 453.1 104.69 453.6 104.27 454.1 104.12 454.6 103.88 455.1 105.17 455.6 105.38 456.1 106.09 456.6 105.68 457.1 104.17 457.6 104.29 458.1 106.12 458.6 104.5 459.1 103.28 459.6 105.73 460.1 105.33 460.6 103.89 461.1 100.92 461.6 105.08 462.1 105.09 462.6 104.07 463.1 106.11 463.6 105 464.1 105.41 464.6 105.64 465.1 104.41 465.6 103.86 466.1 105.28 466.6 100.59 467.1 105.93 467.6 100.53 468.1 98.75 468.6 105.92 469.1 103.98 469.6 104.48 470.1 105.78 470.6 104.02 471.1 105.67 471.6 105.71 472.1 105.98 472.6 105.86 473.1 105.52 473.6 100.24 474.1 104.08 474.6 103.99 475.1 104.55 475.6 104.55 476.1 106.18 476.6 105.85 477.1 104.02 477.6 102.7 478.1 105.72 478.6 104.74 479.1 105.05 479.6 105.9 480.1 106 480.6 104.21 481.1 105.77 481.6 104.88 482.1 103.85 482.6 104.53 483.1 105.93 483.6 104.24 484.1 104.2 484.6 106.1 485.1 104.84 485.6 105.99 486.1 104.47 486.6 103.95 487.1 106 487.6 104.57 488.1 102.81 488.6 105.41 489.1 105.8 489.6 104.57 490.1 105.51 490.6 102.71 491.1 105.43 491.6 106.02 492.1 101.55 492.6 105.16 493.1 106.06 493.6 105.51 494.1 103.06 494.6 100 495.1 104.52 495.6 104.16 496.1 103.86 496.6 105.37 497.1 106.13 497.6 105.31 498.1 106.14 498.6 105.77 499.1 105.29 499.6 101.66 500.1 104.27 500.6 106.1 501.1 106.06 501.6 102.2 502.1 104.6 502.6 105.6 503.1 105.09 503.6 105.78 504.1 105.16 504.6 103.83 505.1 104.47 505.6 104.45 506.1 104.59 506.6 104.63 507.1 103.84 507.6 105.03 508.1 106.06 508.6 105.28 509.1 104.31 509.6 101.64 510.1 105.9 510.6 105.92 511.1 104.08 511.6 105.49 512.1 104.59 512.6 105.71 513.1 104.7 513.6 104.39 514.1 100.9 514.6 105.85 515.1 105.36 515.6 104.95 516.1 105.16 516.6 105.38 517.1 102.86 517.6 104.78 518.1 104.44 518.6 105.3 519.1 104.49 519.6 104.8 520.1 104.49 520.6 105.99 521.1 105.05 521.6 104.16 522.1 104.09 522.6 105.65 523.1 106.05 523.6 104.34 524.1 105.17 524.6 104.97 525.1 104.85 525.6 105.48 526.1 105.73 526.6 102.07 527.1 104.33 527.6 105.25 528.1 104.17 528.6 104.25 529.1 104.63 529.6 105.17 530.1 104.98 530.6 103.91 531.1 104.98 531.6 104.21 532.1 104.21 532.6 105.87 533.1 105.35 533.6 104.39 534.1 105.65 534.6 106.16 535.1 105.85 535.6 104.16 536.1 105.38 536.6 101.62 537.1 104.86 537.6 104.24 538.1 99.66 538.6 106.14 539.1 104.9 539.6 104.2 540.1 104.91 540.6 104.9 541.1 104.17 541.6 105.58 542.1 105.3 542.6 105.53 543.1 105.81 543.6 105.91 544.1 106.2 544.6 105.49 545.1 106.16 545.6 101.35 546.1 104.27 546.6 104.74 547.1 104.95 547.6 104.92 548.1 104.03 548.6 99.95 549.1 105.7 549.6 105.02 550.1 105.4 550.6 105.46 551.1 105.3 551.6 103.83 552.1 102.26 552.6 105.59 553.1 104.68 553.6 106.13 554.1 106.1 554.6 105.03 555.1 106.15 555.6 101.88 556.1 104.95 556.6 106.02 557.1 104.02 557.6 105.03 558.1 104.8 558.6 99.3 559.1 104.84 559.6 105.24 560.1 106.02 560.6 103.92 561.1 104.15 561.6 105.45 562.1 105.1 562.6 105.53 563.1 105.83 563.6 105.77 564.1 104.57 564.6 104.32 565.1 105.29 565.6 103.93 566.1 105.23 566.6 102.18 567.1 104.96 567.6 105.85 568.1 103.96 568.6 99.12 569.1 106.04 569.6 103.95 570.1 103.89 570.6 105.53 571.1 105.21 571.6 104.14 572.1 104.79 572.6 105.23 573.1 105.26 573.6 104.28 574.1 103.83 574.6 103.95 575.1 104.38 575.6 104.55 576.1 104.3 576.6 104.62 577.1 104.04 577.6 100.44 578.1 104.6 578.6 104.52 579.1 101.94 579.6 105.87 580.1 105.69 580.6 104.11 581.1 104.04 581.6 105.15 582.1 104.01 582.6 105.75 583.1 104.69 583.6 106.15 584.1 104.68 584.6 105.1 585.1 103.95 585.6 99.61 586.1 104.24 586.6 106.06 587.1 104.04 587.6 105.33 588.1 105.31 588.6 100.12 589.1 104.86 589.6 106.04 590.1 104.36 590.6 105.99 591.1 99.16 591.6 105.21 592.1 105.28 592.6 105.62 593.1 104.24 593.6 104.62 594.1 106.01 594.6 104.27 595.1 104.51 595.6 105.18 596.1 106.17 596.6 104.59 597.1 104.21 597.6 104.1 598.1 106.17 598.6 99.99 599.1 101.8 599.6 103.97 600.1 104.83 600.6 105.2 601.1 105.56 601.6 105.32 602.1 104.81 602.6 104.2 603.1 104.79 603.6 104.91 604.1 104.56 604.6 104.15 605.1 105.92 605.6 104.26 606.1 104.71 606.6 104.91 607.1 104.2 607.6 100.54 608.1 104.19 608.6 105.8 609.1 100.22 609.6 103.86 610.1 105.04 610.6 105.08 611.1 104.9 611.6 106 612.1 105.6 612.6 105.78 613.1 105.67 613.6 105.77 614.1 105.74 614.6 105.93 615.1 101.13 615.6 104.24 616.1 105.03 616.6 105.49 617.1 105.02 617.6 105.02 618.1 104.57 618.6 104.21 619.1 105.97 619.6 104.68 620.1 103.86 620.6 104.66 621.1 106.2 621.6 103.85 622.1 106.17 622.6 104.25 623.1 103.88 623.6 102.73 624.1 104.42 624.6 106.14 625.1 104.42 625.6 104.65 626.1 106.16 626.6 104.42 627.1 105.77 627.6 103.96 628.1 104.75 628.6 104.09 629.1 105.74 629.6 104.18 630.1 104.69 630.6 104.28 631.1 105.96 631.6 104.47 632.1 105.12 632.6 101.68 633.1 104.43 633.6 105.17 634.1 105.52 634.6 106.16 635.1 99.67 635.6 104.63 636.1 104.64 636.6 105.14 637.1 104.56 637.6 104.78 638.1 105.34 638.6 105.57 639.1 105.54 639.6 100.88 640.1 104.14 640.6 105.42 641.1 104.32 641.6 105.84 642.1 105.95 642.6 104.46 643.1 103.92 643.6 105.32 644.1 105.56 644.6 105.54 645.1 105.4 645.6 102.19 646.1 102.68 646.6 106.14 647.1 105.78 647.6 104.88 648.1 106.16 648.6 105.96 649.1 104.87 649.6 105.84 650.1 104.44 650.6 104.15 651.1 105 651.6 105.74 652.1 105.48 652.6 104.54 653.1 104.98 653.6 101.22 654.1 105.55 654.6 106.08 655.1 104.16 655.6 105.57 656.1 105.4 656.6 104.48 657.1 106.1 657.6 104.99 658.1 105.33 658.6 106.18 659.1 102.01 659.6 105.4 660.1 105.2 660.6 105.81 661.1 105.42 661.6 104.15 662.1 103.93 662.6 105.96 663.1 105.61 663.6 104.1 664.1 105.89 664.6 105.39 665.1 105.26 665.6 105.61 666.1 106.03 666.6 104.53 667.1 103.93 667.6 105.43 668.1 104.55 668.6 105.53 669.1 105.44 669.6 105.42 670.1 102.92 670.6 104.18 671.1 104.23 671.6 105.05 672.1 104.2 672.6 105.01 673.1 104.44 673.6 106.17 674.1 105.81 674.6 105.69 675.1 105.88 675.6 104.39 676.1 105.07 676.6 105.28 677.1 103.92 677.6 104.4 678.1 105.78 678.6 104.42 679.1 105.97 679.6 104.93 680.1 99.54 680.6 104.1 681.1 105.85 681.6 104.78 682.1 104.33 682.6 104.21 683.1 104.2 683.6 105.66 684.1 104.68 684.6 103.37 685.1 104.63 685.6 106.02 686.1 105.04 686.6 104.91 687.1 106.07 687.6 105.75 688.1 106.15 688.6 105.64 689.1 99.1 689.6 104.91 690.1 105.7 690.6 104.35 691.1 104.87 691.6 104.11 692.1 101.6 692.6 99.94 693.1 104.22 693.6 105.24 694.1 104.15 694.6 104.99 695.1 105.46 695.6 105.55 696.1 104.84 696.6 104.21 697.1 106.14 697.6 105.1 698.1 101.95 698.6 103.89 699.1 105.62 699.6 101.72 700.1 105.53 700.6 104.9 701.1 102.52 701.6 105.77 702.1 103.07 702.6 105.22 703.1 105.34 703.6 101.3 704.1 104.61 704.6 104.22 705.1 100.95 705.6 105.28 706.1 104.62 706.6 105.82 L706.6 110.95 706.1 108.01 705.6 109.76 705.1 108.42 704.6 109.8 704.1 110.53 703.6 108.1 703.1 108.38 702.6 110.64 702.1 109.15 701.6 109.35 701.1 108.67 700.6 109.64 700.1 109.35 699.6 108.11 699.1 110.16 698.6 109.78 698.1 109.12 697.6 109.78 697.1 107.88 696.6 109.8 696.1 107.98 695.6 109.11 695.1 109.78 694.6 109.11 694.1 109.59 693.6 109.15 693.1 108.17 692.6 109.63 692.1 110.76 691.6 108.3 691.1 108.84 690.6 109.55 690.1 109.64 689.6 107.88 689.1 109.99 688.6 110.73 688.1 108.78 687.6 109.1 687.1 108.97 686.6 109.59 686.1 109.54 685.6 108.44 685.1 109.47 684.6 109.36 684.1 111.39 683.6 109.22 683.1 108.75 682.6 109.82 682.1 109.88 681.6 107.92 681.1 109.07 680.6 108.06 680.1 110.11 679.6 109.29 679.1 109.43 678.6 109.83 678.1 108.02 677.6 108.37 677.1 109.32 676.6 109.18 676.1 108.11 675.6 108.81 675.1 108.13 674.6 108.61 674.1 110.01 673.6 108.04 673.1 109.65 672.6 108.65 672.1 110.11 671.6 109.03 671.1 109.7 670.6 109.44 670.1 109.85 669.6 108.02 669.1 108.99 668.6 110.02 668.1 110.08 667.6 109.32 667.1 109.61 666.6 108.42 666.1 109.99 665.6 109.73 665.1 108.91 664.6 108.65 664.1 109.64 663.6 108.04 663.1 108.72 662.6 108.6 662.1 107.99 661.6 108.93 661.1 108.76 660.6 109.83 660.1 110.01 659.6 108.43 659.1 109.17 658.6 107.93 658.1 110.03 657.6 109.73 657.1 109.43 656.6 111.25 656.1 109.81 655.6 108.81 655.1 108.77 654.6 110.05 654.1 109.77 653.6 109.23 653.1 108.93 652.6 109.44 652.1 110.09 651.6 109.37 651.1 108.79 650.6 107.94 650.1 109.61 649.6 109.23 649.1 108.18 648.6 108.78 648.1 109.68 647.6 107.93 647.1 109.64 646.6 108.25 646.1 109.52 645.6 108.17 645.1 107.87 644.6 108.04 644.1 110.32 643.6 110.08 643.1 109.92 642.6 109.75 642.1 109.2 641.6 108.63 641.1 109.38 640.6 108.96 640.1 110.72 639.6 109.1 639.1 108.54 638.6 109.45 638.1 108.29 637.6 109.53 637.1 108.88 636.6 108.07 636.1 109.21 635.6 108.98 635.1 110.18 634.6 110.19 634.1 107.96 633.6 109.88 633.1 108.33 632.6 108.79 632.1 111.98 631.6 110.55 631.1 109.61 630.6 109.54 630.1 109.11 629.6 108.56 629.1 109.43 628.6 109.6 628.1 109.45 627.6 108.6 627.1 108.78 626.6 110.14 626.1 109.56 625.6 108.53 625.1 108.16 624.6 108.73 624.1 107.98 623.6 108.53 623.1 108.31 622.6 108.87 622.1 108.03 621.6 109.4 621.1 109.35 620.6 109.98 620.1 109.38 619.6 111.1 619.1 107.8 618.6 109.26 618.1 108.78 617.6 108.66 617.1 110.09 616.6 108.65 616.1 107.86 615.6 108.05 615.1 109.8 614.6 109.17 614.1 108.8 613.6 109.64 613.1 108.34 612.6 109.54 612.1 107.96 611.6 107.9 611.1 108.69 610.6 107.96 610.1 108.2 609.6 108.61 609.1 108.08 608.6 108.52 608.1 107.84 607.6 109.07 607.1 109.18 606.6 109.82 606.1 108.72 605.6 108.79 605.1 109.73 604.6 108.85 604.1 109.99 603.6 108.68 603.1 109.25 602.6 109.12 602.1 109.18 601.6 108.5 601.1 107.91 600.6 108.28 600.1 107.81 599.6 109.28 599.1 110.12 598.6 109.41 598.1 110.7 597.6 109.99 597.1 108.67 596.6 108.81 596.1 109.5 595.6 109.76 595.1 109.77 594.6 108.68 594.1 109.93 593.6 110.84 593.1 107.88 592.6 109.49 592.1 108.72 591.6 108.18 591.1 109.04 590.6 108.22 590.1 108.71 589.6 109.4 589.1 111.27 588.6 107.9 588.1 109.23 587.6 107.98 587.1 109.41 586.6 109.28 586.1 109.48 585.6 110.03 585.1 109.74 584.6 109.69 584.1 108.54 583.6 109.63 583.1 110 582.6 108.89 582.1 108.29 581.6 107.97 581.1 107.98 580.6 108.79 580.1 109.01 579.6 109.45 579.1 110.48 578.6 108.7 578.1 110.05 577.6 109.62 577.1 109.59 576.6 109.53 576.1 107.95 575.6 109.81 575.1 109.91 574.6 109.65 574.1 111.86 573.6 108.96 573.1 108.56 572.6 108.98 572.1 108.06 571.6 109.72 571.1 108.93 570.6 110.24 570.1 108.08 569.6 109.37 569.1 111.28 568.6 109.72 568.1 109.35 567.6 109.75 567.1 109.44 566.6 109.15 566.1 108.36 565.6 109.5 565.1 110.14 564.6 110.15 564.1 108.65 563.6 109.45 563.1 109.13 562.6 111.69 562.1 110.17 561.6 111.41 561.1 109.68 560.6 109.34 560.1 107.83 559.6 107.99 559.1 109.35 558.6 110.27 558.1 109.98 557.6 109.08 557.1 109.54 556.6 108.3 556.1 108.72 555.6 108.04 555.1 109.68 554.6 108.27 554.1 108.74 553.6 109.09 553.1 109.26 552.6 108.23 552.1 108.44 551.6 108.63 551.1 108.77 550.6 108.21 550.1 108.11 549.6 108.5 549.1 107.91 548.6 108.08 548.1 108.48 547.6 109.6 547.1 107.99 546.6 109.09 546.1 108.91 545.6 109.65 545.1 109.68 544.6 109.25 544.1 109.53 543.6 108.31 543.1 110.06 542.6 108.12 542.1 108.96 541.6 109.21 541.1 109.68 540.6 108.81 540.1 108.26 539.6 110.14 539.1 109.52 538.6 109.96 538.1 108.34 537.6 108.31 537.1 108.97 536.6 109.74 536.1 110.7 535.6 107.8 535.1 109.61 534.6 108.54 534.1 109.04 533.6 109.97 533.1 108.55 532.6 108.06 532.1 109.07 531.6 108.09 531.1 108.62 530.6 108.53 530.1 109.84 529.6 109.43 529.1 109.46 528.6 108.2 528.1 108.29 527.6 110.22 527.1 109.65 526.6 108.34 526.1 110.06 525.6 109.26 525.1 109.73 524.6 110.4 524.1 109.71 523.6 108.56 523.1 109.67 522.6 108.64 522.1 109.49 521.6 108.57 521.1 109.37 520.6 109.31 520.1 108.24 519.6 109.08 519.1 110.87 518.6 109.95 518.1 109.48 517.6 112.09 517.1 109.31 516.6 108.43 516.1 110.1 515.6 108.89 515.1 109.89 514.6 108.1 514.1 108.69 513.6 108.6 513.1 109.57 512.6 109.38 512.1 109.23 511.6 108.99 511.1 109.92 510.6 109.98 510.1 110.03 509.6 109.98 509.1 110.17 508.6 108.83 508.1 108.62 507.6 108.4 507.1 109.77 506.6 109.58 506.1 108.04 505.6 109.86 505.1 109.23 504.6 108.1 504.1 110.09 503.6 109 503.1 108.84 502.6 108.89 502.1 109.45 501.6 109.62 501.1 108.18 500.6 108.51 500.1 109.75 499.6 110.87 499.1 109.52 498.6 108.29 498.1 109.24 497.6 107.92 497.1 109.91 496.6 107.9 496.1 110.02 495.6 108.94 495.1 109.58 494.6 110.42 494.1 108.45 493.6 109.77 493.1 109.29 492.6 108.36 492.1 109.09 491.6 107.95 491.1 109.27 490.6 107.99 490.1 109.78 489.6 108.87 489.1 108.51 488.6 108.98 488.1 111.05 487.6 108.9 487.1 109.58 486.6 109.72 486.1 109.84 485.6 109.31 485.1 109.12 484.6 109.99 484.1 109.79 483.6 109.19 483.1 110.83 482.6 109.92 482.1 110.55 481.6 109.74 481.1 108.64 480.6 109.1 480.1 109.6 479.6 110.16 479.1 109.67 478.6 108.68 478.1 110.09 477.6 108.16 477.1 108.79 476.6 109.24 476.1 110.3 475.6 108.94 475.1 108.89 474.6 108.04 474.1 108.53 473.6 109.59 473.1 109.92 472.6 110.03 472.1 108.61 471.6 108.31 471.1 108.44 470.6 109.4 470.1 108.06 469.6 109.24 469.1 108.86 468.6 108.02 468.1 109.41 467.6 107.93 467.1 109.93 466.6 109.98 466.1 110.21 465.6 108.76 465.1 111.74 464.6 109.31 464.1 110.43 463.6 108.76 463.1 109.55 462.6 109.6 462.1 108.87 461.6 109.13 461.1 108.56 460.6 110.01 460.1 108.98 459.6 108.27 459.1 109.93 458.6 109.6 458.1 109.16 457.6 110.09 457.1 108.46 456.6 108.51 456.1 109.21 455.6 107.8 455.1 108.3 454.6 108.4 454.1 109.95 453.6 109.41 453.1 110.03 452.6 108.56 452.1 108.95 451.6 108.37 451.1 109.23 450.6 108.77 450.1 109.85 449.6 109.84 449.1 108.72 448.6 109.91 448.1 108.14 447.6 108.73 447.1 108.53 446.6 111.14 446.1 109.14 445.6 109.02 445.1 109.79 444.6 107.98 444.1 108.99 443.6 109.32 443.1 108.18 442.6 109.97 442.1 108.1 441.6 108.5 441.1 108.25 440.6 109.33 440.1 109.16 439.6 109.13 439.1 108.69 438.6 108.09 438.1 108.08 437.6 109.12 437.1 108.55 436.6 107.88 436.1 108.65 435.6 108.93 435.1 108.57 434.6 110.13 434.1 108.95 433.6 109.64 433.1 110.05 432.6 109.97 432.1 109.7 431.6 108.49 431.1 111.03 430.6 110.65 430.1 110.95 429.6 108.17 429.1 108.05 428.6 107.85 428.1 108.88 427.6 110.15 427.1 108.97 426.6 108.43 426.1 109.35 425.6 109.64 425.1 108.79 424.6 108.82 424.1 109.86 423.6 110.11 423.1 108.16 422.6 108.37 422.1 108.73 421.6 108.39 421.1 107.18 420.6 106.01 420.1 104.36 419.6 104.96Z" fill="#000000"/>
<path d="M419.6 101.37 420.1 103.04 420.6 104.78 421.1 104.3 421.6 102.04 422.1 107.08 422.6 104.87 423.1 105.75 423.6 104.72 424.1 106.7 424.6 105.63 425.1 107.51 425.6 108.4 426.1 105.99 426.6 107.73 427.1 103.38 427.6 103.26 428.1 106.99 428.6 106.56 429.1 108.44 429.6 104.39 430.1 103.18 430.6 104.8 431.1 106.12 431.6 105.68 432.1 104.09 432.6 105.36 433.1 106.93 433.6 102.67 434.1 106.73 434.6 104.92 435.1 107.93 435.6 107.43 436.1 107.18 436.6 102.27 437.1 105.6 437.6 102.32 438.1 104.37 438.6 103.12 439.1 105.29 439.6 102.36 440.1 104.1 440.6 107.08 441.1 107.23 441.6 107.1 442.1 104.69 442.6 104.37 443.1 102.21 443.6 102.36 444.1 105.91 444.6 108.54 445.1 105.44 445.6 105.12 446.1 107.83 446.6 104.5 447.1 103.48 447.6 108.44 448.1 99.77 448.6 105.59 449.1 103.15 449.6 103.64 450.1 108.37 450.6 106.55 451.1 105.7 451.6 102.68 452.1 108.28 452.6 103.27 453.1 102.63 453.6 105.69 454.1 102.52 454.6 107.78 455.1 104.72 455.6 103.94 456.1 103.67 456.6 103.37 457.1 103.27 457.6 106.07 458.1 101.2 458.6 105.69 459.1 106.72 459.6 107 460.1 105.64 460.6 103.66 461.1 104.32 461.6 103.67 462.1 104.81 462.6 108.71 463.1 105.71 463.6 103.94 464.1 103.81 464.6 104.99 465.1 105.04 465.6 104.32 466.1 105.71 466.6 107.03 467.1 106.75 467.6 106.93 468.1 105.54 468.6 107.65 469.1 102.51 469.6 105.92 470.1 107.66 470.6 106.98 471.1 108.52 471.6 102.91 472.1 106.47 472.6 107.36 473.1 104.7 473.6 103.67 474.1 104.99 474.6 107.6 475.1 103.48 475.6 107.34 476.1 107.08 476.6 105.72 477.1 105.49 477.6 108.44 478.1 102.85 478.6 102.38 479.1 105.52 479.6 102.52 480.1 103.7 480.6 102.85 481.1 108.45 481.6 105.42 482.1 103.72 482.6 104.18 483.1 103.21 483.6 104.48 484.1 103.19 484.6 107.73 485.1 105.79 485.6 102.68 486.1 107.8 486.6 105.05 487.1 102.17 487.6 107.16 488.1 106.5 488.6 105.4 489.1 104.8 489.6 106.97 490.1 108.66 490.6 105.39 491.1 108.12 491.6 105.72 492.1 103.59 492.6 106.86 493.1 107.36 493.6 102.81 494.1 103.42 494.6 102.74 495.1 102.19 495.6 104.26 496.1 105.33 496.6 105.94 497.1 105.36 497.6 107.65 498.1 103.16 498.6 108.54 499.1 105.45 499.6 102.29 500.1 102.33 500.6 102.69 501.1 106.18 501.6 105.84 502.1 103.7 502.6 106.6 503.1 104.28 503.6 107.39 504.1 107 504.6 103.56 505.1 102.42 505.6 106.18 506.1 102.52 506.6 105.87 507.1 106.56 507.6 102.97 508.1 107.26 508.6 104.71 509.1 106.29 509.6 105.52 510.1 106.88 510.6 105.35 511.1 105.55 511.6 105.19 512.1 103.03 512.6 106.3 513.1 102.1 513.6 104.83 514.1 107.32 514.6 107.87 515.1 107.78 515.6 107.07 516.1 108.65 516.6 108.79 517.1 104.73 517.6 106.61 518.1 103.02 518.6 106.3 519.1 104.22 519.6 108 520.1 102.87 520.6 103.06 521.1 106.41 521.6 105.81 522.1 106.24 522.6 106.06 523.1 102.25 523.6 106.09 524.1 104.98 524.6 103.3 525.1 107.67 525.6 107.03 526.1 106.48 526.6 104.81 527.1 103.04 527.6 101.93 528.1 107.98 528.6 105.2 529.1 105.3 529.6 103.98 530.1 104.83 530.6 106.28 531.1 105 531.6 107.63 532.1 103.27 532.6 102.78 533.1 106.34 533.6 103.31 534.1 103.1 534.6 107.07 535.1 102.13 535.6 105.54 536.1 104.17 536.6 108.46 537.1 105.6 537.6 105.51 538.1 106.42 538.6 107.5 539.1 103.96 539.6 102.1 540.1 106.03 540.6 105.04 541.1 103.4 541.6 106.94 542.1 107.05 542.6 108.76 543.1 108.53 543.6 103.57 544.1 104.61 544.6 107.13 545.1 102.06 545.6 107.67 546.1 106.5 546.6 104.08 547.1 108.06 547.6 105.18 548.1 103.59 548.6 107.59 549.1 108.32 549.6 102.95 550.1 108.53 550.6 103.1 551.1 106.72 551.6 105.36 552.1 108.01 552.6 108.85 553.1 102.64 553.6 105.11 554.1 107.97 554.6 104.76 555.1 103.13 555.6 105.31 556.1 102.23 556.6 103.17 557.1 107.89 557.6 107.76 558.1 107.56 558.6 102.34 559.1 106.49 559.6 105.1 560.1 106.59 560.6 104.31 561.1 103.99 561.6 108.41 562.1 106.75 562.6 106.35 563.1 105.5 563.6 104 564.1 105 564.6 108.16 565.1 107.88 565.6 102.62 566.1 107.43 566.6 106.61 567.1 106.51 567.6 104.17 568.1 108.51 568.6 105.88 569.1 107.84 569.6 102.51 570.1 105.46 570.6 103.61 571.1 104.81 571.6 104.25 572.1 105.83 572.6 102.85 573.1 105.05 573.6 104.19 574.1 106.72 574.6 103.66 575.1 104.33 575.6 103.74 576.1 108.51 576.6 102.6 577.1 103.24 577.6 105.79 578.1 104.55 578.6 107.19 579.1 102.48 579.6 102.91 580.1 106.16 580.6 103.08 581.1 103.62 581.6 104.48 582.1 106.3 582.6 103.08 583.1 102.38 583.6 104.67 584.1 106.66 584.6 107.6 585.1 105.91 585.6 104.19 586.1 108.43 586.6 104.12 587.1 107.32 587.6 107.28 588.1 106.57 588.6 105.65 589.1 103.39 589.6 105.91 590.1 101.98 590.6 108.61 591.1 105.61 591.6 105.29 592.1 108.6 592.6 105.94 593.1 104 593.6 108.5 594.1 108.35 594.6 103.11 595.1 104.95 595.6 104.64 596.1 105.85 596.6 106.51 597.1 104.77 597.6 106.59 598.1 106.3 598.6 104.36 599.1 102.11 599.6 103.78 600.1 104.58 600.6 106.96 601.1 104.47 601.6 103.71 602.1 102.21 602.6 104.54 603.1 104.53 603.6 105.63 604.1 108.12 604.6 106.56 605.1 103.65 605.6 102.14 606.1 106.31 606.6 107.77 607.1 103.2 607.6 104.86 608.1 103.38 608.6 102.76 609.1 106.81 609.6 104.77 610.1 104.82 610.6 107.87 611.1 100.44 611.6 103.53 612.1 102.3 612.6 102.06 613.1 105.67 613.6 104.2 614.1 104.46 614.6 103.27 615.1 102.83 615.6 107.11 616.1 102.28 616.6 105.81 617.1 102.29 617.6 108.52 618.1 108.23 618.6 102.31 619.1 108.59 619.6 105.84 620.1 107.15 620.6 107.88 621.1 105.12 621.6 105.16 622.1 104.28 622.6 106.26 623.1 102.14 623.6 106.76 624.1 107.1 624.6 106.81 625.1 106.3 625.6 104.2 626.1 106.75 626.6 104.65 627.1 106.47 627.6 103.7 628.1 102.86 628.6 106.53 629.1 103.13 629.6 106.92 630.1 107.73 630.6 105.83 631.1 103.75 631.6 101.89 632.1 102.97 632.6 107.2 633.1 108.7 633.6 102.75 634.1 102.42 634.6 104.99 635.1 108.81 635.6 103.38 636.1 103.37 636.6 104.76 637.1 104.29 637.6 103.8 638.1 105.99 638.6 102.68 639.1 102.55 639.6 105.41 640.1 108.65 640.6 103.31 641.1 103.54 641.6 103.52 642.1 102.51 642.6 102.61 643.1 104.18 643.6 103.94 644.1 106.09 644.6 103.07 645.1 108.38 645.6 105.96 646.1 107.63 646.6 102.81 647.1 107.72 647.6 104.81 648.1 104.27 648.6 108.17 649.1 104.08 649.6 104 650.1 104.76 650.6 106.11 651.1 103.64 651.6 105.49 652.1 104.25 652.6 102.82 653.1 102.11 653.6 107.78 654.1 106.77 654.6 103.94 655.1 107.35 655.6 104.81 656.1 104.41 656.6 103.95 657.1 104.26 657.6 104.44 658.1 102.75 658.6 107.78 659.1 104.93 659.6 103.28 660.1 104.85 660.6 102.85 661.1 107.26 661.6 103.06 662.1 105.47 662.6 107.37 663.1 107.72 663.6 102.99 664.1 104.51 664.6 106.92 665.1 104.32 665.6 106.62 666.1 103.78 666.6 104.22 667.1 102.44 667.6 106.5 668.1 104 668.6 102.53 669.1 103.78 669.6 103.19 670.1 104.58 670.6 108.73 671.1 107.17 671.6 107.9 672.1 107.63 672.6 108.38 673.1 103.12 673.6 105.47 674.1 105.15 674.6 108.63 675.1 106.28 675.6 102.87 676.1 104.39 676.6 103.25 677.1 107.39 677.6 107.66 678.1 104.74 678.6 101.91 679.1 108.52 679.6 108.21 680.1 108.56 680.6 107.25 681.1 108.99 681.6 103.86 682.1 102.81 682.6 107.87 683.1 107.74 683.6 103.81 684.1 105.17 684.6 102.57 685.1 102.96 685.6 106.57 686.1 108.16 686.6 103.15 687.1 106.59 687.6 106.25 688.1 105.71 688.6 105.5 689.1 106.79 689.6 102.09 690.1 108.82 690.6 106.28 691.1 105.33 691.6 103.92 692.1 103.86 692.6 106.33 693.1 103.29 693.6 106.94 694.1 102.52 694.6 104.68 695.1 102.3 695.6 101.92 696.1 106.9 696.6 105.9 697.1 104.69 697.6 103.63 698.1 106.62 698.6 100.6 699.1 108.02 699.6 105.54 700.1 106.8 700.6 104.1 701.1 105.69 701.6 105.97 702.1 106.37 702.6 107.59 703.1 105 703.6 105.01 704.1 104.98 704.6 102.19 705.1 102.63 705.6 108.57 706.1 106.8 706.6 104.59 L706.6 112.33 706.1 113.54 705.6 111.41 705.1 112.8 704.6 119.33 704.1 115.42 703.6 112.99 703.1 114.57 702.6 111.46 702.1 117.86 701.6 118.06 701.1 112.06 700.6 117.2 700.1 117.42 699.6 112.63 699.1 115.99 698.6 111.63 698.1 113.03 697.6 114.99 697.1 116.44 696.6 117.48 696.1 112.07 695.6 113.88 695.1 112.05 694.6 114.85 694.1 111.41 693.6 115.35 693.1 117.63 692.6 115.41 692.1 111.65 691.6 114.88 691.1 115.68 690.6 113.4 690.1 114.91 689.6 113.27 689.1 114.97 688.6 115.73 688.1 117.22 687.6 113.68 687.1 113.45 686.6 117.23 686.1 113.73 685.6 115.83 685.1 117.8 684.6 114.01 684.1 111.43 683.6 115.72 683.1 117.27 682.6 116.82 682.1 115.86 681.6 116.91 681.1 117.94 680.6 117 680.1 117.47 679.6 114.53 679.1 116.61 678.6 115.42 678.1 117.82 677.6 115.24 677.1 112.8 676.6 111.59 676.1 112.92 675.6 116.83 675.1 112.9 674.6 117.03 674.1 111.35 673.6 112.12 673.1 111.12 672.6 112.27 672.1 117.65 671.6 116.84 671.1 116.59 670.6 113.6 670.1 111.2 669.6 113.36 669.1 115.71 668.6 117.75 668.1 112.68 667.6 112.72 667.1 112.37 666.6 117.36 666.1 113.25 665.6 114.97 665.1 114.18 664.6 112.97 664.1 110.98 663.6 112.23 663.1 117.86 662.6 114.69 662.1 113.38 661.6 112.73 661.1 111.86 660.6 113.11 660.1 114.78 659.6 114.65 659.1 114.66 658.6 114.72 658.1 113.51 657.6 113.73 657.1 116.66 656.6 116.44 656.1 117.01 655.6 116.15 655.1 113.62 654.6 111.98 654.1 117.38 653.6 112.1 653.1 115.71 652.6 113.01 652.1 114.52 651.6 117.93 651.1 115.17 650.6 114.59 650.1 117.74 649.6 110.97 649.1 117.11 648.6 114.44 648.1 117.42 647.6 117.64 647.1 111.37 646.6 117.1 646.1 111.3 645.6 111.44 645.1 111.83 644.6 114.62 644.1 111.91 643.6 112.49 643.1 112.12 642.6 111.12 642.1 113.7 641.6 111.97 641.1 113.72 640.6 116.27 640.1 117.72 639.6 113 639.1 114.79 638.6 115.33 638.1 115.86 637.6 112.29 637.1 117.36 636.6 112.47 636.1 113.04 635.6 116.42 635.1 117.75 634.6 115.45 634.1 113.34 633.6 116.64 633.1 112.88 632.6 110.84 632.1 113.76 631.6 114.54 631.1 114.93 630.6 117.53 630.1 117.6 629.6 116.79 629.1 114.18 628.6 112.64 628.1 115.3 627.6 116.52 627.1 111.78 626.6 113.85 626.1 115.39 625.6 119.2 625.1 112.11 624.6 111.53 624.1 111.78 623.6 110.78 623.1 114.93 622.6 116.5 622.1 113.51 621.6 118.35 621.1 113.07 620.6 112.25 620.1 114.49 619.6 116.55 619.1 113.23 618.6 113.4 618.1 116.31 617.6 116.16 617.1 117.76 616.6 117.34 616.1 112.76 615.6 112.76 615.1 115.36 614.6 112.66 614.1 112.73 613.6 116.84 613.1 112.18 612.6 113.39 612.1 112.98 611.6 113.32 611.1 117.04 610.6 116.44 610.1 113.11 609.6 116.98 609.1 113.85 608.6 113.54 608.1 116.62 607.6 116.05 607.1 112.7 606.6 116.78 606.1 115.58 605.6 114.28 605.1 114.24 604.6 117.79 604.1 111.89 603.6 116.19 603.1 114.89 602.6 117.68 602.1 117.42 601.6 115 601.1 117.62 600.6 116.24 600.1 115.88 599.6 116.17 599.1 111.47 598.6 112.1 598.1 115.12 597.6 118.2 597.1 116.09 596.6 110.93 596.1 117.34 595.6 112.49 595.1 116.19 594.6 113.52 594.1 112.84 593.6 116.62 593.1 111.36 592.6 113.11 592.1 116.72 591.6 113.78 591.1 115.75 590.6 112.74 590.1 115.99 589.6 111.21 589.1 111.3 588.6 115.32 588.1 117.03 587.6 116.04 587.1 116.77 586.6 115.8 586.1 117.35 585.6 111.85 585.1 114.14 584.6 112.04 584.1 116.48 583.6 110.76 583.1 114.87 582.6 113.3 582.1 115.54 581.6 113.18 581.1 117.72 580.6 115.72 580.1 115.72 579.6 111.56 579.1 116.59 578.6 115.1 578.1 114.62 577.6 114.63 577.1 119.05 576.6 114.99 576.1 117.41 575.6 114.25 575.1 116.44 574.6 113.92 574.1 117.23 573.6 117.38 573.1 111.4 572.6 112.6 572.1 113.73 571.6 114.98 571.1 115.2 570.6 115.18 570.1 110.85 569.6 113.26 569.1 112.61 568.6 111.41 568.1 111.77 567.6 113.2 567.1 111.61 566.6 115.39 566.1 113.04 565.6 116.68 565.1 117.98 564.6 111.26 564.1 113.56 563.6 112.25 563.1 112.2 562.6 116.14 562.1 111.21 561.6 112.82 561.1 117.2 560.6 116.72 560.1 112.98 559.6 111.49 559.1 115.16 558.6 116.7 558.1 114.31 557.6 113.59 557.1 115.08 556.6 112.73 556.1 112.72 555.6 117.61 555.1 116.91 554.6 110.86 554.1 115.17 553.6 114.86 553.1 113.09 552.6 111.44 552.1 117.43 551.6 113.47 551.1 117.36 550.6 115.65 550.1 110.87 549.6 111.68 549.1 111.51 548.6 110.83 548.1 113.75 547.6 115.65 547.1 114.09 546.6 116.72 546.1 111.77 545.6 112.54 545.1 115.52 544.6 114.77 544.1 115.17 543.6 112.68 543.1 116.17 542.6 111.68 542.1 112.87 541.6 112.56 541.1 113.73 540.6 110.74 540.1 110.92 539.6 114.2 539.1 114.34 538.6 116.01 538.1 114.09 537.6 114.31 537.1 113.69 536.6 117.49 536.1 114.73 535.6 111.24 535.1 110.73 534.6 115.11 534.1 112.41 533.6 112.11 533.1 110.99 532.6 114.07 532.1 113.71 531.6 115.89 531.1 114.68 530.6 111.3 530.1 116.77 529.6 114.89 529.1 117.42 528.6 114.33 528.1 113.94 527.6 116.7 527.1 110.82 526.6 111.16 526.1 111.18 525.6 115.97 525.1 115.17 524.6 111.03 524.1 116.52 523.6 110.72 523.1 111.11 522.6 113.58 522.1 110.94 521.6 114.54 521.1 115.13 520.6 113.1 520.1 113.99 519.6 112.65 519.1 112.25 518.6 116.26 518.1 117.42 517.6 114.57 517.1 113.61 516.6 110.68 516.1 117.63 515.6 115.67 515.1 113.91 514.6 117.09 514.1 113.9 513.6 116.75 513.1 113.51 512.6 111.89 512.1 111.26 511.6 114.78 511.1 116.28 510.6 115.57 510.1 116.58 509.6 114.25 509.1 112.33 508.6 114.07 508.1 114.69 507.6 116.51 507.1 116.64 506.6 114.05 506.1 112.43 505.6 116.9 505.1 116.09 504.6 117.36 504.1 113.47 503.6 113.86 503.1 111.41 502.6 116.02 502.1 110.75 501.6 115.35 501.1 114.33 500.6 114.65 500.1 112.14 499.6 114.07 499.1 112.01 498.6 112.9 498.1 116 497.6 114.41 497.1 115.75 496.6 110.79 496.1 115.05 495.6 116.94 495.1 114.81 494.6 114.99 494.1 114.5 493.6 114.92 493.1 113.58 492.6 116.28 492.1 116.62 491.6 116.29 491.1 112.01 490.6 112.53 490.1 111.62 489.6 111.08 489.1 116.08 488.6 112.82 488.1 111.6 487.6 114.94 487.1 114.07 486.6 115.52 486.1 111.45 485.6 115.84 485.1 114.69 484.6 116.29 484.1 113.84 483.6 116.35 483.1 111.28 482.6 111.12 482.1 110.81 481.6 115.65 481.1 116.74 480.6 110.97 480.1 110.58 479.6 113.99 479.1 111.37 478.6 117.06 478.1 111.59 477.6 117.33 477.1 113.81 476.6 115.33 476.1 115.64 475.6 114.63 475.1 111.95 474.6 115.43 474.1 112.89 473.6 119.5 473.1 111.05 472.6 113.4 472.1 112.98 471.6 114.07 471.1 113.04 470.6 115.32 470.1 114.92 469.6 114.14 469.1 117.57 468.6 114.13 468.1 111.84 467.6 114.81 467.1 114.74 466.6 115.86 466.1 113.22 465.6 111.73 465.1 116.78 464.6 114.43 464.1 111.98 463.6 115.85 463.1 110.9 462.6 110.54 462.1 115.23 461.6 110.89 461.1 116.04 460.6 112.73 460.1 113.84 459.6 112.54 459.1 116.71 458.6 117.24 458.1 113.92 457.6 116.88 457.1 114.74 456.6 111.68 456.1 117.12 455.6 115.77 455.1 115.14 454.6 111.94 454.1 119.45 453.6 113.36 453.1 116.93 452.6 113.79 452.1 114.95 451.6 112.86 451.1 111.28 450.6 114.29 450.1 113.62 449.6 116.17 449.1 113.84 448.6 111.87 448.1 110.68 447.6 112.18 447.1 110.66 446.6 111.26 446.1 116.36 445.6 112.09 445.1 111.02 444.6 114.57 444.1 117.05 443.6 112.01 443.1 115.12 442.6 112.97 442.1 111.07 441.6 110.87 441.1 116.27 440.6 112.39 440.1 116.3 439.6 113.35 439.1 112.36 438.6 115.25 438.1 112.9 437.6 113.29 437.1 116.14 436.6 116.39 436.1 114.96 435.6 113.44 435.1 111.29 434.6 116.39 434.1 116.84 433.6 117.17 433.1 116.2 432.6 112.08 432.1 116.31 431.6 116.83 431.1 114.37 430.6 111.2 430.1 115.22 429.6 115.62 429.1 113.55 428.6 111.43 428.1 115.69 427.6 114.98 427.1 112.31 426.6 112.36 426.1 111.84 425.6 113.05 425.1 114.95 424.6 116.55 424.1 115.63 423.6 113.53 423.1 111.41 422.6 114.35 422.1 110.27 421.6 110.57 421.1 108.71 420.6 107.96 420.1 106.18 419.6 106.27Z" fill="#ff0000"/>
<path d="M426.21 102.98V108.45M427.96 102.98V108.34M436.9 103.33V106.85M437.09 104.18V107.77M438.3 103.3V108.25M439.46 101.26V106.04M439.54 102.92V106.55M442.88 101.12V106.31M444.2 100.66V108M447.01 100.99V105.58M455.49 102.72V106.29M462.18 101.1V107.06M467.18 102.16V106.66M467.63 103.14V106M475.35 102.46V108.26M482.26 101.94V107.7M482.67 102V106.22M483.6 102.06V105.71M497.51 101.65V106.43M503.21 103.82V108.06M513.31 103.56V106.99M513.76 100.79V107.57M520.33 102.51V107.92M525.42 102.43V105.64M527.14 102.58V105.87M528.71 104.06V105.65M531.11 102.24V105.91M538.13 102.74V105.65M542.62 104.42V107.46M546.65 103.84V106.64M547.23 101.88V106.73M553.91 100.6V107.58M563.69 102.66V107.35M563.73 101.73V105.66M564.53 103.16V108M564.89 102.11V106.72M569.16 101.54V106.18M579.99 103.48V107.12M582.6 104.44V107.33M586.13 101.21V106.29M586.92 103.2V106.57M588.77 103.32V107.47M589.12 103.63V107.31M592.8 102.49V107.02M592.99 101.56V106.09M604.66 103.84V107.54M606.53 102.8V107.87M608.29 100.87V107.3M618.46 103.86V107.22M621.05 104V105.88M635.97 104.3V106.37M643.56 103.3V108.39M647.27 102.73V106.36M649.25 104.42V106.28M649.94 103.37V107.27M651.37 102.56V107.84M656.29 104.2V108.36M656.65 103.62V107.97M665.89 100.62V106.62M672.37 102.75V106.93M672.72 104.24V108.25M675.68 102.43V108.26M678.01 101.92V107.88M678.35 101.03V108.47M680.46 102.31V108.42M682.63 101.52V106.34M685.97 101.62V106.38M686.94 100.85V107.86M695.19 102.54V107.04M703.98 101.56V106.94" stroke="#000" stroke-width="0.7" fill="none"/>
<path d="M419.6 103.46 420.1 103.57 420.6 102.6 421.1 105.21 421.6 106.39 422.1 107.76 422.6 111.55 423.1 108.34 423.6 111.06 424.1 110.27 424.6 111.56 425.1 110.67 425.6 111.33 426.1 105.87 426.6 110.51 427.1 108.23 427.6 108.45 428.1 106.97 428.6 107.14 429.1 109.96 429.6 107.54 430.1 109.79 430.6 106.8 431.1 109.74 431.6 109.7 432.1 107.53 432.6 109.13 433.1 107.89 433.6 109.38 434.1 109.67 434.6 109.82 435.1 108.27 435.6 109.62 436.1 107.23 436.6 111.62 437.1 110.11 437.6 110.46 438.1 110.35 438.6 110.91 439.1 108.85 439.6 107.76 440.1 106.58 440.6 109.14 441.1 107.23 441.6 108.87 442.1 106.74 442.6 110.53 443.1 108.31 443.6 108.04 444.1 110.67 444.6 108.53 445.1 108.91 445.6 109.94 446.1 106.6 446.6 108.07 447.1 111.71 447.6 110.06 448.1 107.12 448.6 111.47 449.1 111.37 449.6 109.91 450.1 106.52 450.6 108.65 451.1 108.48 451.6 107.38 452.1 109.65 452.6 107.97 453.1 110.01 453.6 107.75 454.1 111.29 454.6 107.9 455.1 106.52 455.6 110.96 456.1 107.63 456.6 106.68 457.1 111.5 457.6 108.17 458.1 110.19 458.6 107.03 459.1 110.77 459.6 110.94 460.1 107.93 460.6 107.75 461.1 107.18 461.6 109.59 462.1 108.66 462.6 111.22 463.1 108.43 463.6 109.17 464.1 108.53 464.6 107.89 465.1 106.78 465.6 109.65 466.1 108.03 466.6 111.33 467.1 109.97 467.6 109.85 468.1 111.11 468.6 107.48 469.1 111.24 469.6 110.84 470.1 107.47 470.6 107.65 471.1 106.72 471.6 108.87 472.1 107.1 472.6 110.84 473.1 107.97 473.6 107.7 474.1 111.39 474.6 108.15 475.1 107.02 475.6 107.54 476.1 109.38 476.6 108.1 477.1 109.81 477.6 107.65 478.1 110.1 478.6 108.17 479.1 107.71 479.6 108.34 480.1 106.47 480.6 110.79 481.1 110.58 481.6 107.1 482.1 111.33 482.6 110.92 483.1 105.44 483.6 109.17 484.1 109.33 484.6 109.23 485.1 105.01 485.6 110.03 486.1 108.83 486.6 110.45 487.1 109.48 487.6 111.51 488.1 108.12 488.6 110.31 489.1 108.23 489.6 111.53 490.1 108.17 490.6 106.75 491.1 109.15 491.6 110.33 492.1 108.73 492.6 110.57 493.1 110.55 493.6 107.74 494.1 108.71 494.6 111.88 495.1 109.33 495.6 111.28 496.1 108.69 496.6 105.44 497.1 111.3 497.6 109 498.1 106.61 498.6 110.34 499.1 109.44 499.6 111.01 500.1 111.76 500.6 110.29 501.1 107.26 501.6 107.08 502.1 111.2 502.6 110.57 503.1 111.01 503.6 109.54 504.1 109.79 504.6 106.99 505.1 108.91 505.6 109.67 506.1 108.16 506.6 107.05 507.1 111.42 507.6 107.46 508.1 109.42 508.6 110.29 509.1 109.32 509.6 111.48 510.1 107.94 510.6 111.52 511.1 111.35 511.6 109.64 512.1 108.95 512.6 111.36 513.1 109.35 513.6 111.92 514.1 107.52 514.6 105.04 515.1 107.66 515.6 111.28 516.1 109.09 516.6 109.28 517.1 110.37 517.6 107.87 518.1 109.15 518.6 110.05 519.1 106.93 519.6 109.14 520.1 109.97 520.6 108.24 521.1 107.88 521.6 107.16 522.1 111.95 522.6 111.13 523.1 109.82 523.6 110.77 524.1 106.97 524.6 112.25 525.1 108.68 525.6 109.27 526.1 107.22 526.6 108.61 527.1 107.52 527.6 107.85 528.1 109.15 528.6 110.16 529.1 107.61 529.6 111.61 530.1 112.02 530.6 107.64 531.1 107.74 531.6 111.18 532.1 108.75 532.6 108.42 533.1 108.39 533.6 107.98 534.1 111.86 534.6 110.58 535.1 108.15 535.6 112.38 536.1 108.78 536.6 111.11 537.1 110.97 537.6 109.37 538.1 110.65 538.6 108.55 539.1 110.97 539.6 108.14 540.1 107.74 540.6 109.1 541.1 110.86 541.6 110.92 542.1 108.58 542.6 107.26 543.1 110.06 543.6 111.13 544.1 107.31 544.6 106.97 545.1 109.58 545.6 108.17 546.1 109.2 546.6 108.1 547.1 110.92 547.6 111.34 548.1 112.29 548.6 107.32 549.1 107.9 549.6 111.89 550.1 110.91 550.6 110.89 551.1 107.28 551.6 112.56 552.1 107.9 552.6 107.5 553.1 107.8 553.6 108 554.1 110.71 554.6 108.33 555.1 108.87 555.6 108.15 556.1 108.74 556.6 111.61 557.1 109.24 557.6 107.31 558.1 112.64 558.6 112.43 559.1 109.29 559.6 110.78 560.1 107.8 560.6 110.38 561.1 107.6 561.6 108.59 562.1 112.39 562.6 108.04 563.1 110.17 563.6 110.55 564.1 108.55 564.6 112.52 565.1 110.08 565.6 107.79 566.1 111.5 566.6 108.84 567.1 108.33 567.6 109.31 568.1 110.4 568.6 110.08 569.1 109.78 569.6 107.45 570.1 107.97 570.6 109.67 571.1 112.68 571.6 108.37 572.1 108.74 572.6 109.91 573.1 109.13 573.6 112.2 574.1 111.54 574.6 111.2 575.1 108.24 575.6 109.48 576.1 111.75 576.6 110.52 577.1 108.29 577.6 112.09 578.1 112.46 578.6 111.63 579.1 110.74 579.6 108.43 580.1 109.45 580.6 109.94 581.1 110.63 581.6 110.47 582.1 108.36 582.6 110.79 583.1 111.93 583.6 108.74 584.1 108 584.6 109.71 585.1 109.72 585.6 112.59 586.1 109.06 586.6 111.79 587.1 110.81 587.6 108.36 588.1 112.52 588.6 110.74 589.1 112.29 589.6 111.9 590.1 110.29 590.6 112.22 591.1 109.45 591.6 109.43 592.1 110.91 592.6 109.73 593.1 108.85 593.6 112.05 594.1 112.08 594.6 108.19 595.1 111.53 595.6 111.24 596.1 112.1 596.6 108.55 597.1 108.24 597.6 110.16 598.1 112.57 598.6 112.67 599.1 107.94 599.6 112.61 600.1 111.26 600.6 111.34 601.1 109.09 601.6 111.18 602.1 112.86 602.6 110.95 603.1 112.73 603.6 111.53 604.1 107.12 604.6 109.75 605.1 109.26 605.6 109.48 606.1 111.46 606.6 110.51 607.1 112.72 607.6 108.96 608.1 108.61 608.6 108.4 609.1 109.26 609.6 111.75 610.1 108.83 610.6 111.36 611.1 111.02 611.6 111.3 612.1 109.07 612.6 112.04 613.1 112.45 613.6 110.8 614.1 110.03 614.6 111.23 615.1 108.53 615.6 111.53 616.1 109.23 616.6 111.42 617.1 109.69 617.6 110.02 618.1 112.99 618.6 109.87 619.1 112.25 619.6 108.61 620.1 111.75 620.6 108.49 621.1 110.78 621.6 112.81 622.1 109.53 622.6 109.6 623.1 112.01 623.6 110.4 624.1 111.49 624.6 111.93 625.1 111.99 625.6 113.27 626.1 113.22 626.6 108.56 627.1 108.43 627.6 112.12 628.1 109.25 628.6 111.91 629.1 108.79 629.6 108.71 630.1 110.51 630.6 110.52 631.1 111.16 631.6 108.9 632.1 108.83 632.6 113.49 633.1 108.56 633.6 112.45 634.1 111.27 634.6 109.24 635.1 111.82 635.6 110.08 636.1 110.83 636.6 108.67 637.1 113.58 637.6 113.24 638.1 110.98 638.6 110.85 639.1 110.4 639.6 111.38 640.1 111.67 640.6 112.35 641.1 109.11 641.6 113.18 642.1 108.75 642.6 113.31 643.1 109.51 643.6 110.95 644.1 112.82 644.6 110.26 645.1 108.94 645.6 112 646.1 112.26 646.6 110.57 647.1 111.91 647.6 112.88 648.1 108.44 648.6 111.88 649.1 111.74 649.6 110.85 650.1 109.51 650.6 110.26 651.1 110.63 651.6 112.79 652.1 112.4 652.6 108.91 653.1 110.09 653.6 113.11 654.1 108.71 654.6 110.42 655.1 110.29 655.6 111.09 656.1 108.77 656.6 109.67 657.1 109.3 657.6 108.87 658.1 113.81 658.6 112.97 659.1 110.34 659.6 112.02 660.1 108.22 660.6 113.28 661.1 111.97 661.6 110.92 662.1 110.13 662.6 110.94 663.1 112.58 663.6 112.74 664.1 108.92 664.6 113.77 665.1 111.4 665.6 113.43 666.1 108.96 666.6 113.21 667.1 111.79 667.6 107.52 668.1 108.69 668.6 109.95 669.1 112.68 669.6 112.17 670.1 110.44 670.6 110.32 671.1 112.52 671.6 110.83 672.1 109.2 672.6 112.11 673.1 111.43 673.6 113.37 674.1 108.27 674.6 112.26 675.1 112.85 675.6 111.44 676.1 113 676.6 113.47 677.1 112.68 677.6 109.84 678.1 109.46 678.6 111.7 679.1 114 679.6 113.87 680.1 111.25 680.6 112.12 681.1 110.49 681.6 112.21 682.1 108.96 682.6 113.6 683.1 113.66 683.6 112.49 684.1 109.63 684.6 110.37 685.1 113.46 685.6 110.5 686.1 113.08 686.6 113.44 687.1 112.67 687.6 110.51 688.1 112.21 688.6 113.46 689.1 112.73 689.6 113.27 690.1 112.52 690.6 111.77 691.1 112.52 691.6 111.96 692.1 114.16 692.6 109.49 693.1 109.14 693.6 113.2 694.1 113.09 694.6 112.25 695.1 109.09 695.6 108.28 696.1 113.47 696.6 109.84 697.1 109.19 697.6 114.21 698.1 111.93 698.6 109.69 699.1 111.02 699.6 113.55 700.1 113.54 700.6 110.45 701.1 113.15 701.6 108.57 702.1 110.09 702.6 112.14 703.1 111.1 703.6 113.21 704.1 113.82 704.6 114.26 705.1 113.11 705.6 108.74 706.1 110.99 706.6 110.16 L706.6 125.45 706.1 129 705.6 128.49 705.1 127.64 704.6 124.33 704.1 124.91 703.6 124.62 703.1 125.2 702.6 125.94 702.1 128.93 701.6 124.56 701.1 126.39 700.6 125.06 700.1 126.05 699.6 125.91 699.1 128.89 698.6 129.01 698.1 127.44 697.6 125.27 697.1 124.42 696.6 128.24 696.1 124.24 695.6 128.9 695.1 126.94 694.6 125.72 694.1 128.52 693.6 128.22 693.1 128.98 692.6 127.89 692.1 124.49 691.6 131.54 691.1 126.21 690.6 130.04 690.1 126.18 689.6 128.69 689.1 125.72 688.6 124.11 688.1 128.51 687.6 128.04 687.1 124.29 686.6 127.33 686.1 125.77 685.6 129.17 685.1 130.81 684.6 129.06 684.1 127.5 683.6 125.1 683.1 124.75 682.6 129.07 682.1 124.24 681.6 125.92 681.1 128.39 680.6 124.31 680.1 125.18 679.6 125.38 679.1 128.55 678.6 126.15 678.1 127.63 677.6 125.59 677.1 126 676.6 127.92 676.1 124.45 675.6 128.19 675.1 128.43 674.6 125.65 674.1 129.1 673.6 128.77 673.1 125.07 672.6 124.95 672.1 128.55 671.6 127.31 671.1 127.22 670.6 124.11 670.1 125.37 669.6 128.07 669.1 128.72 668.6 128.58 668.1 125.09 667.6 126.77 667.1 129.95 666.6 125.58 666.1 124.81 665.6 125.33 665.1 128.93 664.6 125.72 664.1 129.28 663.6 124.49 663.1 124.6 662.6 128.1 662.1 128.41 661.6 126.44 661.1 126.67 660.6 125.91 660.1 125.31 659.6 124.02 659.1 127.62 658.6 124.71 658.1 125.57 657.6 128.39 657.1 126.58 656.6 127.71 656.1 125.1 655.6 125.05 655.1 127.75 654.6 128.89 654.1 124.98 653.6 127.03 653.1 128.45 652.6 127.73 652.1 128 651.6 123.65 651.1 128.4 650.6 124.35 650.1 124.05 649.6 128.76 649.1 123.9 648.6 123.86 648.1 124.16 647.6 124.99 647.1 127.41 646.6 126.94 646.1 128.66 645.6 124.53 645.1 127.14 644.6 127.79 644.1 127.69 643.6 125.98 643.1 127.63 642.6 126.86 642.1 127.08 641.6 127.85 641.1 123.96 640.6 124.53 640.1 124.15 639.6 126.09 639.1 126.25 638.6 128.51 638.1 125.67 637.6 123.59 637.1 127.16 636.6 128.71 636.1 127.95 635.6 125.57 635.1 125.61 634.6 126.26 634.1 124.26 633.6 128.72 633.1 127.92 632.6 127.66 632.1 127.51 631.6 127.91 631.1 125.15 630.6 124.9 630.1 128.65 629.6 125.94 629.1 124.16 628.6 128.04 628.1 127.82 627.6 128.93 627.1 127.71 626.6 126.34 626.1 127.59 625.6 127.44 625.1 126.39 624.6 127.6 624.1 123.98 623.6 128.46 623.1 125.18 622.6 124.11 622.1 126.07 621.6 128.1 621.1 127.91 620.6 126.31 620.1 125.07 619.6 124.9 619.1 124.72 618.6 124.39 618.1 126.31 617.6 123.36 617.1 124 616.6 127.32 616.1 125.2 615.6 126.59 615.1 129.14 614.6 128.24 614.1 123.68 613.6 128.37 613.1 126.36 612.6 124.98 612.1 125.99 611.6 124.54 611.1 124.55 610.6 124.53 610.1 128.31 609.6 126.16 609.1 123.49 608.6 126.86 608.1 125.69 607.6 123.86 607.1 128.04 606.6 125.68 606.1 128.2 605.6 123.15 605.1 123.41 604.6 125.83 604.1 129.83 603.6 123.48 603.1 126.65 602.6 123.87 602.1 128.07 601.6 126.23 601.1 128.62 600.6 123.55 600.1 123.2 599.6 124.13 599.1 127.03 598.6 123.65 598.1 123.38 597.6 127.04 597.1 125.31 596.6 124.82 596.1 123.77 595.6 124.28 595.1 125.59 594.6 127.88 594.1 126.73 593.6 126.61 593.1 124.26 592.6 126.59 592.1 127.8 591.6 124.6 591.1 127.02 590.6 125.91 590.1 126.55 589.6 126.27 589.1 123.55 588.6 125.55 588.1 124.78 587.6 126.12 587.1 127.66 586.6 127.44 586.1 128.04 585.6 123.36 585.1 124.59 584.6 125.64 584.1 123.2 583.6 127.41 583.1 125.67 582.6 127.37 582.1 123.94 581.6 126.03 581.1 126.12 580.6 125.46 580.1 127.57 579.6 125.97 579.1 125.14 578.6 125.91 578.1 124.06 577.6 126.35 577.1 124.16 576.6 125.18 576.1 124.33 575.6 127.03 575.1 123.43 574.6 125.94 574.1 125.64 573.6 129.28 573.1 127.61 572.6 124.94 572.1 126.5 571.6 124.33 571.1 127.86 570.6 126.7 570.1 127.35 569.6 127.39 569.1 127.72 568.6 125.5 568.1 128.89 567.6 126.31 567.1 124.6 566.6 124.9 566.1 124.27 565.6 124.52 565.1 126.96 564.6 125.36 564.1 125.48 563.6 126.86 563.1 126.02 562.6 123.58 562.1 125.52 561.6 127.12 561.1 127.2 560.6 122.79 560.1 125.55 559.6 126.62 559.1 127.31 558.6 124.94 558.1 124.82 557.6 127.62 557.1 124.33 556.6 125.23 556.1 127.03 555.6 123.28 555.1 123.03 554.6 127.24 554.1 127.76 553.6 123.65 553.1 124.19 552.6 123.83 552.1 124.69 551.6 129.02 551.1 125.88 550.6 123.74 550.1 124.7 549.6 125 549.1 124.16 548.6 122.99 548.1 124.29 547.6 125.09 547.1 127.5 546.6 126.49 546.1 123.6 545.6 127.7 545.1 122.54 544.6 125.05 544.1 127.78 543.6 123.71 543.1 126.4 542.6 122.89 542.1 124.9 541.6 123.02 541.1 126.89 540.6 125.74 540.1 126.55 539.6 124.08 539.1 124.61 538.6 127.05 538.1 126.18 537.6 127.71 537.1 125.86 536.6 125.37 536.1 124.25 535.6 127.69 535.1 123.55 534.6 125.63 534.1 127.88 533.6 123.61 533.1 123.39 532.6 126.25 532.1 124.2 531.6 123.75 531.1 123.4 530.6 127.17 530.1 123.8 529.6 122.61 529.1 124.25 528.6 126.97 528.1 122.5 527.6 125.54 527.1 123.59 526.6 125.66 526.1 125.05 525.6 122.57 525.1 123.95 524.6 127.35 524.1 129.98 523.6 126.58 523.1 123.04 522.6 127.67 522.1 126.37 521.6 124.27 521.1 124.57 520.6 126.84 520.1 122.28 519.6 123.57 519.1 127.61 518.6 124.92 518.1 124.93 517.6 126.59 517.1 123.35 516.6 125.85 516.1 122.88 515.6 124.87 515.1 125.29 514.6 124.4 514.1 123.34 513.6 124.43 513.1 122.42 512.6 124.15 512.1 125.3 511.6 123.29 511.1 123.02 510.6 127.03 510.1 123.17 509.6 122.83 509.1 124.01 508.6 127.15 508.1 125.42 507.6 123.06 507.1 125.93 506.6 123.76 506.1 124.36 505.6 122.75 505.1 122.88 504.6 124.2 504.1 126.41 503.6 122.73 503.1 124.76 502.6 124.74 502.1 125.59 501.6 123.04 501.1 127.16 500.6 126.63 500.1 125.2 499.6 126.62 499.1 122.65 498.6 123.33 498.1 126.4 497.6 126.63 497.1 123.14 496.6 126.22 496.1 123.6 495.6 123.09 495.1 123.99 494.6 124.79 494.1 126.68 493.6 124.4 493.1 124.73 492.6 125.25 492.1 128.89 491.6 124.89 491.1 125.51 490.6 127.05 490.1 123.55 489.6 123.95 489.1 123.4 488.6 125.03 488.1 126.93 487.6 124.42 487.1 126.41 486.6 125.6 486.1 124.9 485.6 125.84 485.1 122.65 484.6 125.66 484.1 125.4 483.6 123.02 483.1 123.8 482.6 125.9 482.1 126.64 481.6 123.54 481.1 127.19 480.6 127 480.1 126.18 479.6 126.29 479.1 126.52 478.6 122.89 478.1 126.52 477.6 122.39 477.1 126.72 476.6 122.67 476.1 123.11 475.6 122.07 475.1 126.29 474.6 125.89 474.1 124.64 473.6 124.2 473.1 122.35 472.6 126.38 472.1 127.09 471.6 125.25 471.1 126.26 470.6 126.87 470.1 124.49 469.6 126.83 469.1 126.32 468.6 124.75 468.1 123.27 467.6 124.14 467.1 126.16 466.6 122.35 466.1 127.83 465.6 125.87 465.1 127.07 464.6 121.81 464.1 123.82 463.6 125.41 463.1 122.67 462.6 126.69 462.1 124.25 461.6 125.01 461.1 125.75 460.6 125.33 460.1 124.35 459.6 122.08 459.1 126.82 458.6 124.1 458.1 126.77 457.6 125.78 457.1 124.75 456.6 126.34 456.1 123.32 455.6 123.55 455.1 123.95 454.6 124.63 454.1 125.58 453.6 123.54 453.1 123.39 452.6 125.79 452.1 122.68 451.6 125.7 451.1 124.4 450.6 126.28 450.1 124.53 449.6 121.83 449.1 123.94 448.6 125.66 448.1 123.29 447.6 122.75 447.1 126.88 446.6 123.17 446.1 124.9 445.6 126.07 445.1 126.7 444.6 126.31 444.1 126.27 443.6 126.19 443.1 126.37 442.6 125.51 442.1 123.02 441.6 122.38 441.1 123 440.6 125.76 440.1 122.9 439.6 121.99 439.1 124.28 438.6 125.32 438.1 125.07 437.6 122.93 437.1 123.78 436.6 126.65 436.1 124.4 435.6 122.7 435.1 125.05 434.6 124.79 434.1 121.74 433.6 122.53 433.1 121.7 432.6 127.17 432.1 122.04 431.6 121.71 431.1 122.06 430.6 128.03 430.1 127.81 429.6 126.44 429.1 126.66 428.6 124.94 428.1 123.97 427.6 122.04 427.1 125.61 426.6 122.28 426.1 125.25 425.6 126.01 425.1 121.58 424.6 123.83 424.1 126.85 423.6 122.26 423.1 124.15 422.6 124.26 422.1 119.97 421.6 118.91 421.1 115.94 420.6 111.23 420.1 109.84 419.6 106.47Z" fill="#00ff00"/>
<path d="M419.6 102.27 420.1 103.39 420.6 102.82 421.1 103.45 421.6 103.57 422.1 105.64 422.6 103.98 423.1 105.47 423.6 105.68 424.1 108.03 424.6 105.1 425.1 108.25 425.6 107.51 426.1 107.42 426.6 106.57 427.1 108.62 427.6 111.75 428.1 111.28 428.6 109.12 429.1 109.5 429.6 111.93 430.1 112.94 430.6 114.81 431.1 115.43 431.6 115.61 432.1 112.68 432.6 114.77 433.1 114.27 433.6 116.74 434.1 115.58 434.6 117.03 435.1 119.85 435.6 117.37 436.1 120.95 436.6 120.23 437.1 119.1 437.6 121.65 438.1 121.94 438.6 121.04 439.1 123.71 439.6 123.72 440.1 123.31 440.6 124.14 441.1 125.29 441.6 124.46 442.1 124.88 442.6 124.33 443.1 125.06 443.6 125.06 444.1 125.52 444.6 128.26 445.1 126.29 445.6 127.75 446.1 127.2 446.6 128.68 447.1 126.63 447.6 126.51 448.1 128.59 448.6 128.47 449.1 131.91 449.6 131.88 450.1 132.67 450.6 131.11 451.1 132.35 451.6 133.27 452.1 131.38 452.6 130.64 453.1 135.48 453.6 135.67 454.1 131.57 454.6 132.49 455.1 136.22 455.6 135.62 456.1 136.61 456.6 135.33 457.1 134.3 457.6 134.39 458.1 138.41 458.6 136.85 459.1 137.07 459.6 137.8 460.1 138.47 460.6 136.72 461.1 136.06 461.6 140.57 462.1 137.17 462.6 140.26 463.1 139.09 463.6 138.82 464.1 142 464.6 141.31 465.1 141.81 465.6 139.77 466.1 142.05 466.6 140.66 467.1 142.76 467.6 143.55 468.1 140.23 468.6 143.79 469.1 142 469.6 140.88 470.1 144.09 470.6 144.86 471.1 142.62 471.6 144.8 472.1 144.89 472.6 144.51 473.1 145.96 473.6 145.31 474.1 144.51 474.6 146.37 475.1 142.28 475.6 144.97 476.1 145.11 476.6 144.65 477.1 145.62 477.6 144.38 478.1 142.81 478.6 145.03 479.1 142.57 479.6 146 480.1 145.42 480.6 142.74 481.1 144.09 481.6 143.21 482.1 145.98 482.6 142.91 483.1 143.09 483.6 144.88 484.1 145.29 484.6 145.44 485.1 144.08 485.6 144.33 486.1 146.4 486.6 147.45 487.1 148.7 487.6 148.28 488.1 146.84 488.6 146.65 489.1 148.91 489.6 147.82 490.1 149.04 490.6 148.66 491.1 150.15 491.6 149.56 492.1 149.34 492.6 151.09 493.1 151.7 493.6 152.69 494.1 152.38 494.6 152.53 495.1 154.06 495.6 154.05 496.1 151.82 496.6 153.32 497.1 154.26 497.6 152.08 498.1 153.4 498.6 152.62 499.1 153.8 499.6 153.42 500.1 154.21 500.6 153.57 501.1 152.54 501.6 153.6 502.1 152.66 502.6 155.55 503.1 152.76 503.6 153.28 504.1 153.11 504.6 153.15 505.1 154.48 505.6 153.52 506.1 155.04 506.6 155.85 507.1 155.4 507.6 153.76 508.1 153.59 508.6 153.29 509.1 155.08 509.6 153.14 510.1 155.96 510.6 155.42 511.1 155.14 511.6 155.86 512.1 152.91 512.6 153.34 513.1 154.47 513.6 155 514.1 153.26 514.6 154.62 515.1 152.62 515.6 154.17 516.1 153.4 516.6 155.45 517.1 155.38 517.6 155.58 518.1 154.27 518.6 153.51 519.1 155.39 519.6 154.37 520.1 153.44 520.6 153.11 521.1 153.98 521.6 155 522.1 154.62 522.6 154.35 523.1 151.66 523.6 154.81 524.1 156.26 524.6 153.7 525.1 155.59 525.6 153.41 526.1 155.54 526.6 154.5 527.1 155.46 527.6 155.21 528.1 154.27 528.6 155.85 529.1 153.37 529.6 156.33 530.1 155.67 530.6 153.3 531.1 155.64 531.6 155.1 532.1 156.12 532.6 155.16 533.1 155.23 533.6 155.22 534.1 154.01 534.6 154.84 535.1 156.09 535.6 153.84 536.1 154.57 536.6 154.58 537.1 156.14 537.6 153.93 538.1 154.23 538.6 155.75 539.1 155.79 539.6 154.29 540.1 153.83 540.6 153.68 541.1 156.3 541.6 156.41 542.1 153.43 542.6 154.59 543.1 154.27 543.6 154.7 544.1 155.04 544.6 154.85 545.1 155.12 545.6 154.99 546.1 155 546.6 156.14 547.1 154.17 547.6 153.89 548.1 155.97 548.6 154.81 549.1 153.54 549.6 155.54 550.1 155.01 550.6 155.48 551.1 154.05 551.6 156 552.1 153.76 552.6 155.73 553.1 154.13 553.6 155.89 554.1 155.77 554.6 155.66 555.1 155.36 555.6 155.6 556.1 155.65 556.6 155.48 557.1 153.55 557.6 154.49 558.1 156.12 558.6 153.49 559.1 154.03 559.6 156.14 560.1 156.35 560.6 156.1 561.1 155.84 561.6 155.54 562.1 154.64 562.6 155.03 563.1 154.78 563.6 155.53 564.1 156.24 564.6 156.08 565.1 157.89 565.6 157.58 566.1 156.94 566.6 155.74 567.1 156.36 567.6 156.08 568.1 156.51 568.6 157.26 569.1 156.76 569.6 157.1 570.1 159.79 570.6 158.37 571.1 157.48 571.6 159.97 572.1 158.94 572.6 159.73 573.1 159.92 573.6 160.09 574.1 160.79 574.6 158.66 575.1 160.3 575.6 161.38 576.1 159.08 576.6 161.37 577.1 161.02 577.6 160.25 578.1 160.43 578.6 163.08 579.1 163.02 579.6 163.31 580.1 160.96 580.6 163.15 581.1 162.88 581.6 161.74 582.1 164.28 582.6 162.42 583.1 164.81 583.6 163.09 584.1 165.16 584.6 165.39 585.1 164.93 585.6 164.96 586.1 165.72 586.6 164.4 587.1 167.24 587.6 167.21 588.1 167.64 588.6 168.13 589.1 167.58 589.6 167.69 590.1 168.46 590.6 167.53 591.1 169.36 591.6 167.65 592.1 169.06 592.6 169.08 593.1 170.18 593.6 170.73 594.1 169.27 594.6 170.03 595.1 169.94 595.6 169.96 596.1 171.94 596.6 171.3 597.1 171.81 597.6 170.34 598.1 172.47 598.6 172.53 599.1 171.1 599.6 171.34 600.1 172.39 600.6 172.77 601.1 172.21 601.6 173.96 602.1 173.91 602.6 173.02 603.1 172.25 603.6 172.78 604.1 172.98 604.6 174.11 605.1 174.11 605.6 174.49 606.1 174.34 606.6 174.02 607.1 174.47 607.6 175.31 608.1 175.28 608.6 175.79 609.1 174.66 609.6 175.32 610.1 175.99 610.6 174.16 611.1 175.24 611.6 175.83 612.1 176.3 612.6 176.77 613.1 174.43 613.6 176.85 614.1 174.41 614.6 176.39 615.1 174.6 615.6 174.73 616.1 175.49 616.6 176.81 617.1 175.5 617.6 174.7 618.1 176.1 618.6 175.84 619.1 175.16 619.6 174.92 620.1 176.95 620.6 175.84 621.1 175.8 621.6 175.04 622.1 175.24 622.6 176.92 623.1 176.55 623.6 175.56 624.1 176.64 624.6 176.12 625.1 175.97 625.6 176.27 626.1 177.27 626.6 173.93 627.1 174.48 627.6 175.87 628.1 175.66 628.6 176.22 629.1 176.97 629.6 176.29 630.1 175.95 630.6 176.7 631.1 176.94 631.6 176.19 632.1 176.75 632.6 177.47 633.1 175.1 633.6 177.1 634.1 175.36 634.6 175.67 635.1 177.65 635.6 177.57 636.1 175.97 636.6 177.21 637.1 176.27 637.6 175.47 638.1 175.27 638.6 176.02 639.1 175.82 639.6 175.48 640.1 176.73 640.6 177.66 641.1 176.24 641.6 177.06 642.1 177.06 642.6 175.99 643.1 175.21 643.6 176.71 644.1 177.37 644.6 176.14 645.1 175.5 645.6 175.38 646.1 175.81 646.6 177.73 647.1 177.4 647.6 177.58 648.1 175.64 648.6 176.05 649.1 176.87 649.6 175.51 650.1 175.3 650.6 175.31 651.1 176.33 651.6 176.65 652.1 175.85 652.6 177.15 653.1 176.49 653.6 176.05 654.1 175.67 654.6 177.02 655.1 175.09 655.6 177.4 656.1 177.69 656.6 176.88 657.1 177.14 657.6 176.25 658.1 177.26 658.6 175.91 659.1 175.5 659.6 176.92 660.1 176.92 660.6 175.98 661.1 176.94 661.6 177.58 662.1 175.91 662.6 177.07 663.1 176.39 663.6 176.04 664.1 177.72 664.6 176.88 665.1 175.2 665.6 177.11 666.1 177.34 666.6 176.43 667.1 175.33 667.6 177.19 668.1 176.23 668.6 177.31 669.1 176.21 669.6 176.31 670.1 177.1 670.6 175.85 671.1 177.51 671.6 175.83 672.1 177.48 672.6 177.24 673.1 175.92 673.6 177.1 674.1 176.74 674.6 176.12 675.1 176.62 675.6 175.58 676.1 175.19 676.6 177.77 677.1 177.04 677.6 177.23 678.1 176.09 678.6 175.19 679.1 175.24 679.6 175.98 680.1 174.71 680.6 176.51 681.1 175.9 681.6 177.63 682.1 176.19 682.6 176.07 683.1 176.15 683.6 175.82 684.1 175.5 684.6 176.93 685.1 176.07 685.6 176.26 686.1 177.63 686.6 177.24 687.1 177.69 687.6 175.89 688.1 177.28 688.6 177.22 689.1 176.41 689.6 177.55 690.1 176.13 690.6 176.02 691.1 176.7 691.6 176.8 692.1 176.9 692.6 176.82 693.1 173.94 693.6 176.74 694.1 177.26 694.6 177.75 695.1 174.81 695.6 175.89 696.1 177.29 696.6 175.56 697.1 176.19 697.6 177.85 698.1 176.2 698.6 176.61 699.1 176.4 699.6 177.26 700.1 177.08 700.6 176.23 701.1 177.2 701.6 176.74 702.1 176.26 702.6 176.25 703.1 176.49 703.6 176.46 704.1 175.27 704.6 175.28 705.1 175.78 705.6 177.09 706.1 177.87 706.6 175.27 L706.6 182.79 706.1 182.42 705.6 181.79 705.1 183.47 704.6 183.94 704.1 182.76 703.6 182.32 703.1 183.04 702.6 181.53 702.1 182.34 701.6 181.57 701.1 183.17 700.6 181.66 700.1 183.53 699.6 181.45 699.1 183.27 698.6 184.54 698.1 182.17 697.6 182.25 697.1 181.67 696.6 183.56 696.1 181.31 695.6 182.98 695.1 183.46 694.6 181.52 694.1 183.09 693.6 182.44 693.1 183.11 692.6 181.24 692.1 183.13 691.6 181.78 691.1 182.71 690.6 181.3 690.1 183.32 689.6 182.09 689.1 183.06 688.6 182.25 688.1 181.38 687.6 183.36 687.1 183.18 686.6 181.29 686.1 181.64 685.6 183.3 685.1 183.23 684.6 182.56 684.1 182.17 683.6 182.81 683.1 181.84 682.6 182.44 682.1 183.25 681.6 183.19 681.1 183.29 680.6 181.73 680.1 181.34 679.6 182.54 679.1 181.77 678.6 183.7 678.1 181.27 677.6 183.33 677.1 182.66 676.6 183.49 676.1 182.67 675.6 182.3 675.1 182.68 674.6 181.69 674.1 182.41 673.6 183.03 673.1 182.43 672.6 185.12 672.1 182.9 671.6 181.45 671.1 181.38 670.6 183.26 670.1 181.28 669.6 182.77 669.1 182.26 668.6 181.41 668.1 182.39 667.6 181.32 667.1 181.48 666.6 181.82 666.1 183.04 665.6 182.54 665.1 181.54 664.6 182.4 664.1 182.2 663.6 183.4 663.1 182.35 662.6 183.17 662.1 183.2 661.6 183.58 661.1 183.56 660.6 181.5 660.1 181.94 659.6 183.6 659.1 181.9 658.6 182.29 658.1 183.75 657.6 181.43 657.1 183.58 656.6 182.14 656.1 181.08 655.6 181.33 655.1 182.25 654.6 181.16 654.1 182.91 653.6 183.76 653.1 181.52 652.6 182.73 652.1 181.15 651.6 181.77 651.1 182.57 650.6 182.72 650.1 183.49 649.6 182.72 649.1 182.76 648.6 181.64 648.1 181.76 647.6 181.18 647.1 181.85 646.6 181.63 646.1 183.01 645.6 182.06 645.1 183.46 644.6 181.27 644.1 183.25 643.6 182.01 643.1 182.56 642.6 181.47 642.1 181.91 641.6 182.33 641.1 181.62 640.6 183.92 640.1 182.06 639.6 181.17 639.1 182.97 638.6 183.63 638.1 183.59 637.6 181.85 637.1 183.3 636.6 182.9 636.1 183.06 635.6 182.52 635.1 182.49 634.6 184.1 634.1 182.53 633.6 181.82 633.1 182.11 632.6 183.19 632.1 181.03 631.6 183.34 631.1 182.33 630.6 181.13 630.1 181.48 629.6 182.91 629.1 182.74 628.6 183.23 628.1 181.14 627.6 181.81 627.1 183.58 626.6 183.57 626.1 181.33 625.6 183.59 625.1 182.14 624.6 182.88 624.1 181.28 623.6 180.97 623.1 181.32 622.6 182.92 622.1 182.99 621.6 181.07 621.1 183.11 620.6 181.41 620.1 181.96 619.6 183.32 619.1 183.33 618.6 181.12 618.1 183.04 617.6 182.13 617.1 181.98 616.6 183.09 616.1 181.01 615.6 183.6 615.1 181.12 614.6 181.38 614.1 181.75 613.6 182.03 613.1 181.74 612.6 180.59 612.1 181.08 611.6 180.31 611.1 181.05 610.6 181.67 610.1 181.53 609.6 182.14 609.1 179.68 608.6 181.21 608.1 179.77 607.6 181.8 607.1 179.47 606.6 181.17 606.1 180.17 605.6 179.39 605.1 180.13 604.6 180.91 604.1 179.45 603.6 178.16 603.1 179.03 602.6 179.76 602.1 177.72 601.6 179.58 601.1 178.93 600.6 178.84 600.1 179.73 599.6 179.5 599.1 176.72 598.6 178.67 598.1 177.76 597.6 178.25 597.1 178.58 596.6 178.58 596.1 176.45 595.6 177.44 595.1 175.61 594.6 175.3 594.1 175.8 593.6 175.92 593.1 175.42 592.6 176.9 592.1 175.34 591.6 174.92 591.1 175.92 590.6 175.77 590.1 173.16 589.6 174.74 589.1 174.21 588.6 173.02 588.1 174.77 587.6 172.4 587.1 174.48 586.6 173 586.1 171.33 585.6 173.41 585.1 171.24 584.6 170.2 584.1 172.67 583.6 171.69 583.1 170.6 582.6 170.87 582.1 169.49 581.6 170.23 581.1 170.84 580.6 168.62 580.1 169.54 579.6 167.73 579.1 168.54 578.6 167.67 578.1 169.19 577.6 169.04 577.1 168.9 576.6 166.7 576.1 167.66 575.6 166.34 575.1 167.3 574.6 167.15 574.1 166.81 573.6 168.09 573.1 166.38 572.6 165.54 572.1 164.48 571.6 166.53 571.1 165.78 570.6 164.36 570.1 164.5 569.6 164.29 569.1 164.95 568.6 164.5 568.1 165.27 567.6 163.05 567.1 165.32 566.6 163.16 566.1 163.97 565.6 164.58 565.1 163.33 564.6 162.4 564.1 162.72 563.6 163.44 563.1 162.08 562.6 161.33 562.1 162.47 561.6 161.69 561.1 163.4 560.6 161.77 560.1 162.78 559.6 162.68 559.1 160.52 558.6 160.52 558.1 161.52 557.6 161.91 557.1 164.14 556.6 160.59 556.1 162.53 555.6 160.2 555.1 161.01 554.6 161.77 554.1 160.55 553.6 161.85 553.1 161.82 552.6 161.91 552.1 161.07 551.6 162.3 551.1 161.32 550.6 162.99 550.1 162.07 549.6 164 549.1 162.15 548.6 163.36 548.1 160.76 547.6 160.37 547.1 160.66 546.6 162.06 546.1 160.62 545.6 162.81 545.1 162.48 544.6 162.35 544.1 161.9 543.6 163.24 543.1 162.39 542.6 161.86 542.1 161.84 541.6 162.07 541.1 163.03 540.6 162.4 540.1 162.49 539.6 162.7 539.1 161.23 538.6 162.28 538.1 163.08 537.6 162.22 537.1 161.14 536.6 162.9 536.1 162.78 535.6 163.05 535.1 162.26 534.6 162.5 534.1 161.12 533.6 161.37 533.1 161.18 532.6 160.85 532.1 162.21 531.6 160.71 531.1 161.62 530.6 162.03 530.1 163.04 529.6 162.83 529.1 161.06 528.6 161.74 528.1 162.68 527.6 163.11 527.1 161.92 526.6 160.45 526.1 161.68 525.6 160.8 525.1 161.9 524.6 162.68 524.1 162.72 523.6 162.07 523.1 163.18 522.6 160.17 522.1 160.48 521.6 161.25 521.1 162.77 520.6 161.79 520.1 161.31 519.6 160.63 519.1 161.34 518.6 161.93 518.1 161.56 517.6 162.37 517.1 161.2 516.6 160.93 516.1 162.18 515.6 161.28 515.1 161.01 514.6 160.19 514.1 161.07 513.6 162.03 513.1 161.15 512.6 162.89 512.1 161.61 511.6 162.84 511.1 162.64 510.6 160.29 510.1 160.63 509.6 161.36 509.1 161.39 508.6 161.54 508.1 159.87 507.6 161.29 507.1 160.11 506.6 162.2 506.1 161.42 505.6 160.64 505.1 160.2 504.6 160.97 504.1 161.45 503.6 162.56 503.1 162.08 502.6 159.62 502.1 160.85 501.6 161.97 501.1 161.83 500.6 161.84 500.1 159.96 499.6 159.66 499.1 162.23 498.6 160.53 498.1 159.05 497.6 160.58 497.1 162.26 496.6 161.44 496.1 160.92 495.6 159.43 495.1 158.67 494.6 160.48 494.1 160.41 493.6 158.64 493.1 157.94 492.6 157 492.1 157.67 491.6 156.85 491.1 157.52 490.6 157.16 490.1 157.65 489.6 157.38 489.1 156.31 488.6 155.11 488.1 155.48 487.6 154.66 487.1 157.06 486.6 156.18 486.1 153.73 485.6 153.94 485.1 156.44 484.6 154.25 484.1 155.45 483.6 156.23 483.1 153.45 482.6 156.05 482.1 155.89 481.6 155.09 481.1 153.99 480.6 154.7 480.1 154.51 479.6 155.41 479.1 154.52 478.6 153.12 478.1 154.32 477.6 157.21 477.1 156.07 476.6 153.96 476.1 155.46 475.6 154.71 475.1 156 474.6 156.1 474.1 153.6 473.6 154.35 473.1 154.76 472.6 153.76 472.1 153.91 471.6 153.1 471.1 153.09 470.6 154.53 470.1 152.42 469.6 152.01 469.1 152.22 468.6 150.25 468.1 150.69 467.6 150.94 467.1 152.09 466.6 149.42 466.1 153.74 465.6 150.53 465.1 149.85 464.6 149.1 464.1 153.23 463.6 151.81 463.1 148.63 462.6 152.57 462.1 150.67 461.6 148.92 461.1 150.12 460.6 150.4 460.1 146.49 459.6 147.87 459.1 148.82 458.6 146.09 458.1 147.71 457.6 147.25 457.1 147.84 456.6 147.43 456.1 147.26 455.6 146.82 455.1 146.68 454.6 145.7 454.1 146.93 453.6 144.23 453.1 145.93 452.6 142.42 452.1 145.72 451.6 145.7 451.1 141.16 450.6 143.46 450.1 143.02 449.6 142.85 449.1 141.01 448.6 140.63 448.1 141.19 447.6 141.2 447.1 139.43 446.6 140.08 446.1 140.82 445.6 138.59 445.1 135.97 444.6 138.06 444.1 135.27 443.6 137.26 443.1 137.34 442.6 135.62 442.1 133.95 441.6 134.57 441.1 132.53 440.6 135.2 440.1 132.86 439.6 135.15 439.1 131.13 438.6 132.94 438.1 131.6 437.6 133.34 437.1 132.73 436.6 132.82 436.1 130.18 435.6 129.64 435.1 130.99 434.6 128.75 434.1 129.06 433.6 128.37 433.1 127.63 432.6 125.84 432.1 123.44 431.6 122.91 431.1 123.5 430.6 123.92 430.1 124.44 429.6 122.26 429.1 119.83 428.6 122.21 428.1 121.54 427.6 119.22 427.1 119.99 426.6 116.87 426.1 118.85 425.6 115.91 425.1 116.82 424.6 116.39 424.1 115.34 423.6 115.47 423.1 114.54 422.6 113.15 422.1 110.99 421.6 109.39 421.1 109.95 420.6 108.58 420.1 106.76 419.6 104.83Z" fill="#0000ff"/>
<path d="M419.6 102.89 420.1 102.84 420.6 103.83 421.1 105.52 421.6 105.63 422.1 106.67 422.6 108.19 423.1 108.01 423.6 108.24 424.1 109.89 424.6 110.14 425.1 110.98 425.6 111.99 426.1 113.03 426.6 113.68 427.1 115.87 427.6 115.49 428.1 118.2 428.6 118.72 429.1 119.08 429.6 119.77 430.1 121.48 430.6 124.01 431.1 124.27 431.6 125.57 432.1 126.45 432.6 128.51 433.1 128.82 433.6 129.83 434.1 130.44 434.6 131.56 435.1 132.59 435.6 135.08 436.1 135.31 436.6 137.02 437.1 136.85 437.6 138.07 438.1 139.68 438.6 140.21 439.1 140.73 439.6 141.71 440.1 141.44 440.6 143.74 441.1 144.39 441.6 144.63 442.1 144.71 442.6 145.23 443.1 145.68 443.6 146 444.1 146.27 444.6 146.73 445.1 148 445.6 148.53 446.1 148.63 446.6 149.49 447.1 150.87 447.6 150.06 448.1 151.66 448.6 150.92 449.1 151.83 449.6 152.45 450.1 152.03 450.6 153.77 451.1 152.93 451.6 153.47 452.1 154.05 452.6 154.93 453.1 155.11 453.6 154.37 454.1 155.12 454.6 154.64 455.1 155.1 455.6 155.23 456.1 155.84 456.6 155.76 457.1 157.1 457.6 155.96 458.1 157.18 458.6 157.5 459.1 157.54 459.6 157.89 460.1 157.81 460.6 157.12 461.1 157.62 461.6 158.2 462.1 157.7 462.6 158.44 463.1 158.6 463.6 158.49 464.1 157.82 464.6 158.28 465.1 159.45 465.6 158.58 466.1 159.14 466.6 158.53 467.1 159.36 467.6 160.33 468.1 160 468.6 160.59 469.1 160.63 469.6 159.97 470.1 159.56 470.6 161.12 471.1 161.49 471.6 161.14 472.1 160.56 472.6 161.65 473.1 161.29 473.6 160.85 474.1 161.45 474.6 162.23 475.1 162.14 475.6 162.29 476.1 161.88 476.6 162.52 477.1 162.23 477.6 163.08 478.1 163.12 478.6 162.52 479.1 163.43 479.6 163.12 480.1 164.18 480.6 164.67 481.1 164.4 481.6 164.62 482.1 164.09 482.6 164.38 483.1 164.41 483.6 165.82 484.1 166.19 484.6 166.33 485.1 166.11 485.6 166.36 486.1 166.53 486.6 167.43 487.1 167.69 487.6 167.68 488.1 168.09 488.6 168.99 489.1 168.52 489.6 169.62 490.1 169.68 490.6 170.57 491.1 170.57 491.6 170.79 492.1 172.13 492.6 172 493.1 172.6 493.6 172.74 494.1 173.52 494.6 173.69 495.1 174.36 495.6 174.26 496.1 174.76 496.6 175.21 497.1 175.21 497.6 176.03 498.1 175 498.6 175.14 499.1 175.81 499.6 176.33 500.1 176.31 500.6 176.85 501.1 176.55 501.6 176.22 502.1 176.18 502.6 177.46 503.1 177.05 503.6 176.17 504.1 176.79 504.6 177.06 505.1 177.04 505.6 177.95 506.1 176.94 506.6 176.98 507.1 176.58 507.6 177.75 508.1 177.35 508.6 176.82 509.1 177.75 509.6 177.15 510.1 177.15 510.6 178.2 511.1 176.99 511.6 178.52 512.1 178.46 512.6 177.48 513.1 177.54 513.6 177.98 514.1 177.36 514.6 178.61 515.1 178.19 515.6 178.74 516.1 178.77 516.6 178.47 517.1 178.64 517.6 179.07 518.1 177.98 518.6 177.94 519.1 178.32 519.6 177.83 520.1 178.61 520.6 179.04 521.1 178.58 521.6 178.14 522.1 178.57 522.6 178.61 523.1 177.7 523.6 178.82 524.1 178.1 524.6 178.16 525.1 177.85 525.6 178.96 526.1 178.92 526.6 178.08 527.1 178.4 527.6 178.93 528.1 178.53 528.6 178.81 529.1 178.5 529.6 179.08 530.1 179.07 530.6 179 531.1 178.05 531.6 178.65 532.1 178.81 532.6 178.01 533.1 178.89 533.6 179.19 534.1 178.88 534.6 179.44 535.1 178.4 535.6 179.29 536.1 179.4 536.6 179.56 537.1 179.22 537.6 179.56 538.1 180.04 538.6 180.43 539.1 179.57 539.6 179.61 540.1 179.52 540.6 179.78 541.1 179.93 541.6 180.27 542.1 180.35 542.6 180.32 543.1 181.2 543.6 181.4 544.1 181.16 544.6 181.95 545.1 181.48 545.6 181.96 546.1 181.6 546.6 181.72 547.1 182.7 547.6 183.21 548.1 183.62 548.6 182.37 549.1 182.41 549.6 183.15 550.1 183.71 550.6 184.22 551.1 183.58 551.6 183.91 552.1 183.23 552.6 183.73 553.1 184.91 553.6 184.07 554.1 185.13 554.6 184.18 555.1 184.32 555.6 184.66 556.1 184.84 556.6 185.05 557.1 185.23 557.6 185.58 558.1 185.21 558.6 185.73 559.1 185.93 559.6 186.64 560.1 187.43 560.6 187.15 561.1 188.05 561.6 188.5 562.1 188.36 562.6 188.98 563.1 187.63 563.6 187.94 564.1 188.65 564.6 187.63 565.1 187.74 565.6 187.61 566.1 188.88 566.6 188.14 567.1 187.89 567.6 188.84 568.1 188.58 568.6 187.89 569.1 187.82 569.6 188.65 570.1 189.03 570.6 187.85 571.1 187.52 571.6 188.97 572.1 188.56 572.6 187.75 573.1 187.81 573.6 187.98 574.1 187.83 574.6 188.81 575.1 189.08 575.6 188.21 576.1 187.92 576.6 188 577.1 188.99 577.6 188.6 578.1 189 578.6 188.75 579.1 187.97 579.6 187.92 580.1 188.81 580.6 188.97 581.1 187.72 581.6 187.98 582.1 188.08 582.6 188.68 583.1 187.93 583.6 188.34 584.1 188.37 584.6 188.97 585.1 187.63 585.6 188.37 586.1 188.39 586.6 188.21 587.1 187.74 587.6 188.24 588.1 188.74 588.6 189.16 589.1 189.12 589.6 189.06 590.1 189.01 590.6 187.73 591.1 189.05 591.6 188.01 592.1 188.95 592.6 188.8 593.1 188.95 593.6 188.4 594.1 188.31 594.6 188.59 595.1 189 595.6 188.67 596.1 188.41 596.6 187.95 597.1 188.52 597.6 189.21 598.1 188.04 598.6 188.88 599.1 188.93 599.6 189.18 600.1 188.94 600.6 188.67 601.1 188.46 601.6 188.37 602.1 188.66 602.6 188.05 603.1 188.21 603.6 189.07 604.1 187.83 604.6 189.16 605.1 188.84 605.6 187.75 606.1 188.49 606.6 188.41 607.1 188.71 607.6 188.38 608.1 189.26 608.6 188.44 609.1 187.77 609.6 188.18 610.1 188.15 610.6 187.9 611.1 187.83 611.6 189.07 612.1 187.83 612.6 187.88 613.1 187.87 613.6 188.76 614.1 188.47 614.6 188.39 615.1 188.97 615.6 188.51 616.1 188.43 616.6 188.89 617.1 188.3 617.6 188.16 618.1 189.13 618.6 187.81 619.1 188.78 619.6 187.85 620.1 187.98 620.6 188.15 621.1 188.17 621.6 188.72 622.1 188.75 622.6 189.28 623.1 189.03 623.6 187.84 624.1 188.45 624.6 188.99 625.1 189.36 625.6 188.5 626.1 187.91 626.6 188.02 627.1 189.01 627.6 189.04 628.1 188.72 628.6 188.86 629.1 189.11 629.6 188.67 630.1 188.26 630.6 188.84 631.1 188.02 631.6 188.97 632.1 188.5 632.6 188.51 633.1 188.83 633.6 188.98 634.1 188.46 634.6 189.27 635.1 189.36 635.6 189.38 636.1 189.33 636.6 188.69 637.1 188.28 637.6 189.23 638.1 188.73 638.6 188.36 639.1 188.7 639.6 188.55 640.1 188.63 640.6 189.4 641.1 188.69 641.6 188.47 642.1 189.08 642.6 189.25 643.1 189.02 643.6 188.04 644.1 188.44 644.6 189.37 645.1 188.85 645.6 188.06 646.1 189.03 646.6 189.03 647.1 188.34 647.6 189.07 648.1 188.3 648.6 189.45 649.1 188.95 649.6 188.19 650.1 188.82 650.6 189.3 651.1 188.21 651.6 189.32 652.1 189.35 652.6 188.14 653.1 189.31 653.6 188.01 654.1 188.95 654.6 188.88 655.1 189.48 655.6 188.92 656.1 188.7 656.6 188.29 657.1 189.12 657.6 189.36 658.1 188.53 658.6 189.5 659.1 189.3 659.6 188.64 660.1 188.35 660.6 188.57 661.1 188.86 661.6 188.18 662.1 189.52 662.6 188.61 663.1 188.37 663.6 188.99 664.1 189.2 664.6 188.27 665.1 188.62 665.6 188.67 666.1 189.37 666.6 188.45 667.1 188.6 667.6 188.36 668.1 188.83 668.6 188.67 669.1 189.16 669.6 188.63 670.1 188.34 670.6 188.28 671.1 189.17 671.6 188.31 672.1 188.34 672.6 189.18 673.1 189.26 673.6 188.17 674.1 188.25 674.6 188.5 675.1 188.63 675.6 188.89 676.1 188.36 676.6 189.55 677.1 188.35 677.6 189.51 678.1 188.54 678.6 189.02 679.1 188.81 679.6 188.39 680.1 188.3 680.6 188.82 681.1 188.8 681.6 188.18 682.1 188.69 682.6 188.17 683.1 188.23 683.6 189.29 684.1 189.57 684.6 188.45 685.1 188.85 685.6 189.59 686.1 188.65 686.6 188.42 687.1 189.26 687.6 188.54 688.1 188.93 688.6 188.64 689.1 188.78 689.6 188.49 690.1 188.2 690.6 188.77 691.1 189.55 691.6 189.25 692.1 189.57 692.6 188.69 693.1 188.21 693.6 188.52 694.1 188.65 694.6 189.59 695.1 189.63 695.6 188.59 696.1 188.6 696.6 188.88 697.1 188.62 697.6 189.51 698.1 189.32 698.6 189.69 699.1 188.88 699.6 189.79 700.1 188.87 700.6 188.6 701.1 189.53 701.6 189.31 702.1 188.93 702.6 189.23 703.1 188.31 703.6 189.11 704.1 188.28 704.6 189.08 705.1 189.6 705.6 188.38 706.1 188.74 706.6 188.78 L706.6 192.14 706.1 191.82 705.6 193.12 705.1 191.91 704.6 192.3 704.1 191.82 703.6 193.06 703.1 193.13 702.6 192.55 702.1 192.99 701.6 192.63 701.1 192.54 700.6 192.17 700.1 192.27 699.6 192.06 699.1 192.53 698.6 191.96 698.1 192.44 697.6 192.86 697.1 191.98 696.6 192.59 696.1 192.46 695.6 193.15 695.1 192.36 694.6 192.66 694.1 192.24 693.6 192.78 693.1 192.58 692.6 191.69 692.1 192.57 691.6 192.7 691.1 192.52 690.6 193.18 690.1 193.06 689.6 192.51 689.1 192.38 688.6 191.86 688.1 192.05 687.6 193.16 687.1 192.88 686.6 192.11 686.1 192.28 685.6 192.53 685.1 191.95 684.6 192.01 684.1 193.15 683.6 192.55 683.1 192.04 682.6 192.88 682.1 192.91 681.6 192.38 681.1 192.28 680.6 192.47 680.1 191.75 679.6 193.17 679.1 192.98 678.6 192.06 678.1 193.11 677.6 192.46 677.1 191.81 676.6 193.04 676.1 192.1 675.6 192.52 675.1 191.73 674.6 192.11 674.1 191.69 673.6 192.41 673.1 191.98 672.6 192.87 672.1 191.6 671.6 192.56 671.1 192.37 670.6 191.74 670.1 192.03 669.6 191.9 669.1 192.42 668.6 192.48 668.1 192.06 667.6 193.02 667.1 191.79 666.6 191.75 666.1 192.98 665.6 192.72 665.1 192.4 664.6 192.94 664.1 191.72 663.6 192.23 663.1 192.84 662.6 191.57 662.1 191.65 661.6 192.83 661.1 192.28 660.6 191.68 660.1 191.67 659.6 192.16 659.1 191.71 658.6 192.65 658.1 192.42 657.6 192.9 657.1 192.87 656.6 192.24 656.1 192.99 655.6 192.1 655.1 191.89 654.6 191.75 654.1 191.96 653.6 192.85 653.1 192.01 652.6 191.92 652.1 192.06 651.6 192.54 651.1 192.77 650.6 192.31 650.1 191.96 649.6 191.87 649.1 192.89 648.6 192.02 648.1 192.91 647.6 192.38 647.1 191.74 646.6 191.64 646.1 191.54 645.6 191.5 645.1 192.9 644.6 191.71 644.1 192.24 643.6 192.91 643.1 191.48 642.6 191.99 642.1 192.52 641.6 192.1 641.1 191.46 640.6 192.33 640.1 192.66 639.6 192.23 639.1 192.09 638.6 191.91 638.1 191.9 637.6 192.04 637.1 192.43 636.6 191.53 636.1 192.28 635.6 192.32 635.1 192.38 634.6 191.48 634.1 191.88 633.6 192.12 633.1 191.66 632.6 192.14 632.1 192.84 631.6 192.67 631.1 191.89 630.6 192.34 630.1 192.74 629.6 192.82 629.1 192.1 628.6 192.14 628.1 192.26 627.6 192.77 627.1 192.61 626.6 191.95 626.1 191.69 625.6 191.51 625.1 191.6 624.6 191.46 624.1 191.76 623.6 191.6 623.1 191.66 622.6 191.3 622.1 191.58 621.6 191.74 621.1 192.51 620.6 192.5 620.1 192.31 619.6 191.3 619.1 192.33 618.6 192.58 618.1 192.21 617.6 192.46 617.1 192.72 616.6 192.29 616.1 192.63 615.6 192.15 615.1 191.62 614.6 191.89 614.1 191.72 613.6 192.18 613.1 192.57 612.6 191.94 612.1 192.07 611.6 191.9 611.1 191.91 610.6 191.95 610.1 191.39 609.6 191.33 609.1 192.32 608.6 192.3 608.1 191.86 607.6 192.13 607.1 191.28 606.6 191.59 606.1 191.89 605.6 192.71 605.1 191.47 604.6 192 604.1 191.76 603.6 192.07 603.1 191.52 602.6 191.29 602.1 192.2 601.6 191.91 601.1 191.87 600.6 192.66 600.1 192.73 599.6 191.63 599.1 192.68 598.6 192.41 598.1 191.29 597.6 191.99 597.1 191.57 596.6 191.68 596.1 192.34 595.6 191.32 595.1 192.55 594.6 192.63 594.1 191.27 593.6 192.71 593.1 192.7 592.6 191.9 592.1 192.28 591.6 191.94 591.1 191.38 590.6 192.47 590.1 191.7 589.6 191.72 589.1 192.3 588.6 191.37 588.1 191.96 587.6 191.23 587.1 191.95 586.6 191.44 586.1 191.55 585.6 191.18 585.1 192.54 584.6 191.35 584.1 191.72 583.6 191.45 583.1 191.12 582.6 191.52 582.1 191.43 581.6 191.27 581.1 192.47 580.6 191.09 580.1 191.41 579.6 192.35 579.1 191.85 578.6 192.36 578.1 192.26 577.6 192.22 577.1 191.19 576.6 192.11 576.1 191.63 575.6 192.2 575.1 191.7 574.6 191.86 574.1 192.24 573.6 192.25 573.1 191.86 572.6 192.39 572.1 191.45 571.6 191.27 571.1 192.26 570.6 191.96 570.1 191.18 569.6 192.2 569.1 192.03 568.6 192.5 568.1 191.24 567.6 192.06 567.1 192.43 566.6 191.69 566.1 191.18 565.6 191.81 565.1 192.37 564.6 192.53 564.1 192.31 563.6 191.18 563.1 191.98 562.6 192.07 562.1 192.31 561.6 191.82 561.1 190.6 560.6 190.14 560.1 190.62 559.6 189.91 559.1 189.09 558.6 189.67 558.1 189.18 557.6 189.06 557.1 189.5 556.6 188.49 556.1 188.65 555.6 189.17 555.1 188.41 554.6 188.66 554.1 187.36 553.6 188.68 553.1 187.52 552.6 187.22 552.1 187.69 551.6 187.4 551.1 187.08 550.6 186.28 550.1 187.42 549.6 186.84 549.1 186.33 548.6 186.99 548.1 187.07 547.6 186.93 547.1 185.83 546.6 185.18 546.1 185.63 545.6 185.14 545.1 184.74 544.6 185.53 544.1 184.27 543.6 184.99 543.1 184.34 542.6 184.03 542.1 183.58 541.6 183.58 541.1 183.7 540.6 184.16 540.1 183.61 539.6 182.83 539.1 184.02 538.6 183.56 538.1 183.47 537.6 182.31 537.1 182.32 536.6 183.01 536.1 183.11 535.6 181.86 535.1 182.13 534.6 181.49 534.1 182.15 533.6 181.91 533.1 181.55 532.6 181.7 532.1 182.05 531.6 182.41 531.1 181.49 530.6 181.57 530.1 182.61 529.6 182.53 529.1 182.77 528.6 182.81 528.1 182.09 527.6 181.55 527.1 181.72 526.6 181.49 526.1 181.4 525.6 181.58 525.1 181.22 524.6 182.31 524.1 181.75 523.6 182.28 523.1 182.25 522.6 181.65 522.1 181.75 521.6 181.25 521.1 181.86 520.6 182.5 520.1 181.14 519.6 182.41 519.1 181.16 518.6 182.54 518.1 182.47 517.6 181.68 517.1 182.17 516.6 181.27 516.1 181.91 515.6 182.33 515.1 181.05 514.6 182.11 514.1 182.29 513.6 180.89 513.1 181.15 512.6 182.09 512.1 181.27 511.6 180.91 511.1 181.33 510.6 180.77 510.1 180.65 509.6 181.01 509.1 181.31 508.6 181.18 508.1 181.28 507.6 180.59 507.1 180.63 506.6 180.35 506.1 180.61 505.6 180 505.1 181.12 504.6 180.59 504.1 180.87 503.6 180.54 503.1 181.06 502.6 180.31 502.1 179.88 501.6 179.46 501.1 180.03 500.6 179.42 500.1 179.27 499.6 179.19 499.1 178.69 498.6 178.82 498.1 179.45 497.6 178.87 497.1 179.16 496.6 178.73 496.1 177.4 495.6 177.01 495.1 177.66 494.6 176.25 494.1 177.19 493.6 175.47 493.1 176.26 492.6 175.4 492.1 174.74 491.6 174.53 491.1 174 490.6 173.78 490.1 172.95 489.6 172.32 489.1 172.52 488.6 172.37 488.1 172.1 487.6 171.52 487.1 170.21 486.6 170.62 486.1 170.08 485.6 169.77 485.1 169.36 484.6 169.34 484.1 168.55 483.6 168.01 483.1 168.35 482.6 167.82 482.1 167.6 481.6 167.41 481.1 167.23 480.6 166.8 480.1 166.82 479.6 166.75 479.1 167.22 478.6 167.58 478.1 166.63 477.6 167.21 477.1 167.29 476.6 166.51 476.1 166.03 475.6 165.57 475.1 165.92 474.6 166.8 474.1 165.51 473.6 165.54 473.1 166.29 472.6 164.46 472.1 165.1 471.6 166.01 471.1 164.96 470.6 165.75 470.1 165.05 469.6 163.74 469.1 163.89 468.6 164.37 468.1 165.09 467.6 163.98 467.1 164.7 466.6 163.17 466.1 163.02 465.6 162.44 465.1 164.09 464.6 163.17 464.1 163.11 463.6 161.94 463.1 162.7 462.6 161.87 462.1 161.91 461.6 162.34 461.1 162.06 460.6 161.78 460.1 162.44 459.6 161.25 459.1 161.56 458.6 160.36 458.1 160.75 457.6 161.52 457.1 161.42 456.6 160.38 456.1 161.09 455.6 160.38 455.1 159.57 454.6 158.95 454.1 158.86 453.6 159.6 453.1 159.41 452.6 159.17 452.1 158.48 451.6 157.05 451.1 156.66 450.6 156.74 450.1 156.17 449.6 155.83 449.1 155.97 448.6 155.77 448.1 154.7 447.6 155.06 447.1 154.57 446.6 154.16 446.1 152.61 445.6 152.97 445.1 152.69 444.6 150.86 444.1 151.2 443.6 151 443.1 150.98 442.6 150.04 442.1 148.66 441.6 148.65 441.1 146.95 440.6 146.2 440.1 146.58 439.6 145.66 439.1 143.75 438.6 144.39 438.1 143.29 437.6 142.27 437.1 141.41 436.6 140.37 436.1 139.83 435.6 139.02 435.1 137.48 434.6 136.45 434.1 135.33 433.6 134.93 433.1 133.81 432.6 132.95 432.1 131.18 431.6 130.58 431.1 128.35 430.6 126.66 430.1 125.18 429.6 124.23 429.1 123.98 428.6 123.01 428.1 121.25 427.6 121.18 427.1 119.21 426.6 118.98 426.1 116.65 425.6 116.89 425.1 116.39 424.6 114.66 424.1 114.72 423.6 112.77 423.1 112.59 422.6 111.19 422.1 109.83 421.6 108.68 421.1 108.54 420.6 107.88 420.1 106.52 419.6 104.95Z" fill="#808080"/>
<path d="M419.6 102.62 420.1 102.41 420.6 104.38 421.1 103.56 421.6 103.61 422.1 103.11 422.6 105.78 423.1 106.86 423.6 108.21 424.1 107.12 424.6 108.64 425.1 110.44 425.6 110.59 426.1 111.92 426.6 114.53 427.1 116.11 427.6 119.21 428.1 121.77 428.6 119.64 429.1 123.86 429.6 122.2 430.1 124.25 430.6 125.09 431.1 126.47 431.6 128.47 432.1 131.7 432.6 134.29 433.1 136.31 433.6 137.39 434.1 134.85 434.6 139.04 435.1 138.9 435.6 139.62 436.1 140.94 436.6 139.64 437.1 143.36 437.6 141.43 438.1 140.82 438.6 143.22 439.1 144.19 439.6 144.68 440.1 145.29 440.6 147.51 441.1 146.03 441.6 147.52 442.1 147.86 442.6 147.54 443.1 148.23 443.6 149.34 444.1 147.82 444.6 150.68 445.1 149.57 445.6 151.31 446.1 153.23 446.6 151.24 447.1 152.4 447.6 152.02 448.1 151.71 448.6 151.78 449.1 155.13 449.6 155.85 450.1 155.16 450.6 153.67 451.1 156.22 451.6 154.58 452.1 154.81 452.6 156.47 453.1 153.3 453.6 156.28 454.1 155.24 454.6 156.81 455.1 155.17 455.6 154.53 456.1 156.21 456.6 156.29 457.1 154.81 457.6 155.35 458.1 157.64 458.6 154.69 459.1 156.71 459.6 155.58 460.1 157.93 460.6 157.87 461.1 157.04 461.6 155.81 462.1 155.96 462.6 154.65 463.1 156.31 463.6 157.36 464.1 157.1 464.6 155.54 465.1 154.78 465.6 155.89 466.1 154.23 466.6 156.26 467.1 156.79 467.6 154.1 468.1 156.01 468.6 155.49 469.1 156.34 469.6 156.56 470.1 156.75 470.6 157.82 471.1 156.57 471.6 155.77 472.1 156.93 472.6 156.78 473.1 155.46 473.6 157.5 474.1 154.52 474.6 154.08 475.1 154.75 475.6 156.55 476.1 157.82 476.6 155.56 477.1 154.5 477.6 157.08 478.1 157.82 478.6 153.12 479.1 156.59 479.6 155.99 480.1 156.41 480.6 154.29 481.1 155.05 481.6 157.23 482.1 154.29 482.6 156.61 483.1 155.62 483.6 156.11 484.1 157.61 484.6 156.74 485.1 156.76 485.6 155.79 486.1 156.51 486.6 155.55 487.1 155.66 487.6 157.22 488.1 156.22 488.6 156.94 489.1 156.19 489.6 155.88 490.1 156.8 490.6 155.18 491.1 157.14 491.6 156.3 492.1 154.85 492.6 156.49 493.1 157.12 493.6 154.75 494.1 155.26 494.6 155.95 495.1 154.75 495.6 156.53 496.1 157.04 496.6 155.67 497.1 153.98 497.6 155.11 498.1 156.66 498.6 156.2 499.1 154.67 499.6 156.84 500.1 157.61 500.6 155.74 501.1 154.86 501.6 156.77 502.1 154.48 502.6 153.98 503.1 156.45 503.6 154.77 504.1 156.87 504.6 154.85 505.1 155.62 505.6 155.19 506.1 154.53 506.6 154.79 507.1 156.25 507.6 154.56 508.1 155.65 508.6 155.66 509.1 154.8 509.6 157.04 510.1 154.72 510.6 157.45 511.1 155.97 511.6 156.75 512.1 157.62 512.6 155.59 513.1 156.46 513.6 154 514.1 156.71 514.6 154.05 515.1 154.78 515.6 156.86 516.1 156.42 516.6 155 517.1 154.11 517.6 154.15 518.1 156.79 518.6 154.72 519.1 154.64 519.6 153.67 520.1 155.9 520.6 156.49 521.1 156.36 521.6 157.49 522.1 154.42 522.6 153.82 523.1 155.27 523.6 154.95 524.1 154.01 524.6 156.87 525.1 155.01 525.6 156.68 526.1 154.85 526.6 154.47 527.1 154.93 527.6 155.74 528.1 155.07 528.6 156.82 529.1 155.4 529.6 156.36 530.1 155.1 530.6 155.54 531.1 155.59 531.6 157.47 532.1 156 532.6 155.23 533.1 155.08 533.6 154.83 534.1 156.05 534.6 154.38 535.1 157.48 535.6 155.88 536.1 154.28 536.6 154.42 537.1 155.64 537.6 156.03 538.1 154.85 538.6 157.21 539.1 154.4 539.6 156.42 540.1 156.06 540.6 157.09 541.1 157.79 541.6 159.24 542.1 159.68 542.6 158.19 543.1 159.54 543.6 160.38 544.1 160.3 544.6 163.68 545.1 164.45 545.6 165.09 546.1 163.21 546.6 167.29 547.1 167.54 547.6 165.88 548.1 167.08 548.6 168.94 549.1 169.12 549.6 168.96 550.1 171.28 550.6 171.81 551.1 170.57 551.6 172 552.1 173.83 552.6 172.07 553.1 170.92 553.6 174.33 554.1 175.14 554.6 173.9 555.1 172.63 555.6 172.82 556.1 174.05 556.6 176.18 557.1 174.69 557.6 176.22 558.1 176.59 558.6 175.21 559.1 176.61 559.6 176.47 560.1 176.48 560.6 175.82 561.1 177.49 561.6 177.46 562.1 176.82 562.6 176.85 563.1 176.69 563.6 176.56 564.1 177.95 564.6 178.23 565.1 178.66 565.6 179.14 566.1 178.66 566.6 179.14 567.1 178.83 567.6 179.56 568.1 179.74 568.6 180.35 569.1 181.9 569.6 181.51 570.1 182.4 570.6 182.94 571.1 182.35 571.6 182.23 572.1 181.78 572.6 182.8 573.1 183.79 573.6 183.98 574.1 183.55 574.6 182.64 575.1 184.26 575.6 182.15 576.1 183.21 576.6 184.69 577.1 184.41 577.6 184.91 578.1 184.46 578.6 183.2 579.1 184.46 579.6 184.1 580.1 183.99 580.6 184.88 581.1 185.27 581.6 185.23 582.1 185.41 582.6 184.27 583.1 184.8 583.6 185.21 584.1 184.15 584.6 185.22 585.1 183.38 585.6 185.2 586.1 185.07 586.6 184.74 587.1 185.4 587.6 185.1 588.1 185.03 588.6 186.4 589.1 185.06 589.6 186.05 590.1 186.05 590.6 185.27 591.1 185.77 591.6 186.69 592.1 186.71 592.6 185.3 593.1 186.79 593.6 185.91 594.1 186.24 594.6 185.4 595.1 186.16 595.6 186.39 596.1 185.85 596.6 185.98 597.1 186.52 597.6 185.69 598.1 185.9 598.6 186.29 599.1 186.94 599.6 186.46 600.1 185.76 600.6 186.93 601.1 185.77 601.6 186.17 602.1 185.76 602.6 185.91 603.1 185.55 603.6 185.73 604.1 186.96 604.6 186.76 605.1 187.04 605.6 186.76 606.1 186.15 606.6 186.46 607.1 186.09 607.6 186.33 608.1 186.5 608.6 185.5 609.1 186.34 609.6 186.34 610.1 186.6 610.6 186.3 611.1 185.51 611.6 186.76 612.1 186.95 612.6 186.41 613.1 187.01 613.6 187.2 614.1 185.59 614.6 187.21 615.1 186.2 615.6 186.55 616.1 187.27 616.6 185.77 617.1 185.57 617.6 186.36 618.1 186.61 618.6 187.31 619.1 187.2 619.6 186.77 620.1 186.6 620.6 186.99 621.1 186.2 621.6 186.63 622.1 186.72 622.6 185.82 623.1 186.21 623.6 185.75 624.1 186.32 624.6 186.62 625.1 185.86 625.6 186.03 626.1 186 626.6 186.55 627.1 185.81 627.6 185.8 628.1 186.43 628.6 186.43 629.1 187.05 629.6 186.13 630.1 184.87 630.6 186.24 631.1 187.21 631.6 186.4 632.1 186.85 632.6 186.64 633.1 187.32 633.6 185.88 634.1 186.76 634.6 187.15 635.1 187.2 635.6 187.15 636.1 185.6 636.6 187.25 637.1 186.93 637.6 187.35 638.1 187.42 638.6 186.87 639.1 186.03 639.6 187.61 640.1 186.3 640.6 187 641.1 186 641.6 186.02 642.1 187.43 642.6 187.65 643.1 186.48 643.6 186.81 644.1 186.07 644.6 186.03 645.1 186.18 645.6 187.54 646.1 186.33 646.6 186.16 647.1 186.92 647.6 186.39 648.1 187.65 648.6 187.43 649.1 187.34 649.6 186.59 650.1 187.15 650.6 187.14 651.1 186.21 651.6 187.36 652.1 187.79 652.6 186.66 653.1 187.61 653.6 186.5 654.1 186.24 654.6 186.9 655.1 187.12 655.6 186.93 656.1 186.63 656.6 186.33 657.1 186.91 657.6 186.37 658.1 186.58 658.6 187.64 659.1 186.65 659.6 187.7 660.1 186.55 660.6 187.2 661.1 187.88 661.6 187.62 662.1 186.53 662.6 187.62 663.1 186.76 663.6 187.35 664.1 186.39 664.6 187.01 665.1 187.03 665.6 187.28 666.1 187.06 666.6 186.65 667.1 187.83 667.6 187.08 668.1 186.56 668.6 187.64 669.1 186.7 669.6 186.54 670.1 186.64 670.6 186.47 671.1 187.35 671.6 187.4 672.1 188.09 672.6 186.99 673.1 186.75 673.6 188.01 674.1 186.82 674.6 187.52 675.1 186.67 675.6 187.84 676.1 186.71 676.6 186.67 677.1 186.85 677.6 188 678.1 187.41 678.6 187.57 679.1 186.93 679.6 188.1 680.1 188.12 680.6 187.22 681.1 187.84 681.6 188.18 682.1 187.54 682.6 186.41 683.1 187.7 683.6 186.12 684.1 186.86 684.6 187.55 685.1 187.36 685.6 187.15 686.1 187.55 686.6 187.51 687.1 187.41 687.6 188.16 688.1 186.96 688.6 188.21 689.1 188.04 689.6 186.29 690.1 187.72 690.6 188.01 691.1 187.69 691.6 187.07 692.1 187.4 692.6 187.7 693.1 187.93 693.6 187.6 694.1 187.83 694.6 188.03 695.1 188.1 695.6 188.09 696.1 187.62 696.6 188.28 697.1 186.31 697.6 187.82 698.1 186.77 698.6 187.13 699.1 187.79 699.6 187.88 700.1 188.36 700.6 188.18 701.1 188.17 701.6 187.74 702.1 187.66 702.6 188.18 703.1 188.35 703.6 187.39 704.1 187.22 704.6 187.53 705.1 187.67 705.6 188.6 706.1 188.32 706.6 188.34 L706.6 191.95 706.1 190.73 705.6 190.95 705.1 190.99 704.6 191.15 704.1 190.88 703.6 191.16 703.1 191.94 702.6 191.12 702.1 191.83 701.6 191.7 701.1 191.44 700.6 191.48 700.1 191.11 699.6 190.94 699.1 191.12 698.6 190.89 698.1 191 697.6 190.88 697.1 191.79 696.6 191.74 696.1 191.89 695.6 190.96 695.1 191.63 694.6 191.44 694.1 190.91 693.6 191.14 693.1 190.54 692.6 191.3 692.1 190.48 691.6 190.7 691.1 191.84 690.6 190.7 690.1 190.79 689.6 192.07 689.1 191.93 688.6 191.42 688.1 191.35 687.6 191.72 687.1 191.58 686.6 191.78 686.1 190.76 685.6 190.85 685.1 191.34 684.6 190.94 684.1 191.57 683.6 191.6 683.1 191.76 682.6 190.55 682.1 190.95 681.6 190.67 681.1 190.74 680.6 190.29 680.1 191.07 679.6 191.04 679.1 191.48 678.6 190.82 678.1 190.64 677.6 191.43 677.1 191.24 676.6 191.35 676.1 190.96 675.6 191.77 675.1 191.43 674.6 190.24 674.1 190.26 673.6 190.89 673.1 191.34 672.6 191.22 672.1 191.72 671.6 190.62 671.1 190.37 670.6 191.94 670.1 190.76 669.6 191.89 669.1 190.67 668.6 190.89 668.1 190.58 667.6 191.63 667.1 190.74 666.6 190.52 666.1 191.01 665.6 191.08 665.1 190.62 664.6 191.05 664.1 191.18 663.6 191.32 663.1 190.07 662.6 190.99 662.1 190.84 661.6 190.8 661.1 190.31 660.6 191.24 660.1 191.33 659.6 190.29 659.1 190.93 658.6 190.43 658.1 191.41 657.6 190.03 657.1 191.86 656.6 190.57 656.1 190.46 655.6 190.81 655.1 190.73 654.6 190.97 654.1 191.39 653.6 191.29 653.1 191.06 652.6 191.24 652.1 191.54 651.6 191.51 651.1 190.51 650.6 190.17 650.1 191.46 649.6 190.69 649.1 190.68 648.6 191.48 648.1 190.94 647.6 191.2 647.1 191.22 646.6 191.09 646.1 189.87 645.6 190.37 645.1 191.25 644.6 190.35 644.1 190.31 643.6 190.23 643.1 190.53 642.6 191.41 642.1 191.27 641.6 189.92 641.1 190.51 640.6 191.35 640.1 191.21 639.6 191.19 639.1 191.55 638.6 189.74 638.1 190.83 637.6 191.35 637.1 189.96 636.6 189.94 636.1 190.97 635.6 190.46 635.1 190.81 634.6 190.6 634.1 190.39 633.6 191.12 633.1 190.68 632.6 190.01 632.1 189.81 631.6 190.27 631.1 190.22 630.6 190.97 630.1 190.68 629.6 190.38 629.1 190.91 628.6 190.66 628.1 190.51 627.6 190.51 627.1 190.68 626.6 191.17 626.1 190.46 625.6 190.01 625.1 189.9 624.6 189.77 624.1 190.78 623.6 190.15 623.1 189.72 622.6 189.71 622.1 191.1 621.6 191.08 621.1 190.67 620.6 190.18 620.1 190.43 619.6 190.55 619.1 189.59 618.6 190.55 618.1 190.95 617.6 191.17 617.1 189.61 616.6 190.14 616.1 190.68 615.6 190.7 615.1 190 614.6 190.7 614.1 190.74 613.6 190.6 613.1 189.66 612.6 189.94 612.1 190.3 611.6 190.63 611.1 191.1 610.6 190.89 610.1 191.85 609.6 189.83 609.1 190.41 608.6 190.95 608.1 191.05 607.6 189.61 607.1 190.69 606.6 189.66 606.1 189.54 605.6 190.15 605.1 190.64 604.6 190.32 604.1 189.52 603.6 190.15 603.1 190.46 602.6 189.47 602.1 189.43 601.6 190.33 601.1 189.66 600.6 189.53 600.1 190.43 599.6 189.6 599.1 189.81 598.6 191.18 598.1 190.4 597.6 190.95 597.1 190.75 596.6 190.27 596.1 190.4 595.6 189.66 595.1 190.69 594.6 189.84 594.1 190.83 593.6 189.47 593.1 190.8 592.6 190.03 592.1 189.68 591.6 189.69 591.1 190.29 590.6 190.65 590.1 189.17 589.6 189.57 589.1 190.59 588.6 190.99 588.1 190.41 587.6 189.76 587.1 190.56 586.6 189.15 586.1 189.89 585.6 191.1 585.1 189.7 584.6 188.9 584.1 189.56 583.6 189.86 583.1 189.96 582.6 188.59 582.1 189.51 581.6 188.88 581.1 188.3 580.6 189.49 580.1 189.85 579.6 188.97 579.1 189.63 578.6 189.21 578.1 188.98 577.6 189.02 577.1 189.08 576.6 188.42 576.1 187.39 575.6 187.72 575.1 187.88 574.6 189.07 574.1 187.73 573.6 188.32 573.1 188.32 572.6 187.69 572.1 187.59 571.6 186.9 571.1 186.57 570.6 187.07 570.1 187.62 569.6 186.15 569.1 185.6 568.6 186.63 568.1 185.23 567.6 185.6 567.1 186.24 566.6 184.45 566.1 184.02 565.6 184.15 565.1 183.38 564.6 184.67 564.1 184.72 563.6 183.26 563.1 184.24 562.6 184.65 562.1 182.85 561.6 184.01 561.1 183.23 560.6 181.73 560.1 183.91 559.6 182.29 559.1 181.97 558.6 183.21 558.1 182.48 557.6 181.77 557.1 180.54 556.6 179.93 556.1 181.73 555.6 182.23 555.1 180.36 554.6 182.18 554.1 181.55 553.6 179.86 553.1 180.7 552.6 179.13 552.1 180.6 551.6 179.89 551.1 178.74 550.6 179.65 550.1 177.62 549.6 176.27 549.1 177.82 548.6 176.97 548.1 176.53 547.6 174.61 547.1 173.32 546.6 172.12 546.1 171.26 545.6 173.38 545.1 172.3 544.6 171.02 544.1 170.17 543.6 167.73 543.1 169.02 542.6 167.02 542.1 165.28 541.6 167.62 541.1 164.46 540.6 165.95 540.1 163.53 539.6 166.57 539.1 164.3 538.6 166.39 538.1 166.35 537.6 164.27 537.1 163.94 536.6 163.62 536.1 165.13 535.6 166.4 535.1 162.6 534.6 163.18 534.1 163.63 533.6 163.44 533.1 164.55 532.6 166.02 532.1 165.81 531.6 165.42 531.1 165.64 530.6 164.61 530.1 166.29 529.6 163.8 529.1 166.3 528.6 165.18 528.1 163.1 527.6 164.85 527.1 164.72 526.6 165.4 526.1 163.05 525.6 166.24 525.1 165.41 524.6 165.79 524.1 163.56 523.6 162.86 523.1 166.47 522.6 164.65 522.1 162.84 521.6 164.8 521.1 165.97 520.6 164.49 520.1 163.12 519.6 164.75 519.1 166.85 518.6 166.29 518.1 163.72 517.6 162.89 517.1 163.23 516.6 165.49 516.1 166.18 515.6 163.72 515.1 165.76 514.6 163.31 514.1 164.77 513.6 166.13 513.1 164.67 512.6 163.52 512.1 165.18 511.6 165.38 511.1 164.69 510.6 163.36 510.1 164.03 509.6 163.05 509.1 163.53 508.6 164.72 508.1 165.18 507.6 165.73 507.1 165.25 506.6 163.71 506.1 163.47 505.6 166.06 505.1 162.98 504.6 165.55 504.1 164.53 503.6 165.65 503.1 163.55 502.6 164.12 502.1 163.85 501.6 163.88 501.1 164.01 500.6 162.8 500.1 163.98 499.6 164.13 499.1 164.96 498.6 166.36 498.1 165.79 497.6 164.05 497.1 166.98 496.6 165.35 496.1 163.73 495.6 165.11 495.1 164.48 494.6 166.05 494.1 164.19 493.6 165.46 493.1 165.79 492.6 164.97 492.1 165.52 491.6 166.25 491.1 164.89 490.6 163.92 490.1 164.56 489.6 166.06 489.1 162.68 488.6 164.01 488.1 166.09 487.6 165.97 487.1 163.33 486.6 167.16 486.1 164.32 485.6 165 485.1 166.29 484.6 164.6 484.1 166.34 483.6 165.64 483.1 163.43 482.6 163.35 482.1 165.32 481.6 165.1 481.1 163.55 480.6 163.53 480.1 163.58 479.6 164.19 479.1 162.73 478.6 165.12 478.1 164.32 477.6 163.43 477.1 163.21 476.6 166.18 476.1 164.49 475.6 163.21 475.1 165.76 474.6 163.25 474.1 165.9 473.6 162.8 473.1 164.57 472.6 163.91 472.1 165.87 471.6 166.77 471.1 163.22 470.6 164.98 470.1 164.46 469.6 166.32 469.1 163.19 468.6 165.22 468.1 165.47 467.6 163.33 467.1 163.09 466.6 166.27 466.1 162.67 465.6 166.19 465.1 166.25 464.6 164.53 464.1 165.42 463.6 163.95 463.1 163.11 462.6 165.92 462.1 166.22 461.6 163.53 461.1 164.28 460.6 163.01 460.1 163.32 459.6 166.01 459.1 164.82 458.6 163.76 458.1 164.91 457.6 165.51 457.1 162.6 456.6 164.63 456.1 164.64 455.6 164.71 455.1 165.97 454.6 165.63 454.1 165.74 453.6 163.06 453.1 164.64 452.6 162.33 452.1 163.36 451.6 162.46 451.1 162.14 450.6 162.47 450.1 163.26 449.6 162.58 449.1 164.65 448.6 160.64 448.1 162.14 447.6 161.53 447.1 161.7 446.6 160.8 446.1 162.68 445.6 158.88 445.1 157.57 444.6 161.03 444.1 160.92 443.6 159.2 443.1 156.9 442.6 155.33 442.1 154.61 441.6 157.98 441.1 158.04 440.6 154.6 440.1 155.07 439.6 153.41 439.1 154.67 438.6 153.53 438.1 152.55 437.6 151.89 437.1 151.4 436.6 148.68 436.1 151.76 435.6 148.94 435.1 149.42 434.6 148.14 434.1 146.92 433.6 146.95 433.1 143.98 432.6 142.77 432.1 140.55 431.6 141.4 431.1 136.34 430.6 139.21 430.1 137.61 429.6 133.06 429.1 133.61 428.6 130.55 428.1 129.12 427.6 130.15 427.1 128.16 426.6 124.26 426.1 125.62 425.6 120.48 425.1 120.09 424.6 121.11 424.1 115.92 423.6 114.98 423.1 116.28 422.6 112.57 422.1 112.5 421.6 110.8 421.1 108.37 420.6 107.18 420.1 107.29 419.6 106.14Z" fill="#ff00ff"/>
<path d="M419.6 103.07 420.1 105.93 420.6 100.83 421.1 102.35 421.6 106.13 422.1 105.45 422.6 109.4 423.1 108.22 423.6 107.3 424.1 111.16 424.6 111.86 425.1 111.45 425.6 118.5 426.1 118.32 426.6 122.46 427.1 123.05 427.6 124.19 428.1 127.76 428.6 124.66 429.1 127.1 429.6 127.12 430.1 132.59 430.6 133.12 431.1 133.16 431.6 136.84 432.1 139.87 432.6 139.44 433.1 140.9 433.6 138.6 434.1 140.99 434.6 141.83 435.1 142.89 435.6 145.74 436.1 145.1 436.6 144.97 437.1 148.27 437.6 148.6 438.1 145.99 438.6 146.69 439.1 146.14 439.6 148.82 440.1 147.99 440.6 147.63 441.1 151.09 441.6 151.19 442.1 149.53 442.6 149.14 443.1 152.12 443.6 154.27 444.1 154.64 444.6 154.52 445.1 153.94 445.6 155.32 446.1 155.74 446.6 153.89 447.1 156.78 447.6 157.11 448.1 157.22 448.6 157.7 449.1 156.62 449.6 158.13 450.1 156.85 450.6 158.28 451.1 156.73 451.6 158.28 452.1 158.74 452.6 159.65 453.1 160.43 453.6 159.88 454.1 161.67 454.6 161.5 455.1 163.12 455.6 164.04 456.1 164.38 456.6 165.65 457.1 167.56 457.6 167.47 458.1 167.83 458.6 170.58 459.1 170.26 459.6 171.8 460.1 171.92 460.6 171.45 461.1 172.04 461.6 173.72 462.1 173.54 462.6 175.34 463.1 174.48 463.6 174.43 464.1 175.07 464.6 176.67 465.1 176.7 465.6 176.33 466.1 176.89 466.6 176.03 467.1 177.57 467.6 177.56 468.1 178.74 468.6 178.06 469.1 178.59 469.6 179.16 470.1 180.41 470.6 180.02 471.1 179.84 471.6 180.29 472.1 181.68 472.6 181.13 473.1 183.07 473.6 182.12 474.1 183 474.6 182.9 475.1 183.99 475.6 184.67 476.1 184.82 476.6 183.55 477.1 184.95 477.6 185.93 478.1 186.16 478.6 185.58 479.1 185.76 479.6 186.4 480.1 187.32 480.6 187.35 481.1 188.17 481.6 187.43 482.1 187.29 482.6 186.98 483.1 186.99 483.6 187.67 484.1 187.02 484.6 186.69 485.1 187.71 485.6 186.98 486.1 186.49 486.6 188.06 487.1 187.83 487.6 188.15 488.1 187.04 488.6 187.01 489.1 187.83 489.6 187.83 490.1 187.08 490.6 187.36 491.1 186.98 491.6 187.5 492.1 186.86 492.6 186.6 493.1 185.59 493.6 187.2 494.1 187.19 494.6 187.37 495.1 187 495.6 187.52 496.1 187.44 496.6 187.14 497.1 187.16 497.6 187.16 498.1 187.55 498.6 186.69 499.1 187.92 499.6 187.75 500.1 187.68 500.6 186.64 501.1 186.79 501.6 186.53 502.1 187.08 502.6 186.75 503.1 186.98 503.6 187.19 504.1 187.19 504.6 187.77 505.1 186.91 505.6 186.66 506.1 187.1 506.6 187.01 507.1 187.24 507.6 186.4 508.1 186.19 508.6 187.74 509.1 187.18 509.6 186.31 510.1 185.6 510.6 187.28 511.1 187.67 511.6 186.32 512.1 187.79 512.6 187.55 513.1 186.95 513.6 186.2 514.1 186.67 514.6 187.61 515.1 187.61 515.6 186.33 516.1 186.95 516.6 187.68 517.1 186.72 517.6 187.02 518.1 186.26 518.6 186.9 519.1 186.12 519.6 187.64 520.1 186.83 520.6 186.14 521.1 186.43 521.6 187.43 522.1 187.67 522.6 187.69 523.1 187.29 523.6 186.06 524.1 187.21 524.6 186.82 525.1 186.97 525.6 186.39 526.1 185.95 526.6 187.28 527.1 186.8 527.6 187.07 528.1 187.22 528.6 186.27 529.1 186.97 529.6 187.63 530.1 186.68 530.6 186.9 531.1 186.46 531.6 186.94 532.1 187.5 532.6 186.46 533.1 186.68 533.6 186.55 534.1 187.44 534.6 186.09 535.1 186.34 535.6 186.81 536.1 186.39 536.6 186.08 537.1 186.45 537.6 186.34 538.1 187.02 538.6 187.5 539.1 186.14 539.6 185.46 540.1 186.86 540.6 185.91 541.1 186.69 541.6 186.19 542.1 186.35 542.6 187.1 543.1 186.9 543.6 186.85 544.1 187.17 544.6 186.76 545.1 186.26 545.6 186.74 546.1 187.13 546.6 185.87 547.1 187.56 547.6 187.5 548.1 186.6 548.6 186.72 549.1 185.76 549.6 185.76 550.1 186.19 550.6 186.97 551.1 185.97 551.6 187.57 552.1 187.48 552.6 186.96 553.1 186.21 553.6 187.6 554.1 186.2 554.6 186.65 555.1 187.51 555.6 186.35 556.1 186.39 556.6 187.57 557.1 187.08 557.6 186.28 558.1 185.98 558.6 185.88 559.1 186.14 559.6 186.56 560.1 187.08 560.6 185.95 561.1 186.44 561.6 187.59 562.1 185.73 562.6 187.43 563.1 186.62 563.6 187.05 564.1 186.11 564.6 186.84 565.1 186.45 565.6 186 566.1 186.92 566.6 186.34 567.1 185.97 567.6 186.73 568.1 186.68 568.6 185.91 569.1 185.8 569.6 187.51 570.1 185.89 570.6 186.27 571.1 186.71 571.6 186.76 572.1 187.48 572.6 186.91 573.1 186.1 573.6 186.03 574.1 185.6 574.6 185.83 575.1 187.56 575.6 187.33 576.1 187.28 576.6 185.73 577.1 187.28 577.6 186 578.1 186.08 578.6 187.5 579.1 186.35 579.6 186.97 580.1 186.17 580.6 186.18 581.1 187.24 581.6 187.44 582.1 186.53 582.6 186.85 583.1 185.68 583.6 185.06 584.1 187.17 584.6 185.84 585.1 187.44 585.6 187.34 586.1 187.19 586.6 187.43 587.1 187.02 587.6 186.29 588.1 185.74 588.6 187.09 589.1 185.68 589.6 187.48 590.1 186.21 590.6 186.42 591.1 186.07 591.6 187.16 592.1 187.46 592.6 187.46 593.1 186.86 593.6 186.57 594.1 187.25 594.6 186.66 595.1 187.32 595.6 186.82 596.1 187.26 596.6 187.21 597.1 186.41 597.6 185.92 598.1 186.53 598.6 185.76 599.1 186.12 599.6 186.54 600.1 187.36 600.6 186.81 601.1 186.59 601.6 186.49 602.1 187.37 602.6 185.66 603.1 187.24 603.6 186.55 604.1 186.55 604.6 186.13 605.1 186.53 605.6 185.8 606.1 187.27 606.6 186.86 607.1 187.46 607.6 187.06 608.1 186.17 608.6 185.91 609.1 187.45 609.6 186.98 610.1 186.36 610.6 187.32 611.1 186.15 611.6 186.06 612.1 185.99 612.6 186.72 613.1 187.35 613.6 186.28 614.1 185.93 614.6 187.34 615.1 187.27 615.6 186.31 616.1 186.49 616.6 186.03 617.1 186.4 617.6 186.64 618.1 186.57 618.6 187.34 619.1 186.11 619.6 187.38 620.1 186.88 620.6 187.47 621.1 187.4 621.6 187.31 622.1 185.82 622.6 187.46 623.1 187.25 623.6 186.1 624.1 185.74 624.6 186.39 625.1 187.08 625.6 186.13 626.1 185.07 626.6 186.02 627.1 186.34 627.6 186.22 628.1 187.48 628.6 186.12 629.1 185.92 629.6 186.37 630.1 187.33 630.6 185.95 631.1 186.04 631.6 186.03 632.1 186.71 632.6 186.01 633.1 185.9 633.6 186.86 634.1 185.93 634.6 186.28 635.1 187.46 635.6 186.05 636.1 185.86 636.6 186.52 637.1 187.28 637.6 185.79 638.1 186.19 638.6 187.24 639.1 185.72 639.6 186.68 640.1 186.12 640.6 187.36 641.1 186.62 641.6 186.29 642.1 186.05 642.6 186.48 643.1 187.33 643.6 185.67 644.1 186.71 644.6 186.95 645.1 186.11 645.6 186.44 646.1 186.16 646.6 186.15 647.1 185.86 647.6 187.03 648.1 185.83 648.6 187.09 649.1 186.04 649.6 186.52 650.1 185.76 650.6 186.12 651.1 187.09 651.6 186.21 652.1 186.99 652.6 187.04 653.1 187.38 653.6 186.21 654.1 187.36 654.6 187.3 655.1 186.03 655.6 185.82 656.1 185.74 656.6 186.68 657.1 187.3 657.6 186.75 658.1 186.23 658.6 186.87 659.1 187.29 659.6 187.06 660.1 186.7 660.6 185.75 661.1 187.27 661.6 186.86 662.1 185.14 662.6 187.22 663.1 186.81 663.6 186.59 664.1 186.07 664.6 185.94 665.1 186.26 665.6 186.71 666.1 185.81 666.6 186.32 667.1 185.87 667.6 185.81 668.1 186.26 668.6 185.58 669.1 185.3 669.6 187 670.1 185.68 670.6 185.74 671.1 186.25 671.6 187.37 672.1 186.84 672.6 186.54 673.1 185.7 673.6 185.56 674.1 187.33 674.6 186.62 675.1 185.86 675.6 186.47 676.1 185.92 676.6 186.01 677.1 186.96 677.6 186.97 678.1 186.8 678.6 187.32 679.1 185.65 679.6 186.4 680.1 186.77 680.6 186.06 681.1 186.92 681.6 186.43 682.1 186.58 682.6 185.58 683.1 187.21 683.6 187.27 684.1 186.16 684.6 186.21 685.1 187.21 685.6 186.57 686.1 186.6 686.6 187.1 687.1 186.76 687.6 186.6 688.1 187.17 688.6 187.17 689.1 187.21 689.6 187.27 690.1 186.79 690.6 185.88 691.1 187.07 691.6 185.53 692.1 187.22 692.6 185.49 693.1 186.06 693.6 185.7 694.1 185.83 694.6 186.92 695.1 186.37 695.6 185.67 696.1 186.87 696.6 185.78 697.1 185.5 697.6 185.75 698.1 186.57 698.6 186.76 699.1 186.2 699.6 185.63 700.1 185.84 700.6 185.71 701.1 186.3 701.6 186.63 702.1 185.93 702.6 185.54 703.1 186.76 703.6 186.14 704.1 186.39 704.6 185.99 705.1 187.01 705.6 187.22 706.1 186.85 706.6 185.82 L706.6 190.28 706.1 190.33 705.6 190.46 705.1 190.71 704.6 190.97 704.1 190.8 703.6 190.62 703.1 191.15 702.6 189.97 702.1 190.57 701.6 190.31 701.1 190.64 700.6 190.75 700.1 190.96 699.6 190.12 699.1 191.26 698.6 190.83 698.1 190.58 697.6 190.37 697.1 191.49 696.6 191.47 696.1 189.7 695.6 190.29 695.1 191.01 694.6 189.81 694.1 191.17 693.6 190.03 693.1 189.74 692.6 190.75 692.1 190.89 691.6 190.62 691.1 191.46 690.6 191.17 690.1 191.22 689.6 190.5 689.1 190.29 688.6 190.26 688.1 191.49 687.6 191.02 687.1 190.86 686.6 190.4 686.1 189.94 685.6 191.74 685.1 189.72 684.6 190.13 684.1 190.35 683.6 190.62 683.1 191.42 682.6 191.29 682.1 190.81 681.6 190.05 681.1 190.08 680.6 190.37 680.1 190.93 679.6 190.18 679.1 191.56 678.6 189.87 678.1 190.98 677.6 190.87 677.1 189.86 676.6 190.29 676.1 191.15 675.6 191.46 675.1 190.07 674.6 189.88 674.1 191.21 673.6 191.08 673.1 190.77 672.6 190.05 672.1 190.66 671.6 191.33 671.1 191.09 670.6 191.29 670.1 191.06 669.6 190.36 669.1 189.9 668.6 191.02 668.1 191.61 667.6 190.98 667.1 191.18 666.6 191.56 666.1 190.46 665.6 189.94 665.1 190.39 664.6 190.91 664.1 190.59 663.6 190.85 663.1 189.88 662.6 189.81 662.1 190.05 661.6 191.38 661.1 190.3 660.6 190.12 660.1 191.5 659.6 191.14 659.1 191.29 658.6 190.24 658.1 191.22 657.6 191.41 657.1 190.55 656.6 190.58 656.1 189.79 655.6 189.86 655.1 191.84 654.6 191.41 654.1 190.39 653.6 190.84 653.1 190.55 652.6 189.9 652.1 191.05 651.6 190.54 651.1 190.24 650.6 190.88 650.1 191.06 649.6 190.56 649.1 189.84 648.6 189.77 648.1 190.63 647.6 189.95 647.1 190.33 646.6 191.54 646.1 190.45 645.6 190.78 645.1 190.46 644.6 190.31 644.1 190.25 643.6 191.21 643.1 191.16 642.6 191.32 642.1 190.76 641.6 189.83 641.1 190.44 640.6 190.59 640.1 191.5 639.6 191.51 639.1 191.04 638.6 190.35 638.1 189.84 637.6 190.19 637.1 191.53 636.6 189.94 636.1 190.51 635.6 191.03 635.1 190 634.6 190.45 634.1 190.48 633.6 191.26 633.1 189.92 632.6 190.59 632.1 190.03 631.6 190.64 631.1 190.37 630.6 190.26 630.1 191.11 629.6 189.95 629.1 191.45 628.6 190.67 628.1 191.24 627.6 191.54 627.1 190.68 626.6 190.91 626.1 191.14 625.6 190.69 625.1 191.53 624.6 191.16 624.1 190.51 623.6 190.17 623.1 190.38 622.6 191.11 622.1 189.92 621.6 191.16 621.1 190.63 620.6 191.02 620.1 190.5 619.6 191.11 619.1 191.4 618.6 190.53 618.1 190.76 617.6 191.67 617.1 190.23 616.6 189.86 616.1 191.38 615.6 189.91 615.1 190.86 614.6 190.6 614.1 191.22 613.6 191.62 613.1 191.12 612.6 190.02 612.1 190.07 611.6 190.48 611.1 190.61 610.6 191.2 610.1 191.16 609.6 191.31 609.1 190.69 608.6 191.16 608.1 189.96 607.6 190.64 607.1 191.54 606.6 190.02 606.1 190.19 605.6 190.68 605.1 191.03 604.6 190.98 604.1 191.31 603.6 189.94 603.1 190.23 602.6 190.49 602.1 189.93 601.6 190.49 601.1 190.8 600.6 191.45 600.1 191.14 599.6 189.91 599.1 190.81 598.6 191.28 598.1 190.22 597.6 191.15 597.1 191.17 596.6 190.99 596.1 191.57 595.6 191.14 595.1 190.2 594.6 191.67 594.1 191.72 593.6 191.44 593.1 191.31 592.6 191.71 592.1 190.69 591.6 191.4 591.1 191.5 590.6 190.45 590.1 190.24 589.6 190.31 589.1 190.01 588.6 190.63 588.1 191.58 587.6 191.07 587.1 190.48 586.6 190.12 586.1 190.7 585.6 190.66 585.1 190 584.6 190.54 584.1 191.48 583.6 190.66 583.1 190.21 582.6 191.56 582.1 190.74 581.6 190.33 581.1 191.63 580.6 191.15 580.1 191.51 579.6 190.84 579.1 191.39 578.6 191.49 578.1 190.39 577.6 190.36 577.1 190.34 576.6 190.88 576.1 191.03 575.6 190.4 575.1 190.81 574.6 191.27 574.1 191.48 573.6 190.77 573.1 190.14 572.6 190.12 572.1 190.25 571.6 190.73 571.1 190.03 570.6 190.7 570.1 190.79 569.6 190.54 569.1 191.71 568.6 189.95 568.1 191.45 567.6 190.45 567.1 190.99 566.6 190.38 566.1 190.36 565.6 189.92 565.1 190.55 564.6 191.68 564.1 190.93 563.6 190.89 563.1 191.62 562.6 191.43 562.1 190.01 561.6 190.62 561.1 190.91 560.6 190.97 560.1 191.22 559.6 191.36 559.1 190.47 558.6 191.3 558.1 191.72 557.6 191.13 557.1 190.77 556.6 191.36 556.1 191.75 555.6 190.08 555.1 190.05 554.6 190.99 554.1 191.01 553.6 191.49 553.1 190.84 552.6 190.33 552.1 190.48 551.6 191.6 551.1 190.58 550.6 191.72 550.1 191.38 549.6 191.3 549.1 190.9 548.6 192.43 548.1 191.07 547.6 190.83 547.1 190.2 546.6 190.98 546.1 191.42 545.6 190.49 545.1 191.75 544.6 190.62 544.1 190 543.6 190.55 543.1 190.11 542.6 191.09 542.1 191.6 541.6 190.51 541.1 191.25 540.6 191.57 540.1 191.41 539.6 191.62 539.1 191.23 538.6 191.23 538.1 190.12 537.6 190.4 537.1 191.36 536.6 190.19 536.1 191.68 535.6 190.26 535.1 190.69 534.6 191.51 534.1 191.58 533.6 191.58 533.1 190.24 532.6 191.15 532.1 190.08 531.6 191.33 531.1 191.53 530.6 191.72 530.1 190.9 529.6 190.2 529.1 190.91 528.6 190.55 528.1 191.07 527.6 190.15 527.1 190.93 526.6 191.38 526.1 191.51 525.6 191.01 525.1 191.76 524.6 191.83 524.1 190.27 523.6 191.69 523.1 191.15 522.6 191.1 522.1 191.78 521.6 191.46 521.1 191.46 520.6 192.25 520.1 191.23 519.6 191.38 519.1 191.65 518.6 190.85 518.1 190.16 517.6 190.7 517.1 190.38 516.6 190.52 516.1 190.38 515.6 190.66 515.1 190.21 514.6 190.71 514.1 190.62 513.6 190.99 513.1 191.53 512.6 190.65 512.1 190.71 511.6 190.87 511.1 190.22 510.6 190.59 510.1 190.66 509.6 191.71 509.1 190.35 508.6 191.52 508.1 190.97 507.6 191.1 507.1 191.24 506.6 190.68 506.1 190.34 505.6 191.88 505.1 191.11 504.6 191.45 504.1 190.56 503.6 191.3 503.1 191.56 502.6 191.33 502.1 191.73 501.6 190.25 501.1 190.78 500.6 190.35 500.1 191.34 499.6 191.69 499.1 190.37 498.6 190.79 498.1 191.47 497.6 190.54 497.1 191.03 496.6 191.06 496.1 191.2 495.6 191.72 495.1 190.31 494.6 190.56 494.1 191 493.6 191.2 493.1 191.93 492.6 191.65 492.1 191.79 491.6 190.84 491.1 190.45 490.6 190.8 490.1 191.52 489.6 190.83 489.1 191 488.6 191.2 488.1 191.45 487.6 190.58 487.1 191.08 486.6 191.2 486.1 191.04 485.6 190.97 485.1 190.28 484.6 191.13 484.1 191.97 483.6 191.71 483.1 191.29 482.6 191.54 482.1 190.71 481.6 190.49 481.1 190.95 480.6 191.06 480.1 191.69 479.6 191.19 479.1 190.6 478.6 189.43 478.1 189.47 477.6 189.91 477.1 189.98 476.6 188.3 476.1 189.42 475.6 187.67 475.1 187.9 474.6 187.32 474.1 186.9 473.6 186.82 473.1 186.27 472.6 186.36 472.1 186.11 471.6 185.69 471.1 185.11 470.6 185.7 470.1 184.35 469.6 183.71 469.1 184.73 468.6 182.84 468.1 183.53 467.6 183.7 467.1 182.96 466.6 182.59 466.1 182.19 465.6 181.17 465.1 180.48 464.6 180.88 464.1 179.56 463.6 180.79 463.1 179.84 462.6 178.32 462.1 177.78 461.6 177.17 461.1 177.6 460.6 177.74 460.1 177.21 459.6 176.51 459.1 175.14 458.6 174.59 458.1 173.93 457.6 173.33 457.1 171.31 456.6 171.78 456.1 168.96 455.6 168.55 455.1 168.81 454.6 166.96 454.1 166.09 453.6 164.45 453.1 165.06 452.6 164.39 452.1 163.14 451.6 163.78 451.1 163.36 450.6 164.24 450.1 163.64 449.6 162.49 449.1 163.67 448.6 162.45 448.1 162.03 447.6 163.59 447.1 163.39 446.6 162.81 446.1 162.58 445.6 162.05 445.1 162.66 444.6 161.15 444.1 162.45 443.6 159.49 443.1 159.12 442.6 162.02 442.1 159.06 441.6 162.45 441.1 158.8 440.6 160.63 440.1 160.47 439.6 156.65 439.1 159.12 438.6 159.27 438.1 159.28 437.6 158.32 437.1 158 436.6 156.03 436.1 157.11 435.6 157.22 435.1 156.81 434.6 153.53 434.1 157.68 433.6 151.65 433.1 153.85 432.6 154.86 432.1 155.48 431.6 151.86 431.1 147.11 430.6 149.02 430.1 148.58 429.6 147.23 429.1 147.66 428.6 147.13 428.1 145.95 427.6 138.26 427.1 142.58 426.6 141.84 426.1 135.85 425.6 132.07 425.1 136.59 424.6 138.72 424.1 128.9 423.6 138.28 423.1 136.61 422.6 129 422.1 133.74 421.6 127.17 421.1 133.08 420.6 129.45 420.1 121.72 419.6 105Z" fill="#00ffff"/>
</g>
<path d="M47.1 222.5v-3.8M47.1 5v3.8M75.83 222.5v-2.5M75.83 5v2.5M104.56 222.5v-3.8M104.56 5v3.8M133.29 222.5v-2.5M133.29 5v2.5M162.02 222.5v-3.8M162.02 5v3.8M190.75 222.5v-2.5M190.75 5v2.5M219.48 222.5v-3.8M219.48 5v3.8M248.21 222.5v-2.5M248.21 5v2.5M276.94 222.5v-3.8M276.94 5v3.8M305.67 222.5v-2.5M305.67 5v2.5M334.4 222.5v-3.8M334.4 5v3.8M47.1 222.5h3.8M334.4 222.5h-3.8M47.1 206.96h2.5M334.4 206.96h-2.5M47.1 191.43h3.8M334.4 191.43h-3.8M47.1 175.89h2.5M334.4 175.89h-2.5M47.1 160.36h3.8M334.4 160.36h-3.8M47.1 144.82h2.5M334.4 144.82h-2.5M47.1 129.29h3.8M334.4 129.29h-3.8M47.1 113.75h2.5M334.4 113.75h-2.5M47.1 98.21h3.8M334.4 98.21h-3.8M47.1 82.68h2.5M334.4 82.68h-2.5M47.1 67.14h3.8M334.4 67.14h-3.8M47.1 51.61h2.5M334.4 51.61h-2.5M47.1 36.07h3.8M334.4 36.07h-3.8M47.1 20.54h2.5M334.4 20.54h-2.5M47.1 5h3.8M334.4 5h-3.8" stroke="#222" stroke-width="1" fill="none"/>
<text x="47.1" y="236.8" text-anchor="middle" font-size="12">0</text>
<text x="104.56" y="236.8" text-anchor="middle" font-size="12">2000</text>
<text x="162.02" y="236.8" text-anchor="middle" font-size="12">4000</text>
<text x="219.48" y="236.8" text-anchor="middle" font-size="12">6000</text>
<text x="276.94" y="236.8" text-anchor="middle" font-size="12">8000</text>
<text x="334.4" y="236.8" text-anchor="middle" font-size="12">10000</text>
<text x="42" y="9.3" text-anchor="end" font-size="12">600</text>
<text x="42" y="40.37" text-anchor="end" font-size="12">500</text>
<text x="42" y="71.44" text-anchor="end" font-size="12">400</text>
<text x="42" y="102.51" text-anchor="end" font-size="12">300</text>
<text x="42" y="133.59" text-anchor="end" font-size="12">200</text>
<text x="42" y="164.66" text-anchor="end" font-size="12">100</text>
<text x="42" y="195.73" text-anchor="end" font-size="12">0</text>
<text x="42" y="226.8" text-anchor="end" font-size="12">-100</text>
<path d="M419.6 222.4v-3.8M419.6 5v3.8M448.31 222.4v-2.5M448.31 5v2.5M477.02 222.4v-3.8M477.02 5v3.8M505.73 222.4v-2.5M505.73 5v2.5M534.44 222.4v-3.8M534.44 5v3.8M563.15 222.4v-2.5M563.15 5v2.5M591.86 222.4v-3.8M591.86 5v3.8M620.57 222.4v-2.5M620.57 5v2.5M649.28 222.4v-3.8M649.28 5v3.8M677.99 222.4v-2.5M677.99 5v2.5M706.7 222.4v-3.8M706.7 5v3.8M419.6 222.4h2.5M706.7 222.4h-2.5M419.6 198.24h3.8M706.7 198.24h-3.8M419.6 174.09h2.5M706.7 174.09h-2.5M419.6 149.93h3.8M706.7 149.93h-3.8M419.6 125.78h2.5M706.7 125.78h-2.5M419.6 101.62h3.8M706.7 101.62h-3.8M419.6 77.47h2.5M706.7 77.47h-2.5M419.6 53.31h3.8M706.7 53.31h-3.8M419.6 29.16h2.5M706.7 29.16h-2.5M419.6 5h3.8M706.7 5h-3.8" stroke="#222" stroke-width="1" fill="none"/>
<text x="419.6" y="236.8" text-anchor="middle" font-size="12">0</text>
<text x="477.02" y="236.8" text-anchor="middle" font-size="12">2000</text>
<text x="534.44" y="236.8" text-anchor="middle" font-size="12">4000</text>
<text x="591.86" y="236.8" text-anchor="middle" font-size="12">6000</text>
<text x="649.28" y="236.8" text-anchor="middle" font-size="12">8000</text>
<text x="706.7" y="236.8" text-anchor="middle" font-size="12">10000</text>
<text x="414.6" y="9.3" text-anchor="end" font-size="12">20</text>
<text x="414.6" y="57.61" text-anchor="end" font-size="12">10</text>
<text x="414.6" y="105.92" text-anchor="end" font-size="12">0</text>
<text x="414.6" y="154.23" text-anchor="end" font-size="12">-10</text>
<text x="414.6" y="202.54" text-anchor="end" font-size="12">-20</text>
<rect x="47.1" y="5" width="287.3" height="217.5" fill="none" stroke="#222" stroke-width="1.1"/>
<rect x="419.6" y="5" width="287.1" height="217.4" fill="none" stroke="#222" stroke-width="1.1"/>
<rect x="47.1" y="5" width="77.4" height="75.3" fill="#fff" stroke="#9c9c9c" stroke-width="1"/>
<path d="M55.4 12.2H74.6" stroke="#000000" stroke-width="1.2"/>
<text x="77.6" y="15.1" font-size="8.6">RDD=0</text>
<path d="M55.4 22.8H74.6" stroke="#ff0000" stroke-width="1.2"/>
<text x="77.6" y="25.7" font-size="8.6">RDD=0.1</text>
<path d="M55.4 33.4H74.6" stroke="#00ff00" stroke-width="1.2"/>
<text x="77.6" y="36.3" font-size="8.6">RDD=0.2</text>
<path d="M55.4 44H74.6" stroke="#0000ff" stroke-width="1.2"/>
<text x="77.6" y="46.9" font-size="8.6">RDD=0.3</text>
<path d="M55.4 54.6H74.6" stroke="#808080" stroke-width="1.2"/>
<text x="77.6" y="57.5" font-size="8.6">RDD=0.4</text>
<path d="M55.4 65.2H74.6" stroke="#ff00ff" stroke-width="1.2"/>
<text x="77.6" y="68.1" font-size="8.6">RDD=0.5</text>
<path d="M55.4 75.8H74.6" stroke="#00ffff" stroke-width="1.2"/>
<text x="77.6" y="78.7" font-size="8.6">RDD=0.6</text>
<rect x="419.6" y="5" width="71.4" height="74.4" fill="#fff" stroke="#9c9c9c" stroke-width="1"/>
<path d="M428.7 11H447.8" stroke="#000000" stroke-width="1.2"/>
<text x="450.9" y="14.1" font-size="8.6">RDD=0</text>
<path d="M428.7 21.55H447.8" stroke="#ff0000" stroke-width="1.2"/>
<text x="450.9" y="24.65" font-size="8.6">RDD=0.1</text>
<path d="M428.7 32.1H447.8" stroke="#00ff00" stroke-width="1.2"/>
<text x="450.9" y="35.2" font-size="8.6">RDD=0.2</text>
<path d="M428.7 42.65H447.8" stroke="#0000ff" stroke-width="1.2"/>
<text x="450.9" y="45.75" font-size="8.6">RDD=0.3</text>
<path d="M428.7 53.2H447.8" stroke="#808080" stroke-width="1.2"/>
<text x="450.9" y="56.3" font-size="8.6">RDD=0.4</text>
<path d="M428.7 63.75H447.8" stroke="#ff00ff" stroke-width="1.2"/>
<text x="450.9" y="66.85" font-size="8.6">RDD=0.5</text>
<path d="M428.7 74.3H447.8" stroke="#00ffff" stroke-width="1.2"/>
<text x="450.9" y="77.4" font-size="8.6">RDD=0.6</text>
<rect x="125.2" y="5" width="92" height="73.6" fill="#fff"/>
<path d="M172.3 5V78.6M125.2 17.2H217.2M125.2 29.4H217.2M125.2 41.7H217.2M125.2 54H217.2M125.2 66.3H217.2" stroke="#e6e6e6" stroke-width="1" fill="none"/>
<rect x="125.2" y="5" width="92" height="73.6" fill="none" stroke="#ababab" stroke-width="1"/>
<path d="M124.7 5H217.7" stroke="#555" stroke-width="1.1"/>
<text x="148.8" y="14.3" font-size="9.4" text-anchor="middle">Scheme</text>
<text x="148.8" y="26.4" font-size="9.4" text-anchor="middle">RDD=0.2</text>
<text x="185" y="26.4" font-size="9.4" text-anchor="start">~88</text>
<text x="148.8" y="38.65" font-size="9.4" text-anchor="middle">RDD=0.3</text>
<text x="185" y="38.65" font-size="9.4" text-anchor="start">~308</text>
<text x="148.8" y="50.95" font-size="9.4" text-anchor="middle">RDD=0.4</text>
<text x="185" y="50.95" font-size="9.4" text-anchor="start">~333</text>
<text x="148.8" y="63.25" font-size="9.4" text-anchor="middle">RDD=0.5</text>
<text x="185" y="63.25" font-size="9.4" text-anchor="start">~330</text>
<text x="148.8" y="75.55" font-size="9.4" text-anchor="middle">RDD=0.6</text>
<text x="185" y="75.55" font-size="9.4" text-anchor="start">~327</text>
<text x="184.0" y="14.0" font-size="9.7">ω</text><text x="191.6" y="17.1" font-size="6.3">max</text>
<rect x="491.6" y="5" width="205.4" height="73.6" fill="#fff"/>
<path d="M541.7 5V78.6M583.9 5V78.6M627 5V78.6M491.6 17.2H697M491.6 29.4H697M491.6 41.7H697M491.6 54H697M491.6 66.3H697" stroke="#e6e6e6" stroke-width="1" fill="none"/>
<rect x="491.6" y="5" width="205.4" height="73.6" fill="none" stroke="#ababab" stroke-width="1"/>
<path d="M491.1 5H697.5" stroke="#555" stroke-width="1.1"/>
<text x="516.65" y="14.3" font-size="9.4" text-anchor="middle">Scheme</text>
<text x="605.45" y="14.3" font-size="9.4" text-anchor="middle">Final(eV)</text>
<text x="662" y="14.3" font-size="9.4" text-anchor="middle">Increment(eV)</text>
<text x="516.65" y="26.4" font-size="9.4" text-anchor="middle">RDD=0.2</text>
<text x="562.8" y="26.4" font-size="9.4" text-anchor="middle">-2.98</text>
<text x="605.45" y="26.4" font-size="9.4" text-anchor="middle">-3.84</text>
<text x="662" y="26.4" font-size="9.4" text-anchor="middle">-0.86</text>
<text x="516.65" y="38.65" font-size="9.4" text-anchor="middle">RDD=0.3</text>
<text x="562.8" y="38.65" font-size="9.4" text-anchor="middle">-3.01</text>
<text x="605.45" y="38.65" font-size="9.4" text-anchor="middle">-16.15</text>
<text x="662" y="38.65" font-size="9.4" text-anchor="middle">-13.14</text>
<text x="516.65" y="50.95" font-size="9.4" text-anchor="middle">RDD=0.4</text>
<text x="562.8" y="50.95" font-size="9.4" text-anchor="middle">-3.09</text>
<text x="605.45" y="50.95" font-size="9.4" text-anchor="middle">-18.36</text>
<text x="662" y="50.95" font-size="9.4" text-anchor="middle">-15.27</text>
<text x="516.65" y="63.25" font-size="9.4" text-anchor="middle">RDD=0.5</text>
<text x="562.8" y="63.25" font-size="9.4" text-anchor="middle">-3.19</text>
<text x="605.45" y="63.25" font-size="9.4" text-anchor="middle">-18.18</text>
<text x="662" y="63.25" font-size="9.4" text-anchor="middle">-14.99</text>
<text x="516.65" y="75.55" font-size="9.4" text-anchor="middle">RDD=0.6</text>
<text x="562.8" y="75.55" font-size="9.4" text-anchor="middle">-3.38</text>
<text x="605.45" y="75.55" font-size="9.4" text-anchor="middle">-17.98</text>
<text x="662" y="75.55" font-size="9.4" text-anchor="middle">-14.6</text>
<clipPath id="ci"><rect x="542" y="5" width="39.6" height="12"/></clipPath>
<text x="544.3" y="14.3" font-size="9.4" clip-path="url(#ci)">Initial(eV)</text>
<text x="191.0" y="259.0" text-anchor="middle" font-size="14.5">Time (ps)</text>
<text x="563.2" y="259.0" text-anchor="middle" font-size="14.5">Time (ps)</text>
<text transform="translate(10.9 106.3) rotate(-90)" text-anchor="middle" font-size="14.2">Rotational frequency (GHz)</text>
<text transform="translate(386.3 109.1) rotate(-90)" text-anchor="middle" font-size="14.2">Interaction Energy (eV)</text>
<text x="49.4" y="284" font-family='"Liberation Serif", serif' font-size="19.5">(a) Rotational frequency of rotor</text>
<text x="424.3" y="284" font-family='"Liberation Serif", serif' font-size="19.5">(b) Interaction energy of system</text>
</svg>
</body></html>
